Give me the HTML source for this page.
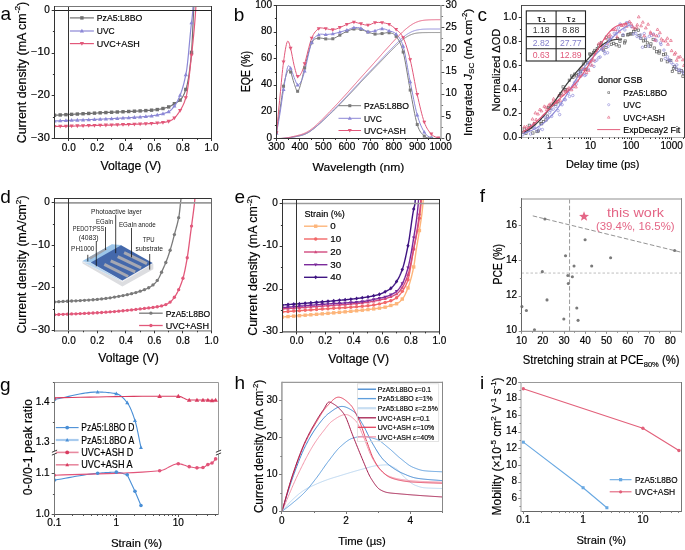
<!DOCTYPE html>
<html><head><meta charset="utf-8"><style>
html,body{margin:0;padding:0;background:#fff;}
svg{display:block;will-change:transform;}
text{font-family:"Liberation Sans", sans-serif;white-space:pre;stroke:#000;stroke-width:0.18;paint-order:stroke;}
</style></head><body>
<svg width="685" height="550" viewBox="0 0 685 550" font-family="Liberation Sans, sans-serif">
<defs><clipPath id="c1"><rect x="54.5" y="6.5" width="157" height="132"/></clipPath><clipPath id="c2"><rect x="276.5" y="5.5" width="164.5" height="133"/></clipPath><clipPath id="c3"><rect x="521.5" y="5.5" width="163" height="132"/></clipPath><clipPath id="c4"><rect x="54.5" y="198.5" width="157" height="132.3"/></clipPath><clipPath id="c5"><rect x="282.5" y="199.5" width="157" height="132.4"/></clipPath><clipPath id="c6"><rect x="54.5" y="382.5" width="164" height="132"/></clipPath><clipPath id="c7"><rect x="281.9" y="382.4" width="160.6" height="129.1"/></clipPath></defs>
<rect x="0" y="0" width="685" height="550" fill="#fff"/>
<g clip-path="url(#c1)">
<path d="M54.5,115.25 L54.79,115.23 L55.07,115.22 L55.36,115.2 L55.64,115.19 L55.93,115.17 L56.21,115.16 L56.5,115.14 L56.78,115.13 L57.07,115.11 L57.35,115.1 L57.64,115.08 L57.93,115.07 L58.21,115.05 L58.5,115.04 L58.78,115.02 L59.07,115.01 L59.35,114.99 L59.64,114.98 L59.92,114.96 L60.21,114.95 L60.49,114.93 L60.78,114.92 L61.07,114.9 L61.35,114.89 L61.64,114.87 L61.92,114.86 L62.21,114.84 L62.49,114.83 L62.78,114.81 L63.06,114.8 L63.35,114.78 L63.63,114.77 L63.92,114.75 L64.21,114.74 L64.49,114.72 L64.78,114.71 L65.06,114.69 L65.35,114.68 L65.63,114.66 L65.92,114.65 L66.2,114.63 L66.49,114.62 L66.77,114.6 L67.06,114.59 L67.35,114.57 L67.63,114.56 L67.92,114.54 L68.2,114.53 L68.49,114.51 L68.77,114.5 L69.06,114.49 L69.34,114.47 L69.63,114.46 L69.91,114.44 L70.2,114.43 L70.49,114.41 L70.77,114.4 L71.06,114.38 L71.34,114.37 L71.63,114.35 L71.91,114.34 L72.2,114.32 L72.48,114.31 L72.77,114.29 L73.05,114.28 L73.34,114.26 L73.63,114.25 L73.91,114.23 L74.2,114.22 L74.48,114.2 L74.77,114.19 L75.05,114.17 L75.34,114.16 L75.62,114.14 L75.91,114.13 L76.19,114.11 L76.48,114.1 L76.77,114.08 L77.05,114.07 L77.34,114.05 L77.62,114.04 L77.91,114.02 L78.19,114.01 L78.48,113.99 L78.76,113.98 L79.05,113.96 L79.33,113.95 L79.62,113.93 L79.91,113.92 L80.19,113.9 L80.48,113.89 L80.76,113.87 L81.05,113.86 L81.33,113.84 L81.62,113.83 L81.9,113.81 L82.19,113.8 L82.47,113.78 L82.76,113.77 L83.05,113.75 L83.33,113.74 L83.62,113.72 L83.9,113.71 L84.19,113.69 L84.47,113.68 L84.76,113.66 L85.04,113.65 L85.33,113.63 L85.61,113.62 L85.9,113.6 L86.19,113.59 L86.47,113.57 L86.76,113.56 L87.04,113.54 L87.33,113.53 L87.61,113.51 L87.9,113.5 L88.18,113.48 L88.47,113.47 L88.75,113.45 L89.04,113.44 L89.33,113.42 L89.61,113.41 L89.9,113.39 L90.18,113.38 L90.47,113.36 L90.75,113.34 L91.04,113.33 L91.32,113.31 L91.61,113.3 L91.89,113.28 L92.18,113.27 L92.47,113.25 L92.75,113.24 L93.04,113.22 L93.32,113.21 L93.61,113.19 L93.89,113.18 L94.18,113.16 L94.46,113.15 L94.75,113.13 L95.03,113.12 L95.32,113.1 L95.61,113.09 L95.89,113.07 L96.18,113.05 L96.46,113.04 L96.75,113.02 L97.03,113.01 L97.32,112.99 L97.6,112.98 L97.89,112.96 L98.17,112.95 L98.46,112.93 L98.75,112.92 L99.03,112.9 L99.32,112.89 L99.6,112.87 L99.89,112.86 L100.17,112.84 L100.46,112.83 L100.74,112.81 L101.03,112.8 L101.31,112.78 L101.6,112.77 L101.89,112.75 L102.17,112.74 L102.46,112.72 L102.74,112.71 L103.03,112.69 L103.31,112.68 L103.6,112.66 L103.88,112.65 L104.17,112.63 L104.45,112.62 L104.74,112.6 L105.03,112.59 L105.31,112.57 L105.6,112.56 L105.88,112.55 L106.17,112.53 L106.45,112.52 L106.74,112.5 L107.02,112.49 L107.31,112.47 L107.59,112.46 L107.88,112.44 L108.17,112.43 L108.45,112.42 L108.74,112.4 L109.02,112.39 L109.31,112.37 L109.59,112.36 L109.88,112.34 L110.16,112.33 L110.45,112.32 L110.73,112.3 L111.02,112.29 L111.31,112.27 L111.59,112.26 L111.88,112.25 L112.16,112.23 L112.45,112.22 L112.73,112.21 L113.02,112.19 L113.3,112.18 L113.59,112.16 L113.87,112.15 L114.16,112.14 L114.45,112.13 L114.73,112.11 L115.02,112.1 L115.3,112.09 L115.59,112.07 L115.87,112.06 L116.16,112.05 L116.44,112.04 L116.73,112.02 L117.01,112.01 L117.3,112 L117.59,111.99 L117.87,111.97 L118.16,111.96 L118.44,111.95 L118.73,111.94 L119.01,111.92 L119.3,111.91 L119.58,111.9 L119.87,111.89 L120.15,111.87 L120.44,111.86 L120.73,111.85 L121.01,111.84 L121.3,111.82 L121.58,111.81 L121.87,111.8 L122.15,111.79 L122.44,111.77 L122.72,111.76 L123.01,111.75 L123.29,111.73 L123.58,111.72 L123.87,111.71 L124.15,111.7 L124.44,111.68 L124.72,111.67 L125.01,111.66 L125.29,111.64 L125.58,111.63 L125.86,111.62 L126.15,111.6 L126.43,111.59 L126.72,111.58 L127.01,111.56 L127.29,111.55 L127.58,111.54 L127.86,111.52 L128.15,111.51 L128.43,111.49 L128.72,111.48 L129,111.47 L129.29,111.45 L129.57,111.44 L129.86,111.42 L130.15,111.41 L130.43,111.39 L130.72,111.38 L131,111.36 L131.29,111.35 L131.57,111.33 L131.86,111.32 L132.14,111.31 L132.43,111.29 L132.71,111.28 L133,111.26 L133.29,111.25 L133.57,111.24 L133.86,111.22 L134.14,111.21 L134.43,111.19 L134.71,111.18 L135,111.17 L135.28,111.15 L135.57,111.14 L135.85,111.13 L136.14,111.11 L136.43,111.1 L136.71,111.08 L137,111.07 L137.28,111.06 L137.57,111.04 L137.85,111.03 L138.14,111.02 L138.42,111 L138.71,110.99 L138.99,110.97 L139.28,110.96 L139.57,110.95 L139.85,110.93 L140.14,110.92 L140.42,110.9 L140.71,110.89 L140.99,110.87 L141.28,110.86 L141.56,110.84 L141.85,110.83 L142.13,110.81 L142.42,110.8 L142.71,110.78 L142.99,110.76 L143.28,110.75 L143.56,110.73 L143.85,110.72 L144.13,110.7 L144.42,110.68 L144.7,110.67 L144.99,110.65 L145.27,110.63 L145.56,110.61 L145.85,110.6 L146.13,110.58 L146.42,110.56 L146.7,110.54 L146.99,110.52 L147.27,110.5 L147.56,110.48 L147.84,110.46 L148.13,110.44 L148.41,110.42 L148.7,110.4 L148.99,110.38 L149.27,110.36 L149.56,110.34 L149.84,110.32 L150.13,110.29 L150.41,110.27 L150.7,110.25 L150.98,110.22 L151.27,110.2 L151.55,110.18 L151.84,110.15 L152.13,110.13 L152.41,110.1 L152.7,110.08 L152.98,110.05 L153.27,110.02 L153.55,110 L153.84,109.97 L154.12,109.94 L154.41,109.91 L154.69,109.88 L154.98,109.85 L155.27,109.82 L155.55,109.79 L155.84,109.76 L156.12,109.72 L156.41,109.69 L156.69,109.65 L156.98,109.61 L157.26,109.57 L157.55,109.53 L157.83,109.49 L158.12,109.44 L158.41,109.4 L158.69,109.35 L158.98,109.31 L159.26,109.26 L159.55,109.21 L159.83,109.16 L160.12,109.1 L160.4,109.05 L160.69,109 L160.97,108.94 L161.26,108.88 L161.55,108.82 L161.83,108.76 L162.12,108.7 L162.4,108.64 L162.69,108.58 L162.97,108.51 L163.26,108.45 L163.54,108.38 L163.83,108.31 L164.11,108.24 L164.4,108.17 L164.69,108.09 L164.97,108.02 L165.26,107.94 L165.54,107.87 L165.83,107.79 L166.11,107.71 L166.4,107.63 L166.68,107.54 L166.97,107.46 L167.25,107.38 L167.54,107.29 L167.83,107.2 L168.11,107.11 L168.4,107.02 L168.68,106.93 L168.97,106.83 L169.25,106.72 L169.54,106.6 L169.82,106.47 L170.11,106.33 L170.39,106.18 L170.68,106.02 L170.97,105.86 L171.25,105.69 L171.54,105.52 L171.82,105.34 L172.11,105.16 L172.39,104.98 L172.68,104.79 L172.96,104.61 L173.25,104.42 L173.53,104.24 L173.82,104.05 L174.11,103.87 L174.39,103.69 L174.68,103.51 L174.96,103.34 L175.25,103.18 L175.53,103.02 L175.82,102.86 L176.1,102.7 L176.39,102.55 L176.67,102.39 L176.96,102.24 L177.25,102.08 L177.53,101.91 L177.82,101.75 L178.1,101.57 L178.39,101.39 L178.67,101.2 L178.96,101 L179.24,100.79 L179.53,100.57 L179.81,100.33 L180.1,100.08 L180.39,99.81 L180.67,99.53 L180.96,99.22 L181.24,98.88 L181.53,98.51 L181.81,98.12 L182.1,97.7 L182.38,97.25 L182.67,96.77 L182.95,96.26 L183.24,95.72 L183.53,95.15 L183.81,94.55 L184.1,93.91 L184.38,93.25 L184.67,92.56 L184.95,91.83 L185.24,91.07 L185.52,90.28 L185.81,89.45 L186.09,88.6 L186.38,87.69 L186.67,86.7 L186.95,85.6 L187.24,84.4 L187.52,83.09 L187.81,81.67 L188.09,80.14 L188.38,78.5 L188.66,76.75 L188.95,74.87 L189.23,72.88 L189.52,70.77 L189.81,68.54 L190.09,66.19 L190.38,63.71 L190.66,61.1 L190.95,58.37 L191.23,55.5 L191.52,52.37 L191.8,48.23 L192.09,43.2 L192.37,37.51 L192.66,31.42 L192.95,25.17 L193.23,19.02 L193.52,13.2 L193.8,7.91 L194.09,2.82" stroke="#6f6f6f" stroke-width="1.2" fill="none" stroke-linejoin="round"/>
<rect x="52.8" y="113.55" width="3.4" height="3.4" fill="#6f6f6f"/>
<rect x="58.51" y="113.25" width="3.4" height="3.4" fill="#6f6f6f"/>
<rect x="64.22" y="112.95" width="3.4" height="3.4" fill="#6f6f6f"/>
<rect x="69.93" y="112.65" width="3.4" height="3.4" fill="#6f6f6f"/>
<rect x="75.64" y="112.35" width="3.4" height="3.4" fill="#6f6f6f"/>
<rect x="81.35" y="112.05" width="3.4" height="3.4" fill="#6f6f6f"/>
<rect x="87.05" y="111.75" width="3.4" height="3.4" fill="#6f6f6f"/>
<rect x="92.76" y="111.45" width="3.4" height="3.4" fill="#6f6f6f"/>
<rect x="98.47" y="111.14" width="3.4" height="3.4" fill="#6f6f6f"/>
<rect x="104.18" y="110.85" width="3.4" height="3.4" fill="#6f6f6f"/>
<rect x="109.89" y="110.56" width="3.4" height="3.4" fill="#6f6f6f"/>
<rect x="115.6" y="110.3" width="3.4" height="3.4" fill="#6f6f6f"/>
<rect x="121.31" y="110.05" width="3.4" height="3.4" fill="#6f6f6f"/>
<rect x="127.02" y="109.78" width="3.4" height="3.4" fill="#6f6f6f"/>
<rect x="132.73" y="109.49" width="3.4" height="3.4" fill="#6f6f6f"/>
<rect x="138.44" y="109.22" width="3.4" height="3.4" fill="#6f6f6f"/>
<rect x="144.15" y="108.9" width="3.4" height="3.4" fill="#6f6f6f"/>
<rect x="149.85" y="108.48" width="3.4" height="3.4" fill="#6f6f6f"/>
<rect x="155.56" y="107.87" width="3.4" height="3.4" fill="#6f6f6f"/>
<rect x="161.27" y="106.81" width="3.4" height="3.4" fill="#6f6f6f"/>
<rect x="166.98" y="105.23" width="3.4" height="3.4" fill="#6f6f6f"/>
<rect x="172.69" y="101.99" width="3.4" height="3.4" fill="#6f6f6f"/>
<rect x="178.4" y="98.38" width="3.4" height="3.4" fill="#6f6f6f"/>
<rect x="184.11" y="87.75" width="3.4" height="3.4" fill="#6f6f6f"/>
<rect x="189.82" y="50.67" width="3.4" height="3.4" fill="#6f6f6f"/>
<path d="M54.5,121.01 L54.79,120.99 L55.07,120.98 L55.36,120.97 L55.64,120.96 L55.93,120.94 L56.21,120.93 L56.5,120.92 L56.78,120.9 L57.07,120.89 L57.35,120.88 L57.64,120.87 L57.93,120.85 L58.21,120.84 L58.5,120.83 L58.78,120.82 L59.07,120.81 L59.35,120.79 L59.64,120.78 L59.92,120.77 L60.21,120.76 L60.49,120.74 L60.78,120.73 L61.07,120.72 L61.35,120.71 L61.64,120.7 L61.92,120.68 L62.21,120.67 L62.49,120.66 L62.78,120.65 L63.06,120.64 L63.35,120.62 L63.63,120.61 L63.92,120.6 L64.21,120.59 L64.49,120.58 L64.78,120.56 L65.06,120.55 L65.35,120.54 L65.63,120.53 L65.92,120.52 L66.2,120.51 L66.49,120.49 L66.77,120.48 L67.06,120.47 L67.35,120.46 L67.63,120.45 L67.92,120.44 L68.2,120.42 L68.49,120.41 L68.77,120.4 L69.06,120.39 L69.34,120.38 L69.63,120.37 L69.91,120.36 L70.2,120.34 L70.49,120.33 L70.77,120.32 L71.06,120.31 L71.34,120.3 L71.63,120.29 L71.91,120.28 L72.2,120.27 L72.48,120.25 L72.77,120.24 L73.05,120.23 L73.34,120.22 L73.63,120.21 L73.91,120.2 L74.2,120.19 L74.48,120.17 L74.77,120.16 L75.05,120.15 L75.34,120.14 L75.62,120.13 L75.91,120.12 L76.19,120.11 L76.48,120.1 L76.77,120.09 L77.05,120.07 L77.34,120.06 L77.62,120.05 L77.91,120.04 L78.19,120.03 L78.48,120.02 L78.76,120.01 L79.05,120 L79.33,119.98 L79.62,119.97 L79.91,119.96 L80.19,119.95 L80.48,119.94 L80.76,119.93 L81.05,119.92 L81.33,119.91 L81.62,119.9 L81.9,119.88 L82.19,119.87 L82.47,119.86 L82.76,119.85 L83.05,119.84 L83.33,119.83 L83.62,119.82 L83.9,119.81 L84.19,119.79 L84.47,119.78 L84.76,119.77 L85.04,119.76 L85.33,119.75 L85.61,119.74 L85.9,119.73 L86.19,119.72 L86.47,119.7 L86.76,119.69 L87.04,119.68 L87.33,119.67 L87.61,119.66 L87.9,119.65 L88.18,119.64 L88.47,119.63 L88.75,119.61 L89.04,119.6 L89.33,119.59 L89.61,119.58 L89.9,119.57 L90.18,119.56 L90.47,119.55 L90.75,119.53 L91.04,119.52 L91.32,119.51 L91.61,119.5 L91.89,119.49 L92.18,119.48 L92.47,119.46 L92.75,119.45 L93.04,119.44 L93.32,119.43 L93.61,119.42 L93.89,119.41 L94.18,119.39 L94.46,119.38 L94.75,119.37 L95.03,119.36 L95.32,119.35 L95.61,119.34 L95.89,119.32 L96.18,119.31 L96.46,119.3 L96.75,119.29 L97.03,119.28 L97.32,119.26 L97.6,119.25 L97.89,119.24 L98.17,119.23 L98.46,119.22 L98.75,119.2 L99.03,119.19 L99.32,119.18 L99.6,119.17 L99.89,119.15 L100.17,119.14 L100.46,119.13 L100.74,119.12 L101.03,119.11 L101.31,119.09 L101.6,119.08 L101.89,119.07 L102.17,119.06 L102.46,119.04 L102.74,119.03 L103.03,119.02 L103.31,119.01 L103.6,118.99 L103.88,118.98 L104.17,118.97 L104.45,118.95 L104.74,118.94 L105.03,118.93 L105.31,118.92 L105.6,118.9 L105.88,118.89 L106.17,118.88 L106.45,118.86 L106.74,118.85 L107.02,118.84 L107.31,118.82 L107.59,118.81 L107.88,118.8 L108.17,118.78 L108.45,118.77 L108.74,118.76 L109.02,118.74 L109.31,118.73 L109.59,118.72 L109.88,118.7 L110.16,118.69 L110.45,118.68 L110.73,118.66 L111.02,118.65 L111.31,118.63 L111.59,118.62 L111.88,118.61 L112.16,118.59 L112.45,118.58 L112.73,118.56 L113.02,118.55 L113.3,118.54 L113.59,118.52 L113.87,118.51 L114.16,118.49 L114.45,118.48 L114.73,118.46 L115.02,118.45 L115.3,118.44 L115.59,118.42 L115.87,118.41 L116.16,118.39 L116.44,118.38 L116.73,118.36 L117.01,118.35 L117.3,118.33 L117.59,118.32 L117.87,118.3 L118.16,118.29 L118.44,118.27 L118.73,118.26 L119.01,118.24 L119.3,118.23 L119.58,118.21 L119.87,118.2 L120.15,118.18 L120.44,118.16 L120.73,118.15 L121.01,118.13 L121.3,118.12 L121.58,118.1 L121.87,118.09 L122.15,118.07 L122.44,118.05 L122.72,118.04 L123.01,118.02 L123.29,118 L123.58,117.99 L123.87,117.97 L124.15,117.96 L124.44,117.94 L124.72,117.92 L125.01,117.91 L125.29,117.89 L125.58,117.87 L125.86,117.86 L126.15,117.84 L126.43,117.82 L126.72,117.8 L127.01,117.79 L127.29,117.77 L127.58,117.75 L127.86,117.74 L128.15,117.72 L128.43,117.7 L128.72,117.68 L129,117.66 L129.29,117.65 L129.57,117.63 L129.86,117.61 L130.15,117.59 L130.43,117.58 L130.72,117.56 L131,117.54 L131.29,117.52 L131.57,117.5 L131.86,117.49 L132.14,117.47 L132.43,117.45 L132.71,117.43 L133,117.41 L133.29,117.39 L133.57,117.38 L133.86,117.36 L134.14,117.34 L134.43,117.32 L134.71,117.3 L135,117.28 L135.28,117.26 L135.57,117.25 L135.85,117.23 L136.14,117.21 L136.43,117.19 L136.71,117.17 L137,117.15 L137.28,117.13 L137.57,117.11 L137.85,117.09 L138.14,117.07 L138.42,117.05 L138.71,117.03 L138.99,117.01 L139.28,116.99 L139.57,116.97 L139.85,116.94 L140.14,116.92 L140.42,116.9 L140.71,116.88 L140.99,116.86 L141.28,116.84 L141.56,116.81 L141.85,116.79 L142.13,116.77 L142.42,116.74 L142.71,116.72 L142.99,116.7 L143.28,116.67 L143.56,116.65 L143.85,116.62 L144.13,116.6 L144.42,116.57 L144.7,116.55 L144.99,116.52 L145.27,116.5 L145.56,116.47 L145.85,116.44 L146.13,116.42 L146.42,116.39 L146.7,116.36 L146.99,116.33 L147.27,116.3 L147.56,116.28 L147.84,116.25 L148.13,116.22 L148.41,116.19 L148.7,116.16 L148.99,116.13 L149.27,116.09 L149.56,116.06 L149.84,116.03 L150.13,116 L150.41,115.97 L150.7,115.93 L150.98,115.9 L151.27,115.87 L151.55,115.83 L151.84,115.8 L152.13,115.76 L152.41,115.72 L152.7,115.69 L152.98,115.65 L153.27,115.61 L153.55,115.58 L153.84,115.54 L154.12,115.5 L154.41,115.46 L154.69,115.42 L154.98,115.38 L155.27,115.34 L155.55,115.29 L155.84,115.25 L156.12,115.21 L156.41,115.16 L156.69,115.11 L156.98,115.07 L157.26,115.02 L157.55,114.97 L157.83,114.92 L158.12,114.86 L158.41,114.81 L158.69,114.75 L158.98,114.7 L159.26,114.64 L159.55,114.58 L159.83,114.52 L160.12,114.45 L160.4,114.39 L160.69,114.32 L160.97,114.25 L161.26,114.18 L161.55,114.11 L161.83,114.04 L162.12,113.96 L162.4,113.89 L162.69,113.81 L162.97,113.73 L163.26,113.64 L163.54,113.56 L163.83,113.47 L164.11,113.38 L164.4,113.29 L164.69,113.2 L164.97,113.1 L165.26,113 L165.54,112.9 L165.83,112.8 L166.11,112.69 L166.4,112.58 L166.68,112.47 L166.97,112.36 L167.25,112.24 L167.54,112.12 L167.83,112 L168.11,111.88 L168.4,111.75 L168.68,111.62 L168.97,111.48 L169.25,111.32 L169.54,111.14 L169.82,110.94 L170.11,110.72 L170.39,110.49 L170.68,110.25 L170.97,109.99 L171.25,109.71 L171.54,109.42 L171.82,109.12 L172.11,108.81 L172.39,108.49 L172.68,108.16 L172.96,107.82 L173.25,107.47 L173.53,107.12 L173.82,106.76 L174.11,106.39 L174.39,106.02 L174.68,105.65 L174.96,105.26 L175.25,104.86 L175.53,104.44 L175.82,104 L176.1,103.54 L176.39,103.06 L176.67,102.57 L176.96,102.06 L177.25,101.52 L177.53,100.97 L177.82,100.4 L178.1,99.82 L178.39,99.21 L178.67,98.59 L178.96,97.95 L179.24,97.29 L179.53,96.61 L179.81,95.91 L180.1,95.19 L180.39,94.46 L180.67,93.71 L180.96,92.93 L181.24,92.13 L181.53,91.31 L181.81,90.45 L182.1,89.57 L182.38,88.65 L182.67,87.71 L182.95,86.73 L183.24,85.71 L183.53,84.65 L183.81,83.55 L184.1,82.42 L184.38,81.23 L184.67,80.01 L184.95,78.73 L185.24,77.41 L185.52,76.03 L185.81,74.61 L186.09,73.13 L186.38,71.56 L186.67,69.76 L186.95,67.71 L187.24,65.44 L187.52,62.99 L187.81,60.36 L188.09,57.59 L188.38,54.7 L188.66,51.72 L188.95,48.68 L189.23,45.59 L189.52,42.49 L189.81,39.4 L190.09,36.34 L190.38,33.35 L190.66,30.44 L190.95,27.64 L191.23,25 L191.52,22.62 L191.8,20.34 L192.09,17.98 L192.37,15.35 L192.66,12.27 L192.95,8.25 L193.23,2.82" stroke="#8c88d6" stroke-width="1.2" fill="none" stroke-linejoin="round"/>
<polygon points="54.5,118.8 56.6,122.58 52.4,122.58" fill="#8c88d6"/>
<polygon points="60.21,118.55 62.31,122.33 58.11,122.33" fill="#8c88d6"/>
<polygon points="65.92,118.31 68.02,122.09 63.82,122.09" fill="#8c88d6"/>
<polygon points="71.63,118.08 73.73,121.86 69.53,121.86" fill="#8c88d6"/>
<polygon points="77.34,117.86 79.44,121.64 75.24,121.64" fill="#8c88d6"/>
<polygon points="83.05,117.63 85.15,121.41 80.95,121.41" fill="#8c88d6"/>
<polygon points="88.75,117.41 90.85,121.19 86.65,121.19" fill="#8c88d6"/>
<polygon points="94.46,117.18 96.56,120.96 92.36,120.96" fill="#8c88d6"/>
<polygon points="100.17,116.94 102.27,120.72 98.07,120.72" fill="#8c88d6"/>
<polygon points="105.88,116.68 107.98,120.46 103.78,120.46" fill="#8c88d6"/>
<polygon points="111.59,116.42 113.69,120.2 109.49,120.2" fill="#8c88d6"/>
<polygon points="117.3,116.13 119.4,119.91 115.2,119.91" fill="#8c88d6"/>
<polygon points="123.01,115.82 125.11,119.6 120.91,119.6" fill="#8c88d6"/>
<polygon points="128.72,115.48 130.82,119.26 126.62,119.26" fill="#8c88d6"/>
<polygon points="134.43,115.12 136.53,118.9 132.33,118.9" fill="#8c88d6"/>
<polygon points="140.14,114.72 142.24,118.5 138.04,118.5" fill="#8c88d6"/>
<polygon points="145.85,114.24 147.95,118.02 143.75,118.02" fill="#8c88d6"/>
<polygon points="151.55,113.63 153.65,117.41 149.45,117.41" fill="#8c88d6"/>
<polygon points="157.26,112.81 159.36,116.59 155.16,116.59" fill="#8c88d6"/>
<polygon points="162.97,111.52 165.07,115.3 160.87,115.3" fill="#8c88d6"/>
<polygon points="168.68,109.41 170.78,113.19 166.58,113.19" fill="#8c88d6"/>
<polygon points="174.39,103.82 176.49,107.6 172.29,107.6" fill="#8c88d6"/>
<polygon points="180.1,92.99 182.2,96.77 178,96.77" fill="#8c88d6"/>
<polygon points="185.81,72.4 187.91,76.18 183.71,76.18" fill="#8c88d6"/>
<polygon points="191.52,20.41 193.62,24.19 189.42,24.19" fill="#8c88d6"/>
<path d="M54.5,126.55 L54.79,126.55 L55.07,126.54 L55.36,126.53 L55.64,126.52 L55.93,126.51 L56.21,126.51 L56.5,126.5 L56.78,126.49 L57.07,126.48 L57.35,126.47 L57.64,126.47 L57.93,126.46 L58.21,126.45 L58.5,126.44 L58.78,126.43 L59.07,126.43 L59.35,126.42 L59.64,126.41 L59.92,126.4 L60.21,126.4 L60.49,126.39 L60.78,126.38 L61.07,126.37 L61.35,126.36 L61.64,126.36 L61.92,126.35 L62.21,126.34 L62.49,126.33 L62.78,126.33 L63.06,126.32 L63.35,126.31 L63.63,126.3 L63.92,126.3 L64.21,126.29 L64.49,126.28 L64.78,126.27 L65.06,126.26 L65.35,126.26 L65.63,126.25 L65.92,126.24 L66.2,126.23 L66.49,126.23 L66.77,126.22 L67.06,126.21 L67.35,126.2 L67.63,126.2 L67.92,126.19 L68.2,126.18 L68.49,126.17 L68.77,126.17 L69.06,126.16 L69.34,126.15 L69.63,126.14 L69.91,126.14 L70.2,126.13 L70.49,126.12 L70.77,126.12 L71.06,126.11 L71.34,126.1 L71.63,126.09 L71.91,126.09 L72.2,126.08 L72.48,126.07 L72.77,126.06 L73.05,126.06 L73.34,126.05 L73.63,126.04 L73.91,126.03 L74.2,126.03 L74.48,126.02 L74.77,126.01 L75.05,126 L75.34,126 L75.62,125.99 L75.91,125.98 L76.19,125.97 L76.48,125.97 L76.77,125.96 L77.05,125.95 L77.34,125.95 L77.62,125.94 L77.91,125.93 L78.19,125.92 L78.48,125.92 L78.76,125.91 L79.05,125.9 L79.33,125.89 L79.62,125.89 L79.91,125.88 L80.19,125.87 L80.48,125.86 L80.76,125.86 L81.05,125.85 L81.33,125.84 L81.62,125.84 L81.9,125.83 L82.19,125.82 L82.47,125.81 L82.76,125.81 L83.05,125.8 L83.33,125.79 L83.62,125.78 L83.9,125.78 L84.19,125.77 L84.47,125.76 L84.76,125.75 L85.04,125.75 L85.33,125.74 L85.61,125.73 L85.9,125.72 L86.19,125.72 L86.47,125.71 L86.76,125.7 L87.04,125.7 L87.33,125.69 L87.61,125.68 L87.9,125.67 L88.18,125.67 L88.47,125.66 L88.75,125.65 L89.04,125.64 L89.33,125.64 L89.61,125.63 L89.9,125.62 L90.18,125.61 L90.47,125.61 L90.75,125.6 L91.04,125.59 L91.32,125.58 L91.61,125.58 L91.89,125.57 L92.18,125.56 L92.47,125.55 L92.75,125.55 L93.04,125.54 L93.32,125.53 L93.61,125.52 L93.89,125.52 L94.18,125.51 L94.46,125.5 L94.75,125.49 L95.03,125.49 L95.32,125.48 L95.61,125.47 L95.89,125.46 L96.18,125.46 L96.46,125.45 L96.75,125.44 L97.03,125.43 L97.32,125.42 L97.6,125.42 L97.89,125.41 L98.17,125.4 L98.46,125.39 L98.75,125.39 L99.03,125.38 L99.32,125.37 L99.6,125.36 L99.89,125.35 L100.17,125.35 L100.46,125.34 L100.74,125.33 L101.03,125.32 L101.31,125.32 L101.6,125.31 L101.89,125.3 L102.17,125.29 L102.46,125.28 L102.74,125.28 L103.03,125.27 L103.31,125.26 L103.6,125.25 L103.88,125.24 L104.17,125.24 L104.45,125.23 L104.74,125.22 L105.03,125.21 L105.31,125.2 L105.6,125.2 L105.88,125.19 L106.17,125.18 L106.45,125.17 L106.74,125.16 L107.02,125.16 L107.31,125.15 L107.59,125.14 L107.88,125.13 L108.17,125.12 L108.45,125.11 L108.74,125.11 L109.02,125.1 L109.31,125.09 L109.59,125.08 L109.88,125.07 L110.16,125.06 L110.45,125.06 L110.73,125.05 L111.02,125.04 L111.31,125.03 L111.59,125.02 L111.88,125.01 L112.16,125.01 L112.45,125 L112.73,124.99 L113.02,124.98 L113.3,124.97 L113.59,124.96 L113.87,124.95 L114.16,124.95 L114.45,124.94 L114.73,124.93 L115.02,124.92 L115.3,124.91 L115.59,124.9 L115.87,124.89 L116.16,124.88 L116.44,124.88 L116.73,124.87 L117.01,124.86 L117.3,124.85 L117.59,124.84 L117.87,124.83 L118.16,124.82 L118.44,124.81 L118.73,124.8 L119.01,124.79 L119.3,124.79 L119.58,124.78 L119.87,124.77 L120.15,124.76 L120.44,124.75 L120.73,124.74 L121.01,124.73 L121.3,124.72 L121.58,124.71 L121.87,124.7 L122.15,124.69 L122.44,124.68 L122.72,124.67 L123.01,124.67 L123.29,124.66 L123.58,124.65 L123.87,124.64 L124.15,124.63 L124.44,124.62 L124.72,124.61 L125.01,124.6 L125.29,124.59 L125.58,124.58 L125.86,124.57 L126.15,124.56 L126.43,124.55 L126.72,124.54 L127.01,124.53 L127.29,124.52 L127.58,124.51 L127.86,124.5 L128.15,124.49 L128.43,124.48 L128.72,124.47 L129,124.46 L129.29,124.45 L129.57,124.44 L129.86,124.43 L130.15,124.42 L130.43,124.41 L130.72,124.4 L131,124.39 L131.29,124.38 L131.57,124.37 L131.86,124.36 L132.14,124.35 L132.43,124.34 L132.71,124.33 L133,124.32 L133.29,124.31 L133.57,124.3 L133.86,124.29 L134.14,124.28 L134.43,124.27 L134.71,124.26 L135,124.25 L135.28,124.24 L135.57,124.23 L135.85,124.22 L136.14,124.21 L136.43,124.2 L136.71,124.19 L137,124.18 L137.28,124.17 L137.57,124.16 L137.85,124.15 L138.14,124.14 L138.42,124.13 L138.71,124.12 L138.99,124.11 L139.28,124.1 L139.57,124.09 L139.85,124.08 L140.14,124.07 L140.42,124.06 L140.71,124.05 L140.99,124.04 L141.28,124.03 L141.56,124.02 L141.85,124.01 L142.13,123.99 L142.42,123.98 L142.71,123.97 L142.99,123.96 L143.28,123.95 L143.56,123.94 L143.85,123.92 L144.13,123.91 L144.42,123.9 L144.7,123.89 L144.99,123.88 L145.27,123.86 L145.56,123.85 L145.85,123.84 L146.13,123.82 L146.42,123.81 L146.7,123.8 L146.99,123.78 L147.27,123.77 L147.56,123.76 L147.84,123.74 L148.13,123.73 L148.41,123.71 L148.7,123.7 L148.99,123.68 L149.27,123.67 L149.56,123.65 L149.84,123.64 L150.13,123.62 L150.41,123.6 L150.7,123.59 L150.98,123.57 L151.27,123.55 L151.55,123.54 L151.84,123.52 L152.13,123.5 L152.41,123.49 L152.7,123.47 L152.98,123.45 L153.27,123.43 L153.55,123.41 L153.84,123.39 L154.12,123.37 L154.41,123.35 L154.69,123.33 L154.98,123.31 L155.27,123.29 L155.55,123.27 L155.84,123.25 L156.12,123.23 L156.41,123.21 L156.69,123.18 L156.98,123.16 L157.26,123.14 L157.55,123.11 L157.83,123.09 L158.12,123.06 L158.41,123.04 L158.69,123.01 L158.98,122.98 L159.26,122.96 L159.55,122.93 L159.83,122.9 L160.12,122.87 L160.4,122.84 L160.69,122.8 L160.97,122.77 L161.26,122.74 L161.55,122.7 L161.83,122.67 L162.12,122.63 L162.4,122.59 L162.69,122.55 L162.97,122.51 L163.26,122.47 L163.54,122.43 L163.83,122.38 L164.11,122.34 L164.4,122.29 L164.69,122.25 L164.97,122.2 L165.26,122.15 L165.54,122.1 L165.83,122.04 L166.11,121.99 L166.4,121.93 L166.68,121.88 L166.97,121.82 L167.25,121.76 L167.54,121.7 L167.83,121.63 L168.11,121.57 L168.4,121.5 L168.68,121.43 L168.97,121.36 L169.25,121.27 L169.54,121.16 L169.82,121.04 L170.11,120.91 L170.39,120.77 L170.68,120.62 L170.97,120.46 L171.25,120.29 L171.54,120.11 L171.82,119.92 L172.11,119.73 L172.39,119.53 L172.68,119.32 L172.96,119.11 L173.25,118.89 L173.53,118.67 L173.82,118.45 L174.11,118.21 L174.39,117.97 L174.68,117.71 L174.96,117.43 L175.25,117.14 L175.53,116.84 L175.82,116.52 L176.1,116.2 L176.39,115.85 L176.67,115.5 L176.96,115.14 L177.25,114.76 L177.53,114.38 L177.82,113.98 L178.1,113.58 L178.39,113.16 L178.67,112.74 L178.96,112.31 L179.24,111.87 L179.53,111.42 L179.81,110.97 L180.1,110.51 L180.39,110.05 L180.67,109.58 L180.96,109.1 L181.24,108.61 L181.53,108.12 L181.81,107.6 L182.1,107.07 L182.38,106.52 L182.67,105.95 L182.95,105.36 L183.24,104.75 L183.53,104.1 L183.81,103.43 L184.1,102.73 L184.38,101.99 L184.67,101.22 L184.95,100.41 L185.24,99.56 L185.52,98.68 L185.81,97.74 L186.09,96.77 L186.38,95.72 L186.67,94.49 L186.95,93.06 L187.24,91.45 L187.52,89.68 L187.81,87.75 L188.09,85.69 L188.38,83.5 L188.66,81.2 L188.95,78.81 L189.23,76.34 L189.52,73.79 L189.81,71.2 L190.09,68.56 L190.38,65.9 L190.66,63.23 L190.95,60.57 L191.23,57.92 L191.52,55.3 L191.8,52.7 L192.09,50.1 L192.37,47.47 L192.66,44.81 L192.95,42.08 L193.23,39.29 L193.52,36.41 L193.8,33.43 L194.09,30.34 L194.37,27.11 L194.66,23.73 L194.94,20.18 L195.23,16.46 L195.51,12.54 L195.8,8.16 L196.09,2.82" stroke="#e2587a" stroke-width="1.2" fill="none" stroke-linejoin="round"/>
<polygon points="54.5,128.76 56.6,124.98 52.4,124.98" fill="#e2587a"/>
<polygon points="60.21,128.6 62.31,124.82 58.11,124.82" fill="#e2587a"/>
<polygon points="65.92,128.45 68.02,124.67 63.82,124.67" fill="#e2587a"/>
<polygon points="71.63,128.3 73.73,124.52 69.53,124.52" fill="#e2587a"/>
<polygon points="77.34,128.15 79.44,124.37 75.24,124.37" fill="#e2587a"/>
<polygon points="83.05,128 85.15,124.22 80.95,124.22" fill="#e2587a"/>
<polygon points="88.75,127.86 90.85,124.08 86.65,124.08" fill="#e2587a"/>
<polygon points="94.46,127.71 96.56,123.93 92.36,123.93" fill="#e2587a"/>
<polygon points="100.17,127.55 102.27,123.77 98.07,123.77" fill="#e2587a"/>
<polygon points="105.88,127.39 107.98,123.61 103.78,123.61" fill="#e2587a"/>
<polygon points="111.59,127.23 113.69,123.45 109.49,123.45" fill="#e2587a"/>
<polygon points="117.3,127.05 119.4,123.27 115.2,123.27" fill="#e2587a"/>
<polygon points="123.01,126.87 125.11,123.09 120.91,123.09" fill="#e2587a"/>
<polygon points="128.72,126.68 130.82,122.9 126.62,122.9" fill="#e2587a"/>
<polygon points="134.43,126.48 136.53,122.7 132.33,122.7" fill="#e2587a"/>
<polygon points="140.14,126.28 142.24,122.5 138.04,122.5" fill="#e2587a"/>
<polygon points="145.85,126.04 147.95,122.26 143.75,122.26" fill="#e2587a"/>
<polygon points="151.55,125.74 153.65,121.96 149.45,121.96" fill="#e2587a"/>
<polygon points="157.26,125.34 159.36,121.56 155.16,121.56" fill="#e2587a"/>
<polygon points="162.97,124.72 165.07,120.94 160.87,120.94" fill="#e2587a"/>
<polygon points="168.68,123.64 170.78,119.86 166.58,119.86" fill="#e2587a"/>
<polygon points="174.39,120.17 176.49,116.39 172.29,116.39" fill="#e2587a"/>
<polygon points="180.1,112.71 182.2,108.93 178,108.93" fill="#e2587a"/>
<polygon points="185.81,99.95 187.91,96.17 183.71,96.17" fill="#e2587a"/>
<polygon points="191.52,57.5 193.62,53.72 189.42,53.72" fill="#e2587a"/>
</g>
<line x1="54.5" y1="10.5" x2="211.5" y2="10.5" stroke="#222" stroke-width="1"/>
<line x1="68.5" y1="6.5" x2="68.5" y2="138.5" stroke="#333" stroke-width="1"/>
<line x1="54.5" y1="6.5" x2="211.5" y2="6.5" stroke="#777" stroke-width="1"/>
<line x1="54.5" y1="138.5" x2="211.5" y2="138.5" stroke="#333" stroke-width="1"/>
<line x1="54.5" y1="6" x2="54.5" y2="139" stroke="#333" stroke-width="1"/>
<line x1="211.5" y1="6" x2="211.5" y2="139" stroke="#333" stroke-width="1"/>
<line x1="68.5" y1="138.5" x2="68.5" y2="141" stroke="#333" stroke-width="1"/>
<line x1="97.5" y1="138.5" x2="97.5" y2="141" stroke="#333" stroke-width="1"/>
<line x1="125.5" y1="138.5" x2="125.5" y2="141" stroke="#333" stroke-width="1"/>
<line x1="154.5" y1="138.5" x2="154.5" y2="141" stroke="#333" stroke-width="1"/>
<line x1="182.5" y1="138.5" x2="182.5" y2="141" stroke="#333" stroke-width="1"/>
<line x1="211.5" y1="138.5" x2="211.5" y2="141" stroke="#333" stroke-width="1"/>
<line x1="83.5" y1="138.5" x2="83.5" y2="140" stroke="#333" stroke-width="1"/>
<line x1="111.5" y1="138.5" x2="111.5" y2="140" stroke="#333" stroke-width="1"/>
<line x1="140.5" y1="138.5" x2="140.5" y2="140" stroke="#333" stroke-width="1"/>
<line x1="168.5" y1="138.5" x2="168.5" y2="140" stroke="#333" stroke-width="1"/>
<line x1="197.5" y1="138.5" x2="197.5" y2="140" stroke="#333" stroke-width="1"/>
<line x1="54.5" y1="10.5" x2="51.7" y2="10.5" stroke="#333" stroke-width="1"/>
<line x1="54.5" y1="53.5" x2="51.7" y2="53.5" stroke="#333" stroke-width="1"/>
<line x1="54.5" y1="95.5" x2="51.7" y2="95.5" stroke="#333" stroke-width="1"/>
<line x1="54.5" y1="138.5" x2="51.7" y2="138.5" stroke="#333" stroke-width="1"/>
<line x1="54.5" y1="31.5" x2="52.9" y2="31.5" stroke="#333" stroke-width="1"/>
<line x1="54.5" y1="74.5" x2="52.9" y2="74.5" stroke="#333" stroke-width="1"/>
<line x1="54.5" y1="117.5" x2="52.9" y2="117.5" stroke="#333" stroke-width="1"/>
<text x="68.77" y="150.78" font-size="10" text-anchor="middle">0.0</text>
<text x="97.32" y="150.78" font-size="10" text-anchor="middle">0.2</text>
<text x="125.86" y="150.78" font-size="10" text-anchor="middle">0.4</text>
<text x="154.41" y="150.78" font-size="10" text-anchor="middle">0.6</text>
<text x="182.95" y="150.78" font-size="10" text-anchor="middle">0.8</text>
<text x="211.5" y="150.78" font-size="10" text-anchor="middle">1.0</text>
<text x="49.9" y="12.68" font-size="10" text-anchor="end">0</text>
<text x="49.9" y="55.35" font-size="10" text-anchor="end" textLength="18.8" lengthAdjust="spacingAndGlyphs">−10</text>
<text x="49.9" y="98.01" font-size="10" text-anchor="end" textLength="18.8" lengthAdjust="spacingAndGlyphs">−20</text>
<text x="49.9" y="140.68" font-size="10" text-anchor="end" textLength="18.8" lengthAdjust="spacingAndGlyphs">−30</text>
<line x1="69.9" y1="17.9" x2="93.9" y2="17.9" stroke="#6f6f6f" stroke-width="1.2"/>
<rect x="80.2" y="16.2" width="3.4" height="3.4" fill="#6f6f6f"/>
<text x="96.8" y="21.34" font-size="9.6" textLength="45.5" lengthAdjust="spacingAndGlyphs">PzA5:L8BO</text>
<line x1="69.9" y1="31" x2="93.9" y2="31" stroke="#8c88d6" stroke-width="1.2"/>
<polygon points="81.9,28.8 84,32.58 79.8,32.58" fill="#8c88d6"/>
<text x="96.8" y="34.44" font-size="9.6" textLength="17.9" lengthAdjust="spacingAndGlyphs">UVC</text>
<line x1="69.9" y1="43.6" x2="93.9" y2="43.6" stroke="#e2587a" stroke-width="1.2"/>
<polygon points="81.9,45.8 84,42.02 79.8,42.02" fill="#e2587a"/>
<text x="96.8" y="47.04" font-size="9.6" textLength="42.9" lengthAdjust="spacingAndGlyphs">UVC+ASH</text>
<text x="100.4" y="170" font-size="12" textLength="60.8" lengthAdjust="spacingAndGlyphs">Voltage (V)</text>
<g transform="translate(25.5,143.3) rotate(-90)">
<text x="0" y="0" font-size="12" textLength="129.98" lengthAdjust="spacingAndGlyphs">Current density (mA cm</text>
<text x="129.98" y="-5.3" font-size="8" textLength="7.38" lengthAdjust="spacingAndGlyphs">-2</text>
<text x="137.36" y="0" font-size="12" textLength="4.14" lengthAdjust="spacingAndGlyphs">)</text>
</g>
<text x="0.5" y="20.3" font-size="19" fill="#050505" style="stroke:none">a</text>
<g clip-path="url(#c2)">
<path d="M276.5,132.51 C277.09,128.64 278.85,116.95 280.02,109.24 C281.19,101.53 282.29,92.55 283.54,86.23 C284.79,79.91 286.35,73.71 287.52,71.33 C288.7,68.96 289.48,70 290.57,72 C291.67,74 292.92,80.09 294.09,83.31 C295.27,86.52 296.44,91.4 297.61,91.28 C298.78,91.17 299.96,86.54 301.13,82.64 C302.3,78.74 302.89,74.53 304.65,67.88 C306.41,61.23 309.34,47.68 311.69,42.74 C314.03,37.8 316.38,38.86 318.72,38.22 C321.07,37.58 323.41,38.79 325.76,38.88 C328.11,38.97 330.45,39.37 332.8,38.75 C335.14,38.13 337.49,36.4 339.83,35.16 C342.18,33.92 344.53,32.32 346.87,31.3 C349.22,30.28 351.56,29.35 353.91,29.04 C356.25,28.73 358.6,28.93 360.95,29.44 C363.29,29.95 365.64,31.32 367.98,32.1 C370.33,32.88 372.67,33.85 375.02,34.09 C377.37,34.34 379.71,33.78 382.06,33.56 C384.4,33.34 386.75,32.3 389.09,32.77 C391.44,33.23 393.79,33.14 396.13,36.36 C398.48,39.57 400.82,43.09 403.17,52.05 C405.51,61.01 407.86,78.01 410.21,90.09 C412.55,102.17 414.9,116.87 417.24,124.53 C419.59,132.2 421.93,133.84 424.28,136.11 C426.63,138.37 428.97,137.7 431.32,138.1 C433.66,138.5 436.79,138.43 438.35,138.5 C439.92,138.57 440.31,138.5 440.7,138.5" stroke="#7a7a7a" stroke-width="1.0" fill="none" stroke-linejoin="round"/>
<path d="M276.5,138.5 L276.73,138.5 L276.97,138.5 L277.2,138.5 L277.44,138.5 L277.67,138.5 L277.91,138.5 L278.14,138.5 L278.38,138.5 L278.61,138.49 L278.85,138.49 L279.08,138.49 L279.31,138.49 L279.55,138.48 L279.78,138.48 L280.02,138.48 L280.25,138.47 L280.49,138.47 L280.72,138.46 L280.96,138.45 L281.19,138.45 L281.43,138.44 L281.66,138.43 L281.9,138.42 L282.13,138.41 L282.36,138.4 L282.6,138.39 L282.83,138.38 L283.07,138.37 L283.3,138.35 L283.54,138.34 L283.77,138.32 L284.01,138.31 L284.24,138.29 L284.48,138.27 L284.71,138.26 L284.94,138.24 L285.18,138.22 L285.41,138.2 L285.65,138.18 L285.88,138.15 L286.12,138.13 L286.35,138.1 L286.59,138.08 L286.82,138.05 L287.06,138.03 L287.29,138 L287.52,137.97 L287.76,137.94 L287.99,137.91 L288.23,137.88 L288.46,137.85 L288.7,137.81 L288.93,137.78 L289.17,137.75 L289.4,137.71 L289.64,137.68 L289.87,137.64 L290.11,137.61 L290.34,137.57 L290.57,137.53 L290.81,137.49 L291.04,137.45 L291.28,137.41 L291.51,137.37 L291.75,137.33 L291.98,137.29 L292.22,137.25 L292.45,137.21 L292.69,137.17 L292.92,137.13 L293.15,137.09 L293.39,137.05 L293.62,137.01 L293.86,136.97 L294.09,136.93 L294.33,136.89 L294.56,136.84 L294.8,136.8 L295.03,136.76 L295.27,136.72 L295.5,136.67 L295.73,136.63 L295.97,136.59 L296.2,136.55 L296.44,136.5 L296.67,136.46 L296.91,136.42 L297.14,136.37 L297.38,136.33 L297.61,136.29 L297.85,136.24 L298.08,136.2 L298.32,136.15 L298.55,136.1 L298.78,136.05 L299.02,136 L299.25,135.95 L299.49,135.9 L299.72,135.85 L299.96,135.79 L300.19,135.73 L300.43,135.68 L300.66,135.62 L300.9,135.56 L301.13,135.49 L301.36,135.43 L301.6,135.36 L301.83,135.29 L302.07,135.22 L302.3,135.15 L302.54,135.08 L302.77,135 L303.01,134.92 L303.24,134.84 L303.48,134.75 L303.71,134.67 L303.94,134.58 L304.18,134.49 L304.41,134.4 L304.65,134.3 L304.88,134.2 L305.12,134.1 L305.35,134 L305.59,133.89 L305.82,133.78 L306.06,133.67 L306.29,133.56 L306.53,133.45 L306.76,133.33 L306.99,133.21 L307.23,133.09 L307.46,132.96 L307.7,132.83 L307.93,132.7 L308.17,132.57 L308.4,132.44 L308.64,132.3 L308.87,132.16 L309.11,132.01 L309.34,131.86 L309.57,131.72 L309.81,131.56 L310.04,131.41 L310.28,131.25 L310.51,131.09 L310.75,130.92 L310.98,130.76 L311.22,130.59 L311.45,130.41 L311.69,130.24 L311.92,130.06 L312.15,129.88 L312.39,129.7 L312.62,129.52 L312.86,129.34 L313.09,129.16 L313.33,128.98 L313.56,128.79 L313.8,128.61 L314.03,128.42 L314.27,128.24 L314.5,128.05 L314.74,127.86 L314.97,127.67 L315.2,127.48 L315.44,127.29 L315.67,127.09 L315.91,126.9 L316.14,126.71 L316.38,126.51 L316.61,126.31 L316.85,126.12 L317.08,125.92 L317.32,125.72 L317.55,125.52 L317.78,125.32 L318.02,125.12 L318.25,124.91 L318.49,124.71 L318.72,124.5 L318.96,124.3 L319.19,124.09 L319.43,123.88 L319.66,123.67 L319.9,123.47 L320.13,123.26 L320.36,123.05 L320.6,122.84 L320.83,122.62 L321.07,122.41 L321.3,122.2 L321.54,121.99 L321.77,121.77 L322.01,121.56 L322.24,121.34 L322.48,121.13 L322.71,120.91 L322.95,120.7 L323.18,120.48 L323.41,120.26 L323.65,120.04 L323.88,119.82 L324.12,119.6 L324.35,119.38 L324.59,119.17 L324.82,118.95 L325.06,118.73 L325.29,118.51 L325.53,118.29 L325.76,118.07 L325.99,117.85 L326.23,117.63 L326.46,117.41 L326.7,117.18 L326.93,116.96 L327.17,116.74 L327.4,116.52 L327.64,116.3 L327.87,116.08 L328.11,115.85 L328.34,115.63 L328.57,115.41 L328.81,115.18 L329.04,114.96 L329.28,114.74 L329.51,114.51 L329.75,114.29 L329.98,114.06 L330.22,113.84 L330.45,113.62 L330.69,113.39 L330.92,113.16 L331.16,112.94 L331.39,112.71 L331.62,112.49 L331.86,112.26 L332.09,112.03 L332.33,111.81 L332.56,111.58 L332.8,111.35 L333.03,111.13 L333.27,110.9 L333.5,110.67 L333.74,110.44 L333.97,110.21 L334.2,109.98 L334.44,109.75 L334.67,109.52 L334.91,109.29 L335.14,109.05 L335.38,108.82 L335.61,108.59 L335.85,108.35 L336.08,108.12 L336.32,107.89 L336.55,107.65 L336.78,107.42 L337.02,107.19 L337.25,106.95 L337.49,106.72 L337.72,106.48 L337.96,106.24 L338.19,106.01 L338.43,105.77 L338.66,105.54 L338.9,105.3 L339.13,105.06 L339.37,104.83 L339.6,104.59 L339.83,104.35 L340.07,104.11 L340.3,103.87 L340.54,103.63 L340.77,103.4 L341.01,103.16 L341.24,102.92 L341.48,102.68 L341.71,102.44 L341.95,102.2 L342.18,101.96 L342.41,101.71 L342.65,101.47 L342.88,101.23 L343.12,100.99 L343.35,100.75 L343.59,100.5 L343.82,100.26 L344.06,100.02 L344.29,99.78 L344.53,99.53 L344.76,99.29 L344.99,99.04 L345.23,98.8 L345.46,98.55 L345.7,98.31 L345.93,98.06 L346.17,97.82 L346.4,97.57 L346.64,97.32 L346.87,97.08 L347.11,96.83 L347.34,96.58 L347.58,96.34 L347.81,96.09 L348.04,95.84 L348.28,95.59 L348.51,95.35 L348.75,95.1 L348.98,94.85 L349.22,94.6 L349.45,94.35 L349.69,94.1 L349.92,93.86 L350.16,93.61 L350.39,93.36 L350.62,93.11 L350.86,92.86 L351.09,92.61 L351.33,92.36 L351.56,92.11 L351.8,91.86 L352.03,91.61 L352.27,91.36 L352.5,91.11 L352.74,90.85 L352.97,90.6 L353.2,90.35 L353.44,90.1 L353.67,89.85 L353.91,89.6 L354.14,89.35 L354.38,89.09 L354.61,88.84 L354.85,88.59 L355.08,88.34 L355.32,88.09 L355.55,87.83 L355.79,87.58 L356.02,87.33 L356.25,87.08 L356.49,86.83 L356.72,86.58 L356.96,86.33 L357.19,86.07 L357.43,85.82 L357.66,85.57 L357.9,85.32 L358.13,85.07 L358.37,84.82 L358.6,84.57 L358.83,84.31 L359.07,84.06 L359.3,83.81 L359.54,83.56 L359.77,83.31 L360.01,83.06 L360.24,82.81 L360.48,82.56 L360.71,82.31 L360.95,82.05 L361.18,81.8 L361.41,81.55 L361.65,81.3 L361.88,81.05 L362.12,80.8 L362.35,80.55 L362.59,80.3 L362.82,80.05 L363.06,79.81 L363.29,79.56 L363.53,79.31 L363.76,79.06 L364,78.81 L364.23,78.56 L364.46,78.32 L364.7,78.07 L364.93,77.82 L365.17,77.57 L365.4,77.33 L365.64,77.08 L365.87,76.83 L366.11,76.59 L366.34,76.34 L366.58,76.09 L366.81,75.85 L367.04,75.6 L367.28,75.36 L367.51,75.11 L367.75,74.87 L367.98,74.62 L368.22,74.38 L368.45,74.13 L368.69,73.89 L368.92,73.64 L369.16,73.4 L369.39,73.16 L369.62,72.91 L369.86,72.67 L370.09,72.42 L370.33,72.18 L370.56,71.94 L370.8,71.69 L371.03,71.45 L371.27,71.21 L371.5,70.97 L371.74,70.72 L371.97,70.48 L372.21,70.24 L372.44,70 L372.67,69.76 L372.91,69.51 L373.14,69.27 L373.38,69.03 L373.61,68.79 L373.85,68.55 L374.08,68.31 L374.32,68.07 L374.55,67.83 L374.79,67.59 L375.02,67.35 L375.25,67.11 L375.49,66.87 L375.72,66.63 L375.96,66.39 L376.19,66.15 L376.43,65.9 L376.66,65.66 L376.9,65.42 L377.13,65.18 L377.37,64.94 L377.6,64.7 L377.83,64.46 L378.07,64.22 L378.3,63.98 L378.54,63.74 L378.77,63.5 L379.01,63.26 L379.24,63.02 L379.48,62.77 L379.71,62.53 L379.95,62.29 L380.18,62.05 L380.42,61.81 L380.65,61.57 L380.88,61.33 L381.12,61.09 L381.35,60.84 L381.59,60.6 L381.82,60.36 L382.06,60.12 L382.29,59.88 L382.53,59.64 L382.76,59.4 L383,59.15 L383.23,58.91 L383.46,58.67 L383.7,58.43 L383.93,58.19 L384.17,57.94 L384.4,57.7 L384.64,57.46 L384.87,57.22 L385.11,56.98 L385.34,56.73 L385.58,56.49 L385.81,56.25 L386.04,56.01 L386.28,55.76 L386.51,55.52 L386.75,55.28 L386.98,55.04 L387.22,54.79 L387.45,54.55 L387.69,54.31 L387.92,54.06 L388.16,53.82 L388.39,53.58 L388.63,53.33 L388.86,53.09 L389.09,52.85 L389.33,52.6 L389.56,52.36 L389.8,52.12 L390.03,51.88 L390.27,51.64 L390.5,51.39 L390.74,51.15 L390.97,50.91 L391.21,50.67 L391.44,50.43 L391.67,50.19 L391.91,49.95 L392.14,49.71 L392.38,49.47 L392.61,49.23 L392.85,48.99 L393.08,48.75 L393.32,48.52 L393.55,48.28 L393.79,48.04 L394.02,47.8 L394.25,47.57 L394.49,47.33 L394.72,47.09 L394.96,46.86 L395.19,46.62 L395.43,46.39 L395.66,46.16 L395.9,45.92 L396.13,45.69 L396.37,45.46 L396.6,45.23 L396.84,45 L397.07,44.77 L397.3,44.55 L397.54,44.32 L397.77,44.1 L398.01,43.88 L398.24,43.66 L398.48,43.44 L398.71,43.22 L398.95,43.01 L399.18,42.79 L399.42,42.58 L399.65,42.37 L399.88,42.16 L400.12,41.95 L400.35,41.74 L400.59,41.54 L400.82,41.33 L401.06,41.13 L401.29,40.93 L401.53,40.73 L401.76,40.53 L402,40.33 L402.23,40.13 L402.46,39.94 L402.7,39.74 L402.93,39.55 L403.17,39.36 L403.4,39.17 L403.64,38.99 L403.87,38.81 L404.11,38.63 L404.34,38.45 L404.58,38.28 L404.81,38.11 L405.05,37.94 L405.28,37.78 L405.51,37.61 L405.75,37.46 L405.98,37.3 L406.22,37.15 L406.45,37 L406.69,36.85 L406.92,36.71 L407.16,36.57 L407.39,36.43 L407.63,36.29 L407.86,36.16 L408.09,36.03 L408.33,35.91 L408.56,35.78 L408.8,35.66 L409.03,35.55 L409.27,35.43 L409.5,35.32 L409.74,35.21 L409.97,35.1 L410.21,35 L410.44,34.9 L410.67,34.8 L410.91,34.7 L411.14,34.61 L411.38,34.52 L411.61,34.43 L411.85,34.35 L412.08,34.26 L412.32,34.18 L412.55,34.1 L412.79,34.03 L413.02,33.95 L413.26,33.88 L413.49,33.82 L413.72,33.75 L413.96,33.69 L414.19,33.63 L414.43,33.57 L414.66,33.51 L414.9,33.46 L415.13,33.41 L415.37,33.36 L415.6,33.31 L415.84,33.27 L416.07,33.23 L416.3,33.19 L416.54,33.15 L416.77,33.12 L417.01,33.09 L417.24,33.06 L417.48,33.03 L417.71,33.01 L417.95,32.98 L418.18,32.95 L418.42,32.93 L418.65,32.91 L418.88,32.89 L419.12,32.86 L419.35,32.84 L419.59,32.82 L419.82,32.81 L420.06,32.79 L420.29,32.77 L420.53,32.76 L420.76,32.74 L421,32.73 L421.23,32.71 L421.47,32.7 L421.7,32.69 L421.93,32.68 L422.17,32.67 L422.4,32.66 L422.64,32.65 L422.87,32.64 L423.11,32.64 L423.34,32.63 L423.58,32.62 L423.81,32.62 L424.05,32.61 L424.28,32.61 L424.51,32.61 L424.75,32.6 L424.98,32.6 L425.22,32.6 L425.45,32.59 L425.69,32.59 L425.92,32.59 L426.16,32.58 L426.39,32.58 L426.63,32.58 L426.86,32.58 L427.09,32.57 L427.33,32.57 L427.56,32.57 L427.8,32.57 L428.03,32.57 L428.27,32.57 L428.5,32.56 L428.74,32.56 L428.97,32.56 L429.21,32.56 L429.44,32.56 L429.68,32.56 L429.91,32.56 L430.14,32.56 L430.38,32.55 L430.61,32.55 L430.85,32.55 L431.08,32.55 L431.32,32.55 L431.55,32.55 L431.79,32.55 L432.02,32.55 L432.26,32.55 L432.49,32.55 L432.72,32.55 L432.96,32.55 L433.19,32.55 L433.43,32.55 L433.66,32.55 L433.9,32.55 L434.13,32.55 L434.37,32.55 L434.6,32.55 L434.84,32.55 L435.07,32.55 L435.3,32.54 L435.54,32.54 L435.77,32.54 L436.01,32.54 L436.24,32.54 L436.48,32.54 L436.71,32.54 L436.95,32.54 L437.18,32.54 L437.42,32.54 L437.65,32.54 L437.89,32.54 L438.12,32.54 L438.35,32.54 L438.59,32.54 L438.82,32.54 L439.06,32.54 L439.29,32.54 L439.53,32.54 L439.76,32.54 L440,32.54 L440.23,32.54 L440.47,32.54 L440.7,32.54" stroke="#7a7a7a" stroke-width="1.0" fill="none" stroke-linejoin="round"/>
<path d="M276.5,133.18 C277.09,129.86 278.85,120.52 280.02,113.23 C281.19,105.94 282.29,97.05 283.54,89.42 C284.79,81.8 286.35,71.02 287.52,67.48 C288.7,63.93 289.48,66.5 290.57,68.14 C291.67,69.78 292.92,74.53 294.09,77.32 C295.27,80.11 296.44,84.24 297.61,84.9 C298.78,85.57 299.96,83.62 301.13,81.31 C302.3,79 302.89,77.52 304.65,71.07 C306.41,64.62 309.34,48.66 311.69,42.61 C314.03,36.56 316.38,36.11 318.72,34.76 C321.07,33.41 323.41,34.65 325.76,34.49 C328.11,34.34 330.45,34.23 332.8,33.83 C335.14,33.43 337.49,32.72 339.83,32.1 C342.18,31.48 344.53,30.86 346.87,30.11 C349.22,29.35 351.56,27.89 353.91,27.58 C356.25,27.27 358.6,27.56 360.95,28.24 C363.29,28.93 365.64,31.28 367.98,31.7 C370.33,32.12 372.67,31.28 375.02,30.77 C377.37,30.26 379.71,28.64 382.06,28.64 C384.4,28.64 386.75,29.86 389.09,30.77 C391.44,31.68 393.79,31.5 396.13,34.09 C398.48,36.69 400.82,38.37 403.17,46.33 C405.51,54.29 407.86,70.4 410.21,81.84 C412.55,93.28 414.9,106.58 417.24,114.96 C419.59,123.34 421.93,128.28 424.28,132.12 C426.63,135.95 428.97,136.9 431.32,137.97 C433.66,139.03 436.79,138.41 438.35,138.5 C439.92,138.59 440.31,138.5 440.7,138.5" stroke="#8c88d6" stroke-width="1.0" fill="none" stroke-linejoin="round"/>
<path d="M276.5,138.5 L276.73,138.5 L276.97,138.5 L277.2,138.5 L277.44,138.5 L277.67,138.5 L277.91,138.5 L278.14,138.5 L278.38,138.5 L278.61,138.49 L278.85,138.49 L279.08,138.49 L279.31,138.49 L279.55,138.49 L279.78,138.48 L280.02,138.48 L280.25,138.48 L280.49,138.47 L280.72,138.47 L280.96,138.46 L281.19,138.45 L281.43,138.45 L281.66,138.44 L281.9,138.43 L282.13,138.42 L282.36,138.41 L282.6,138.4 L282.83,138.39 L283.07,138.38 L283.3,138.37 L283.54,138.35 L283.77,138.34 L284.01,138.33 L284.24,138.31 L284.48,138.29 L284.71,138.27 L284.94,138.26 L285.18,138.24 L285.41,138.22 L285.65,138.19 L285.88,138.17 L286.12,138.15 L286.35,138.12 L286.59,138.1 L286.82,138.07 L287.06,138.04 L287.29,138.01 L287.52,137.98 L287.76,137.95 L287.99,137.92 L288.23,137.89 L288.46,137.85 L288.7,137.82 L288.93,137.78 L289.17,137.75 L289.4,137.71 L289.64,137.67 L289.87,137.64 L290.11,137.6 L290.34,137.56 L290.57,137.52 L290.81,137.48 L291.04,137.44 L291.28,137.39 L291.51,137.35 L291.75,137.31 L291.98,137.27 L292.22,137.22 L292.45,137.18 L292.69,137.14 L292.92,137.09 L293.15,137.05 L293.39,137 L293.62,136.96 L293.86,136.91 L294.09,136.87 L294.33,136.82 L294.56,136.77 L294.8,136.73 L295.03,136.68 L295.27,136.63 L295.5,136.59 L295.73,136.54 L295.97,136.49 L296.2,136.44 L296.44,136.4 L296.67,136.35 L296.91,136.3 L297.14,136.25 L297.38,136.2 L297.61,136.15 L297.85,136.1 L298.08,136.05 L298.32,136 L298.55,135.95 L298.78,135.89 L299.02,135.84 L299.25,135.78 L299.49,135.73 L299.72,135.67 L299.96,135.61 L300.19,135.55 L300.43,135.49 L300.66,135.43 L300.9,135.37 L301.13,135.31 L301.36,135.24 L301.6,135.18 L301.83,135.11 L302.07,135.04 L302.3,134.96 L302.54,134.89 L302.77,134.81 L303.01,134.74 L303.24,134.66 L303.48,134.58 L303.71,134.49 L303.94,134.41 L304.18,134.32 L304.41,134.23 L304.65,134.14 L304.88,134.05 L305.12,133.95 L305.35,133.85 L305.59,133.75 L305.82,133.65 L306.06,133.54 L306.29,133.43 L306.53,133.32 L306.76,133.21 L306.99,133.09 L307.23,132.97 L307.46,132.85 L307.7,132.73 L307.93,132.6 L308.17,132.47 L308.4,132.34 L308.64,132.2 L308.87,132.06 L309.11,131.92 L309.34,131.78 L309.57,131.63 L309.81,131.48 L310.04,131.32 L310.28,131.17 L310.51,131.01 L310.75,130.84 L310.98,130.68 L311.22,130.51 L311.45,130.34 L311.69,130.16 L311.92,129.98 L312.15,129.81 L312.39,129.63 L312.62,129.45 L312.86,129.26 L313.09,129.08 L313.33,128.9 L313.56,128.71 L313.8,128.53 L314.03,128.34 L314.27,128.15 L314.5,127.96 L314.74,127.77 L314.97,127.58 L315.2,127.38 L315.44,127.19 L315.67,126.99 L315.91,126.8 L316.14,126.6 L316.38,126.4 L316.61,126.2 L316.85,126 L317.08,125.8 L317.32,125.59 L317.55,125.39 L317.78,125.18 L318.02,124.97 L318.25,124.76 L318.49,124.55 L318.72,124.34 L318.96,124.13 L319.19,123.91 L319.43,123.7 L319.66,123.49 L319.9,123.27 L320.13,123.06 L320.36,122.84 L320.6,122.62 L320.83,122.4 L321.07,122.18 L321.3,121.96 L321.54,121.74 L321.77,121.52 L322.01,121.3 L322.24,121.08 L322.48,120.86 L322.71,120.63 L322.95,120.41 L323.18,120.18 L323.41,119.95 L323.65,119.73 L323.88,119.5 L324.12,119.27 L324.35,119.05 L324.59,118.82 L324.82,118.59 L325.06,118.36 L325.29,118.14 L325.53,117.91 L325.76,117.68 L325.99,117.45 L326.23,117.22 L326.46,116.99 L326.7,116.76 L326.93,116.53 L327.17,116.3 L327.4,116.07 L327.64,115.84 L327.87,115.61 L328.11,115.37 L328.34,115.14 L328.57,114.91 L328.81,114.68 L329.04,114.44 L329.28,114.21 L329.51,113.98 L329.75,113.74 L329.98,113.51 L330.22,113.28 L330.45,113.04 L330.69,112.81 L330.92,112.57 L331.16,112.34 L331.39,112.1 L331.62,111.86 L331.86,111.63 L332.09,111.39 L332.33,111.15 L332.56,110.92 L332.8,110.68 L333.03,110.44 L333.27,110.2 L333.5,109.96 L333.74,109.73 L333.97,109.49 L334.2,109.25 L334.44,109.01 L334.67,108.77 L334.91,108.53 L335.14,108.28 L335.38,108.04 L335.61,107.8 L335.85,107.56 L336.08,107.32 L336.32,107.08 L336.55,106.83 L336.78,106.59 L337.02,106.35 L337.25,106.11 L337.49,105.87 L337.72,105.62 L337.96,105.38 L338.19,105.14 L338.43,104.89 L338.66,104.65 L338.9,104.41 L339.13,104.16 L339.37,103.92 L339.6,103.68 L339.83,103.43 L340.07,103.19 L340.3,102.94 L340.54,102.7 L340.77,102.46 L341.01,102.21 L341.24,101.97 L341.48,101.72 L341.71,101.48 L341.95,101.23 L342.18,100.99 L342.41,100.74 L342.65,100.49 L342.88,100.25 L343.12,100 L343.35,99.76 L343.59,99.51 L343.82,99.26 L344.06,99.02 L344.29,98.77 L344.53,98.52 L344.76,98.28 L344.99,98.03 L345.23,97.78 L345.46,97.53 L345.7,97.29 L345.93,97.04 L346.17,96.79 L346.4,96.54 L346.64,96.3 L346.87,96.05 L347.11,95.8 L347.34,95.55 L347.58,95.3 L347.81,95.05 L348.04,94.8 L348.28,94.55 L348.51,94.3 L348.75,94.05 L348.98,93.8 L349.22,93.55 L349.45,93.3 L349.69,93.05 L349.92,92.8 L350.16,92.55 L350.39,92.3 L350.62,92.05 L350.86,91.79 L351.09,91.54 L351.33,91.29 L351.56,91.04 L351.8,90.79 L352.03,90.53 L352.27,90.28 L352.5,90.03 L352.74,89.77 L352.97,89.52 L353.2,89.27 L353.44,89.01 L353.67,88.76 L353.91,88.5 L354.14,88.25 L354.38,88 L354.61,87.74 L354.85,87.49 L355.08,87.23 L355.32,86.98 L355.55,86.73 L355.79,86.47 L356.02,86.22 L356.25,85.97 L356.49,85.71 L356.72,85.46 L356.96,85.2 L357.19,84.95 L357.43,84.7 L357.66,84.44 L357.9,84.19 L358.13,83.94 L358.37,83.68 L358.6,83.43 L358.83,83.18 L359.07,82.93 L359.3,82.67 L359.54,82.42 L359.77,82.17 L360.01,81.91 L360.24,81.66 L360.48,81.41 L360.71,81.16 L360.95,80.9 L361.18,80.65 L361.41,80.4 L361.65,80.15 L361.88,79.89 L362.12,79.64 L362.35,79.39 L362.59,79.14 L362.82,78.89 L363.06,78.64 L363.29,78.39 L363.53,78.14 L363.76,77.89 L364,77.64 L364.23,77.39 L364.46,77.14 L364.7,76.9 L364.93,76.65 L365.17,76.4 L365.4,76.15 L365.64,75.9 L365.87,75.66 L366.11,75.41 L366.34,75.16 L366.58,74.92 L366.81,74.67 L367.04,74.43 L367.28,74.18 L367.51,73.93 L367.75,73.69 L367.98,73.45 L368.22,73.2 L368.45,72.96 L368.69,72.71 L368.92,72.47 L369.16,72.22 L369.39,71.98 L369.62,71.73 L369.86,71.48 L370.09,71.24 L370.33,70.99 L370.56,70.75 L370.8,70.5 L371.03,70.26 L371.27,70.01 L371.5,69.77 L371.74,69.52 L371.97,69.27 L372.21,69.03 L372.44,68.78 L372.67,68.54 L372.91,68.29 L373.14,68.04 L373.38,67.8 L373.61,67.55 L373.85,67.3 L374.08,67.06 L374.32,66.81 L374.55,66.56 L374.79,66.32 L375.02,66.07 L375.25,65.82 L375.49,65.58 L375.72,65.33 L375.96,65.08 L376.19,64.83 L376.43,64.58 L376.66,64.34 L376.9,64.09 L377.13,63.84 L377.37,63.59 L377.6,63.34 L377.83,63.09 L378.07,62.85 L378.3,62.6 L378.54,62.35 L378.77,62.1 L379.01,61.85 L379.24,61.6 L379.48,61.35 L379.71,61.1 L379.95,60.85 L380.18,60.6 L380.42,60.35 L380.65,60.1 L380.88,59.84 L381.12,59.59 L381.35,59.34 L381.59,59.09 L381.82,58.84 L382.06,58.59 L382.29,58.34 L382.53,58.08 L382.76,57.83 L383,57.58 L383.23,57.33 L383.46,57.08 L383.7,56.83 L383.93,56.58 L384.17,56.33 L384.4,56.08 L384.64,55.83 L384.87,55.58 L385.11,55.33 L385.34,55.08 L385.58,54.83 L385.81,54.58 L386.04,54.33 L386.28,54.08 L386.51,53.84 L386.75,53.59 L386.98,53.34 L387.22,53.09 L387.45,52.84 L387.69,52.59 L387.92,52.35 L388.16,52.1 L388.39,51.85 L388.63,51.6 L388.86,51.36 L389.09,51.11 L389.33,50.86 L389.56,50.62 L389.8,50.37 L390.03,50.13 L390.27,49.88 L390.5,49.63 L390.74,49.39 L390.97,49.14 L391.21,48.9 L391.44,48.66 L391.67,48.41 L391.91,48.17 L392.14,47.92 L392.38,47.68 L392.61,47.44 L392.85,47.19 L393.08,46.95 L393.32,46.71 L393.55,46.47 L393.79,46.23 L394.02,45.98 L394.25,45.74 L394.49,45.5 L394.72,45.26 L394.96,45.02 L395.19,44.79 L395.43,44.55 L395.66,44.31 L395.9,44.07 L396.13,43.84 L396.37,43.6 L396.6,43.36 L396.84,43.13 L397.07,42.9 L397.3,42.67 L397.54,42.44 L397.77,42.21 L398.01,41.98 L398.24,41.76 L398.48,41.53 L398.71,41.31 L398.95,41.08 L399.18,40.86 L399.42,40.64 L399.65,40.42 L399.88,40.2 L400.12,39.98 L400.35,39.77 L400.59,39.55 L400.82,39.34 L401.06,39.13 L401.29,38.92 L401.53,38.7 L401.76,38.5 L402,38.29 L402.23,38.08 L402.46,37.87 L402.7,37.67 L402.93,37.46 L403.17,37.26 L403.4,37.06 L403.64,36.86 L403.87,36.67 L404.11,36.48 L404.34,36.29 L404.58,36.1 L404.81,35.92 L405.05,35.74 L405.28,35.56 L405.51,35.39 L405.75,35.22 L405.98,35.05 L406.22,34.88 L406.45,34.72 L406.69,34.55 L406.92,34.4 L407.16,34.24 L407.39,34.09 L407.63,33.94 L407.86,33.79 L408.09,33.64 L408.33,33.5 L408.56,33.36 L408.8,33.23 L409.03,33.09 L409.27,32.96 L409.5,32.83 L409.74,32.71 L409.97,32.58 L410.21,32.46 L410.44,32.34 L410.67,32.23 L410.91,32.11 L411.14,32 L411.38,31.9 L411.61,31.79 L411.85,31.69 L412.08,31.58 L412.32,31.49 L412.55,31.39 L412.79,31.3 L413.02,31.21 L413.26,31.12 L413.49,31.03 L413.72,30.95 L413.96,30.86 L414.19,30.78 L414.43,30.71 L414.66,30.63 L414.9,30.56 L415.13,30.49 L415.37,30.42 L415.6,30.36 L415.84,30.3 L416.07,30.24 L416.3,30.18 L416.54,30.12 L416.77,30.07 L417.01,30.02 L417.24,29.97 L417.48,29.92 L417.71,29.88 L417.95,29.83 L418.18,29.79 L418.42,29.75 L418.65,29.71 L418.88,29.67 L419.12,29.64 L419.35,29.6 L419.59,29.57 L419.82,29.53 L420.06,29.5 L420.29,29.47 L420.53,29.44 L420.76,29.42 L421,29.39 L421.23,29.37 L421.47,29.34 L421.7,29.32 L421.93,29.3 L422.17,29.28 L422.4,29.26 L422.64,29.24 L422.87,29.23 L423.11,29.21 L423.34,29.2 L423.58,29.18 L423.81,29.17 L424.05,29.16 L424.28,29.15 L424.51,29.14 L424.75,29.13 L424.98,29.12 L425.22,29.11 L425.45,29.11 L425.69,29.1 L425.92,29.09 L426.16,29.08 L426.39,29.08 L426.63,29.07 L426.86,29.07 L427.09,29.06 L427.33,29.05 L427.56,29.05 L427.8,29.04 L428.03,29.04 L428.27,29.04 L428.5,29.03 L428.74,29.03 L428.97,29.03 L429.21,29.02 L429.44,29.02 L429.68,29.02 L429.91,29.02 L430.14,29.01 L430.38,29.01 L430.61,29.01 L430.85,29.01 L431.08,29.01 L431.32,29.01 L431.55,29.01 L431.79,29.01 L432.02,29.01 L432.26,29.01 L432.49,29 L432.72,29 L432.96,29 L433.19,29 L433.43,29 L433.66,29 L433.9,29 L434.13,29 L434.37,29 L434.6,29 L434.84,29 L435.07,29 L435.3,29 L435.54,29 L435.77,29 L436.01,29 L436.24,29 L436.48,29 L436.71,29 L436.95,29 L437.18,29 L437.42,29 L437.65,29 L437.89,29 L438.12,29 L438.35,29 L438.59,29 L438.82,29 L439.06,29 L439.29,29 L439.53,29 L439.76,29 L440,29 L440.23,29 L440.47,29 L440.7,29" stroke="#8c88d6" stroke-width="1.0" fill="none" stroke-linejoin="round"/>
<path d="M276.5,132.91 C277.09,126.75 278.85,107.78 280.02,95.94 C281.19,84.1 282.33,70.94 283.54,61.89 C284.75,52.85 286.12,43.94 287.29,41.68 C288.46,39.42 289.44,44.38 290.57,48.33 C291.71,52.27 292.92,60.67 294.09,65.35 C295.27,70.03 296.44,75.06 297.61,76.39 C298.78,77.72 299.96,75.44 301.13,73.33 C302.3,71.22 302.89,69.61 304.65,63.75 C306.41,57.9 309.34,44.07 311.69,38.22 C314.03,32.37 316.38,30.24 318.72,28.64 C321.07,27.05 323.41,28.44 325.76,28.64 C328.11,28.84 330.45,30.02 332.8,29.84 C335.14,29.66 337.49,28.49 339.83,27.58 C342.18,26.67 344.53,25.27 346.87,24.39 C349.22,23.5 351.56,22.35 353.91,22.26 C356.25,22.17 358.6,23.37 360.95,23.85 C363.29,24.34 365.64,25.38 367.98,25.18 C370.33,24.98 372.67,23.08 375.02,22.66 C377.37,22.24 379.71,22.37 382.06,22.66 C384.4,22.95 386.75,23.26 389.09,24.39 C391.44,25.52 393.79,27.22 396.13,29.44 C398.48,31.66 400.82,32.63 403.17,37.69 C405.51,42.74 407.86,50.28 410.21,59.76 C412.55,69.25 414.9,84.21 417.24,94.61 C419.59,105.01 421.93,115.56 424.28,122.14 C426.63,128.72 428.97,131.45 431.32,134.11 C433.66,136.77 436.79,137.37 438.35,138.1 C439.92,138.83 440.31,138.43 440.7,138.5" stroke="#e2587a" stroke-width="1.0" fill="none" stroke-linejoin="round"/>
<path d="M276.5,138.5 L276.73,138.5 L276.97,138.5 L277.2,138.5 L277.44,138.5 L277.67,138.5 L277.91,138.5 L278.14,138.5 L278.38,138.49 L278.61,138.49 L278.85,138.49 L279.08,138.49 L279.31,138.48 L279.55,138.48 L279.78,138.47 L280.02,138.47 L280.25,138.46 L280.49,138.45 L280.72,138.44 L280.96,138.44 L281.19,138.43 L281.43,138.41 L281.66,138.4 L281.9,138.39 L282.13,138.38 L282.36,138.36 L282.6,138.35 L282.83,138.33 L283.07,138.31 L283.3,138.29 L283.54,138.27 L283.77,138.25 L284.01,138.22 L284.24,138.2 L284.48,138.17 L284.71,138.15 L284.94,138.12 L285.18,138.09 L285.41,138.06 L285.65,138.03 L285.88,138 L286.12,137.96 L286.35,137.93 L286.59,137.89 L286.82,137.85 L287.06,137.81 L287.29,137.77 L287.52,137.73 L287.76,137.69 L287.99,137.65 L288.23,137.6 L288.46,137.56 L288.7,137.51 L288.93,137.47 L289.17,137.42 L289.4,137.37 L289.64,137.33 L289.87,137.28 L290.11,137.23 L290.34,137.18 L290.57,137.13 L290.81,137.07 L291.04,137.02 L291.28,136.97 L291.51,136.92 L291.75,136.86 L291.98,136.81 L292.22,136.76 L292.45,136.7 L292.69,136.65 L292.92,136.59 L293.15,136.54 L293.39,136.49 L293.62,136.43 L293.86,136.38 L294.09,136.32 L294.33,136.27 L294.56,136.21 L294.8,136.16 L295.03,136.1 L295.27,136.05 L295.5,135.99 L295.73,135.94 L295.97,135.88 L296.2,135.82 L296.44,135.77 L296.67,135.71 L296.91,135.66 L297.14,135.6 L297.38,135.54 L297.61,135.49 L297.85,135.43 L298.08,135.37 L298.32,135.31 L298.55,135.25 L298.78,135.19 L299.02,135.13 L299.25,135.06 L299.49,135 L299.72,134.93 L299.96,134.87 L300.19,134.8 L300.43,134.73 L300.66,134.66 L300.9,134.59 L301.13,134.52 L301.36,134.45 L301.6,134.37 L301.83,134.29 L302.07,134.21 L302.3,134.13 L302.54,134.05 L302.77,133.96 L303.01,133.88 L303.24,133.79 L303.48,133.7 L303.71,133.61 L303.94,133.51 L304.18,133.41 L304.41,133.32 L304.65,133.21 L304.88,133.11 L305.12,133.01 L305.35,132.9 L305.59,132.79 L305.82,132.68 L306.06,132.56 L306.29,132.44 L306.53,132.32 L306.76,132.2 L306.99,132.07 L307.23,131.95 L307.46,131.82 L307.7,131.68 L307.93,131.55 L308.17,131.41 L308.4,131.27 L308.64,131.12 L308.87,130.97 L309.11,130.82 L309.34,130.67 L309.57,130.51 L309.81,130.36 L310.04,130.19 L310.28,130.03 L310.51,129.86 L310.75,129.69 L310.98,129.52 L311.22,129.34 L311.45,129.16 L311.69,128.98 L311.92,128.79 L312.15,128.61 L312.39,128.42 L312.62,128.23 L312.86,128.04 L313.09,127.85 L313.33,127.66 L313.56,127.47 L313.8,127.27 L314.03,127.07 L314.27,126.88 L314.5,126.68 L314.74,126.48 L314.97,126.28 L315.2,126.07 L315.44,125.87 L315.67,125.67 L315.91,125.46 L316.14,125.25 L316.38,125.04 L316.61,124.83 L316.85,124.62 L317.08,124.4 L317.32,124.19 L317.55,123.97 L317.78,123.76 L318.02,123.54 L318.25,123.32 L318.49,123.09 L318.72,122.87 L318.96,122.65 L319.19,122.42 L319.43,122.2 L319.66,121.97 L319.9,121.74 L320.13,121.52 L320.36,121.29 L320.6,121.06 L320.83,120.83 L321.07,120.6 L321.3,120.37 L321.54,120.13 L321.77,119.9 L322.01,119.67 L322.24,119.43 L322.48,119.2 L322.71,118.96 L322.95,118.72 L323.18,118.49 L323.41,118.25 L323.65,118.01 L323.88,117.77 L324.12,117.53 L324.35,117.29 L324.59,117.05 L324.82,116.81 L325.06,116.57 L325.29,116.33 L325.53,116.09 L325.76,115.85 L325.99,115.61 L326.23,115.37 L326.46,115.13 L326.7,114.89 L326.93,114.65 L327.17,114.4 L327.4,114.16 L327.64,113.92 L327.87,113.68 L328.11,113.44 L328.34,113.19 L328.57,112.95 L328.81,112.71 L329.04,112.46 L329.28,112.22 L329.51,111.98 L329.75,111.73 L329.98,111.49 L330.22,111.25 L330.45,111 L330.69,110.76 L330.92,110.51 L331.16,110.27 L331.39,110.03 L331.62,109.78 L331.86,109.54 L332.09,109.29 L332.33,109.05 L332.56,108.8 L332.8,108.55 L333.03,108.31 L333.27,108.06 L333.5,107.82 L333.74,107.57 L333.97,107.32 L334.2,107.07 L334.44,106.82 L334.67,106.57 L334.91,106.33 L335.14,106.08 L335.38,105.83 L335.61,105.58 L335.85,105.32 L336.08,105.07 L336.32,104.82 L336.55,104.57 L336.78,104.32 L337.02,104.07 L337.25,103.82 L337.49,103.57 L337.72,103.32 L337.96,103.06 L338.19,102.81 L338.43,102.56 L338.66,102.31 L338.9,102.06 L339.13,101.8 L339.37,101.55 L339.6,101.3 L339.83,101.04 L340.07,100.79 L340.3,100.54 L340.54,100.28 L340.77,100.03 L341.01,99.77 L341.24,99.52 L341.48,99.26 L341.71,99.01 L341.95,98.75 L342.18,98.5 L342.41,98.24 L342.65,97.99 L342.88,97.73 L343.12,97.47 L343.35,97.22 L343.59,96.96 L343.82,96.7 L344.06,96.44 L344.29,96.19 L344.53,95.93 L344.76,95.67 L344.99,95.41 L345.23,95.15 L345.46,94.89 L345.7,94.63 L345.93,94.37 L346.17,94.11 L346.4,93.85 L346.64,93.59 L346.87,93.33 L347.11,93.07 L347.34,92.81 L347.58,92.55 L347.81,92.29 L348.04,92.03 L348.28,91.77 L348.51,91.51 L348.75,91.24 L348.98,90.98 L349.22,90.72 L349.45,90.46 L349.69,90.19 L349.92,89.93 L350.16,89.67 L350.39,89.41 L350.62,89.14 L350.86,88.88 L351.09,88.62 L351.33,88.35 L351.56,88.09 L351.8,87.83 L352.03,87.56 L352.27,87.3 L352.5,87.03 L352.74,86.77 L352.97,86.5 L353.2,86.24 L353.44,85.97 L353.67,85.71 L353.91,85.44 L354.14,85.18 L354.38,84.91 L354.61,84.65 L354.85,84.38 L355.08,84.12 L355.32,83.85 L355.55,83.59 L355.79,83.32 L356.02,83.06 L356.25,82.8 L356.49,82.53 L356.72,82.27 L356.96,82 L357.19,81.74 L357.43,81.48 L357.66,81.21 L357.9,80.95 L358.13,80.69 L358.37,80.42 L358.6,80.16 L358.83,79.9 L359.07,79.63 L359.3,79.37 L359.54,79.11 L359.77,78.85 L360.01,78.59 L360.24,78.32 L360.48,78.06 L360.71,77.8 L360.95,77.54 L361.18,77.28 L361.41,77.01 L361.65,76.75 L361.88,76.49 L362.12,76.23 L362.35,75.97 L362.59,75.71 L362.82,75.45 L363.06,75.19 L363.29,74.93 L363.53,74.67 L363.76,74.4 L364,74.14 L364.23,73.88 L364.46,73.62 L364.7,73.36 L364.93,73.1 L365.17,72.84 L365.4,72.58 L365.64,72.32 L365.87,72.06 L366.11,71.81 L366.34,71.55 L366.58,71.29 L366.81,71.03 L367.04,70.77 L367.28,70.51 L367.51,70.25 L367.75,69.99 L367.98,69.73 L368.22,69.47 L368.45,69.21 L368.69,68.96 L368.92,68.7 L369.16,68.44 L369.39,68.18 L369.62,67.92 L369.86,67.66 L370.09,67.4 L370.33,67.14 L370.56,66.87 L370.8,66.61 L371.03,66.35 L371.27,66.09 L371.5,65.83 L371.74,65.57 L371.97,65.31 L372.21,65.04 L372.44,64.78 L372.67,64.52 L372.91,64.26 L373.14,63.99 L373.38,63.73 L373.61,63.47 L373.85,63.2 L374.08,62.94 L374.32,62.68 L374.55,62.41 L374.79,62.15 L375.02,61.88 L375.25,61.62 L375.49,61.35 L375.72,61.09 L375.96,60.82 L376.19,60.56 L376.43,60.3 L376.66,60.03 L376.9,59.77 L377.13,59.5 L377.37,59.24 L377.6,58.97 L377.83,58.71 L378.07,58.44 L378.3,58.18 L378.54,57.92 L378.77,57.65 L379.01,57.39 L379.24,57.12 L379.48,56.86 L379.71,56.59 L379.95,56.33 L380.18,56.06 L380.42,55.8 L380.65,55.54 L380.88,55.27 L381.12,55.01 L381.35,54.74 L381.59,54.48 L381.82,54.21 L382.06,53.95 L382.29,53.68 L382.53,53.42 L382.76,53.16 L383,52.89 L383.23,52.63 L383.46,52.36 L383.7,52.1 L383.93,51.84 L384.17,51.57 L384.4,51.31 L384.64,51.05 L384.87,50.78 L385.11,50.52 L385.34,50.26 L385.58,50 L385.81,49.73 L386.04,49.47 L386.28,49.21 L386.51,48.95 L386.75,48.69 L386.98,48.42 L387.22,48.16 L387.45,47.9 L387.69,47.64 L387.92,47.38 L388.16,47.12 L388.39,46.86 L388.63,46.6 L388.86,46.34 L389.09,46.08 L389.33,45.82 L389.56,45.56 L389.8,45.3 L390.03,45.04 L390.27,44.78 L390.5,44.52 L390.74,44.26 L390.97,44.01 L391.21,43.75 L391.44,43.49 L391.67,43.24 L391.91,42.98 L392.14,42.72 L392.38,42.47 L392.61,42.21 L392.85,41.96 L393.08,41.71 L393.32,41.45 L393.55,41.2 L393.79,40.95 L394.02,40.69 L394.25,40.44 L394.49,40.19 L394.72,39.94 L394.96,39.69 L395.19,39.44 L395.43,39.19 L395.66,38.95 L395.9,38.7 L396.13,38.45 L396.37,38.21 L396.6,37.96 L396.84,37.72 L397.07,37.48 L397.3,37.23 L397.54,36.99 L397.77,36.75 L398.01,36.51 L398.24,36.27 L398.48,36.04 L398.71,35.8 L398.95,35.56 L399.18,35.33 L399.42,35.09 L399.65,34.86 L399.88,34.63 L400.12,34.39 L400.35,34.16 L400.59,33.93 L400.82,33.7 L401.06,33.48 L401.29,33.25 L401.53,33.02 L401.76,32.79 L402,32.57 L402.23,32.35 L402.46,32.12 L402.7,31.9 L402.93,31.68 L403.17,31.46 L403.4,31.24 L403.64,31.02 L403.87,30.8 L404.11,30.59 L404.34,30.38 L404.58,30.17 L404.81,29.96 L405.05,29.75 L405.28,29.55 L405.51,29.35 L405.75,29.15 L405.98,28.95 L406.22,28.75 L406.45,28.55 L406.69,28.36 L406.92,28.17 L407.16,27.98 L407.39,27.79 L407.63,27.6 L407.86,27.42 L408.09,27.24 L408.33,27.06 L408.56,26.88 L408.8,26.7 L409.03,26.52 L409.27,26.35 L409.5,26.18 L409.74,26.01 L409.97,25.84 L410.21,25.67 L410.44,25.5 L410.67,25.34 L410.91,25.18 L411.14,25.03 L411.38,24.87 L411.61,24.72 L411.85,24.57 L412.08,24.43 L412.32,24.28 L412.55,24.14 L412.79,24 L413.02,23.87 L413.26,23.73 L413.49,23.6 L413.72,23.48 L413.96,23.35 L414.19,23.23 L414.43,23.11 L414.66,22.99 L414.9,22.87 L415.13,22.76 L415.37,22.65 L415.6,22.54 L415.84,22.44 L416.07,22.34 L416.3,22.23 L416.54,22.14 L416.77,22.04 L417.01,21.95 L417.24,21.86 L417.48,21.77 L417.71,21.69 L417.95,21.6 L418.18,21.52 L418.42,21.45 L418.65,21.37 L418.88,21.3 L419.12,21.23 L419.35,21.16 L419.59,21.09 L419.82,21.03 L420.06,20.97 L420.29,20.91 L420.53,20.85 L420.76,20.8 L421,20.75 L421.23,20.7 L421.47,20.65 L421.7,20.6 L421.93,20.56 L422.17,20.51 L422.4,20.47 L422.64,20.44 L422.87,20.4 L423.11,20.36 L423.34,20.33 L423.58,20.3 L423.81,20.27 L424.05,20.24 L424.28,20.22 L424.51,20.19 L424.75,20.17 L424.98,20.15 L425.22,20.12 L425.45,20.1 L425.69,20.08 L425.92,20.06 L426.16,20.04 L426.39,20.02 L426.63,20.01 L426.86,19.99 L427.09,19.97 L427.33,19.96 L427.56,19.94 L427.8,19.93 L428.03,19.92 L428.27,19.9 L428.5,19.89 L428.74,19.88 L428.97,19.87 L429.21,19.86 L429.44,19.85 L429.68,19.84 L429.91,19.83 L430.14,19.83 L430.38,19.82 L430.61,19.81 L430.85,19.8 L431.08,19.8 L431.32,19.79 L431.55,19.79 L431.79,19.78 L432.02,19.77 L432.26,19.77 L432.49,19.76 L432.72,19.76 L432.96,19.75 L433.19,19.75 L433.43,19.74 L433.66,19.74 L433.9,19.74 L434.13,19.73 L434.37,19.73 L434.6,19.72 L434.84,19.72 L435.07,19.72 L435.3,19.71 L435.54,19.71 L435.77,19.71 L436.01,19.71 L436.24,19.7 L436.48,19.7 L436.71,19.7 L436.95,19.7 L437.18,19.69 L437.42,19.69 L437.65,19.69 L437.89,19.69 L438.12,19.69 L438.35,19.69 L438.59,19.69 L438.82,19.69 L439.06,19.69 L439.29,19.69 L439.53,19.69 L439.76,19.69 L440,19.69 L440.23,19.69 L440.47,19.69 L440.7,19.69" stroke="#e2587a" stroke-width="1.0" fill="none" stroke-linejoin="round"/>
<rect x="275" y="131.01" width="3" height="3" fill="#7a7a7a"/>
<rect x="282.04" y="84.73" width="3" height="3" fill="#7a7a7a"/>
<rect x="289.07" y="70.5" width="3" height="3" fill="#7a7a7a"/>
<rect x="296.11" y="89.78" width="3" height="3" fill="#7a7a7a"/>
<rect x="303.15" y="66.38" width="3" height="3" fill="#7a7a7a"/>
<rect x="310.19" y="41.24" width="3" height="3" fill="#7a7a7a"/>
<rect x="317.22" y="36.72" width="3" height="3" fill="#7a7a7a"/>
<rect x="324.26" y="37.38" width="3" height="3" fill="#7a7a7a"/>
<rect x="331.3" y="37.25" width="3" height="3" fill="#7a7a7a"/>
<rect x="338.33" y="33.66" width="3" height="3" fill="#7a7a7a"/>
<rect x="345.37" y="29.8" width="3" height="3" fill="#7a7a7a"/>
<rect x="352.41" y="27.54" width="3" height="3" fill="#7a7a7a"/>
<rect x="359.45" y="27.94" width="3" height="3" fill="#7a7a7a"/>
<rect x="366.48" y="30.6" width="3" height="3" fill="#7a7a7a"/>
<rect x="373.52" y="32.59" width="3" height="3" fill="#7a7a7a"/>
<rect x="380.56" y="32.06" width="3" height="3" fill="#7a7a7a"/>
<rect x="387.59" y="31.27" width="3" height="3" fill="#7a7a7a"/>
<rect x="394.63" y="34.86" width="3" height="3" fill="#7a7a7a"/>
<rect x="401.67" y="50.55" width="3" height="3" fill="#7a7a7a"/>
<rect x="408.71" y="88.59" width="3" height="3" fill="#7a7a7a"/>
<rect x="415.74" y="123.03" width="3" height="3" fill="#7a7a7a"/>
<rect x="422.78" y="134.61" width="3" height="3" fill="#7a7a7a"/>
<rect x="429.82" y="136.6" width="3" height="3" fill="#7a7a7a"/>
<rect x="436.85" y="137" width="3" height="3" fill="#7a7a7a"/>
<polygon points="276.5,131.08 278.5,134.68 274.5,134.68" fill="#8c88d6"/>
<polygon points="283.54,87.32 285.54,90.92 281.54,90.92" fill="#8c88d6"/>
<polygon points="290.57,66.04 292.57,69.64 288.57,69.64" fill="#8c88d6"/>
<polygon points="297.61,82.8 299.61,86.4 295.61,86.4" fill="#8c88d6"/>
<polygon points="304.65,68.97 306.65,72.57 302.65,72.57" fill="#8c88d6"/>
<polygon points="311.69,40.51 313.69,44.11 309.69,44.11" fill="#8c88d6"/>
<polygon points="318.72,32.66 320.72,36.26 316.72,36.26" fill="#8c88d6"/>
<polygon points="325.76,32.39 327.76,35.99 323.76,35.99" fill="#8c88d6"/>
<polygon points="332.8,31.73 334.8,35.33 330.8,35.33" fill="#8c88d6"/>
<polygon points="339.83,30 341.83,33.6 337.83,33.6" fill="#8c88d6"/>
<polygon points="346.87,28.01 348.87,31.61 344.87,31.61" fill="#8c88d6"/>
<polygon points="353.91,25.48 355.91,29.08 351.91,29.08" fill="#8c88d6"/>
<polygon points="360.95,26.14 362.95,29.74 358.95,29.74" fill="#8c88d6"/>
<polygon points="367.98,29.6 369.98,33.2 365.98,33.2" fill="#8c88d6"/>
<polygon points="375.02,28.67 377.02,32.27 373.02,32.27" fill="#8c88d6"/>
<polygon points="382.06,26.54 384.06,30.14 380.06,30.14" fill="#8c88d6"/>
<polygon points="389.09,28.67 391.09,32.27 387.09,32.27" fill="#8c88d6"/>
<polygon points="396.13,31.99 398.13,35.59 394.13,35.59" fill="#8c88d6"/>
<polygon points="403.17,44.23 405.17,47.83 401.17,47.83" fill="#8c88d6"/>
<polygon points="410.21,79.74 412.21,83.34 408.21,83.34" fill="#8c88d6"/>
<polygon points="417.24,112.86 419.24,116.46 415.24,116.46" fill="#8c88d6"/>
<polygon points="424.28,130.02 426.28,133.62 422.28,133.62" fill="#8c88d6"/>
<polygon points="431.32,135.87 433.32,139.47 429.32,139.47" fill="#8c88d6"/>
<polygon points="438.35,136.4 440.35,140 436.35,140" fill="#8c88d6"/>
<polygon points="276.5,135.01 278.5,131.41 274.5,131.41" fill="#e2587a"/>
<polygon points="283.54,63.99 285.54,60.39 281.54,60.39" fill="#e2587a"/>
<polygon points="290.57,50.43 292.57,46.83 288.57,46.83" fill="#e2587a"/>
<polygon points="297.61,78.49 299.61,74.89 295.61,74.89" fill="#e2587a"/>
<polygon points="304.65,65.85 306.65,62.25 302.65,62.25" fill="#e2587a"/>
<polygon points="311.69,40.32 313.69,36.72 309.69,36.72" fill="#e2587a"/>
<polygon points="318.72,30.74 320.72,27.14 316.72,27.14" fill="#e2587a"/>
<polygon points="325.76,30.74 327.76,27.14 323.76,27.14" fill="#e2587a"/>
<polygon points="332.8,31.94 334.8,28.34 330.8,28.34" fill="#e2587a"/>
<polygon points="339.83,29.68 341.83,26.08 337.83,26.08" fill="#e2587a"/>
<polygon points="346.87,26.49 348.87,22.89 344.87,22.89" fill="#e2587a"/>
<polygon points="353.91,24.36 355.91,20.76 351.91,20.76" fill="#e2587a"/>
<polygon points="360.95,25.95 362.95,22.35 358.95,22.35" fill="#e2587a"/>
<polygon points="367.98,27.28 369.98,23.68 365.98,23.68" fill="#e2587a"/>
<polygon points="375.02,24.76 377.02,21.16 373.02,21.16" fill="#e2587a"/>
<polygon points="382.06,24.76 384.06,21.16 380.06,21.16" fill="#e2587a"/>
<polygon points="389.09,26.49 391.09,22.89 387.09,22.89" fill="#e2587a"/>
<polygon points="396.13,31.54 398.13,27.94 394.13,27.94" fill="#e2587a"/>
<polygon points="403.17,39.79 405.17,36.19 401.17,36.19" fill="#e2587a"/>
<polygon points="410.21,61.86 412.21,58.26 408.21,58.26" fill="#e2587a"/>
<polygon points="417.24,96.71 419.24,93.11 415.24,93.11" fill="#e2587a"/>
<polygon points="424.28,124.24 426.28,120.64 422.28,120.64" fill="#e2587a"/>
<polygon points="431.32,136.21 433.32,132.61 429.32,132.61" fill="#e2587a"/>
<polygon points="438.35,140.2 440.35,136.6 436.35,136.6" fill="#e2587a"/>
</g>
<line x1="276.5" y1="5.5" x2="441" y2="5.5" stroke="#555" stroke-width="1"/>
<line x1="276.5" y1="138.5" x2="441" y2="138.5" stroke="#333" stroke-width="1"/>
<line x1="276.5" y1="5" x2="276.5" y2="139" stroke="#333" stroke-width="1"/>
<line x1="441" y1="5" x2="441" y2="139" stroke="#a8a8a8" stroke-width="1.5"/>
<line x1="276.5" y1="138.5" x2="276.5" y2="141" stroke="#333" stroke-width="1"/>
<line x1="299.5" y1="138.5" x2="299.5" y2="141" stroke="#333" stroke-width="1"/>
<line x1="323.5" y1="138.5" x2="323.5" y2="141" stroke="#333" stroke-width="1"/>
<line x1="346.5" y1="138.5" x2="346.5" y2="141" stroke="#333" stroke-width="1"/>
<line x1="370.5" y1="138.5" x2="370.5" y2="141" stroke="#333" stroke-width="1"/>
<line x1="393.5" y1="138.5" x2="393.5" y2="141" stroke="#333" stroke-width="1"/>
<line x1="417.5" y1="138.5" x2="417.5" y2="141" stroke="#333" stroke-width="1"/>
<line x1="440.5" y1="138.5" x2="440.5" y2="141" stroke="#333" stroke-width="1"/>
<line x1="288.5" y1="138.5" x2="288.5" y2="140" stroke="#333" stroke-width="1"/>
<line x1="311.5" y1="138.5" x2="311.5" y2="140" stroke="#333" stroke-width="1"/>
<line x1="335.5" y1="138.5" x2="335.5" y2="140" stroke="#333" stroke-width="1"/>
<line x1="358.5" y1="138.5" x2="358.5" y2="140" stroke="#333" stroke-width="1"/>
<line x1="382.5" y1="138.5" x2="382.5" y2="140" stroke="#333" stroke-width="1"/>
<line x1="405.5" y1="138.5" x2="405.5" y2="140" stroke="#333" stroke-width="1"/>
<line x1="428.5" y1="138.5" x2="428.5" y2="140" stroke="#333" stroke-width="1"/>
<line x1="276.5" y1="138.5" x2="273.7" y2="138.5" stroke="#333" stroke-width="1"/>
<line x1="276.5" y1="111.5" x2="273.7" y2="111.5" stroke="#333" stroke-width="1"/>
<line x1="276.5" y1="85.5" x2="273.7" y2="85.5" stroke="#333" stroke-width="1"/>
<line x1="276.5" y1="58.5" x2="273.7" y2="58.5" stroke="#333" stroke-width="1"/>
<line x1="276.5" y1="32.5" x2="273.7" y2="32.5" stroke="#333" stroke-width="1"/>
<line x1="276.5" y1="5.5" x2="273.7" y2="5.5" stroke="#333" stroke-width="1"/>
<line x1="276.5" y1="125.5" x2="274.9" y2="125.5" stroke="#333" stroke-width="1"/>
<line x1="276.5" y1="98.5" x2="274.9" y2="98.5" stroke="#333" stroke-width="1"/>
<line x1="276.5" y1="72.5" x2="274.9" y2="72.5" stroke="#333" stroke-width="1"/>
<line x1="276.5" y1="45.5" x2="274.9" y2="45.5" stroke="#333" stroke-width="1"/>
<line x1="276.5" y1="18.5" x2="274.9" y2="18.5" stroke="#333" stroke-width="1"/>
<line x1="441.5" y1="138.5" x2="444.3" y2="138.5" stroke="#555" stroke-width="1"/>
<line x1="441.5" y1="116.5" x2="444.3" y2="116.5" stroke="#555" stroke-width="1"/>
<line x1="441.5" y1="94.5" x2="444.3" y2="94.5" stroke="#555" stroke-width="1"/>
<line x1="441.5" y1="72.5" x2="444.3" y2="72.5" stroke="#555" stroke-width="1"/>
<line x1="441.5" y1="49.5" x2="444.3" y2="49.5" stroke="#555" stroke-width="1"/>
<line x1="441.5" y1="27.5" x2="444.3" y2="27.5" stroke="#555" stroke-width="1"/>
<line x1="441.5" y1="5.5" x2="444.3" y2="5.5" stroke="#555" stroke-width="1"/>
<line x1="441.5" y1="127.5" x2="443.1" y2="127.5" stroke="#777" stroke-width="1"/>
<line x1="441.5" y1="105.5" x2="443.1" y2="105.5" stroke="#777" stroke-width="1"/>
<line x1="441.5" y1="83.5" x2="443.1" y2="83.5" stroke="#777" stroke-width="1"/>
<line x1="441.5" y1="60.5" x2="443.1" y2="60.5" stroke="#777" stroke-width="1"/>
<line x1="441.5" y1="38.5" x2="443.1" y2="38.5" stroke="#777" stroke-width="1"/>
<line x1="441.5" y1="16.5" x2="443.1" y2="16.5" stroke="#777" stroke-width="1"/>
<text x="276.5" y="150.18" font-size="10" text-anchor="middle">300</text>
<text x="299.96" y="150.18" font-size="10" text-anchor="middle">400</text>
<text x="323.41" y="150.18" font-size="10" text-anchor="middle">500</text>
<text x="346.87" y="150.18" font-size="10" text-anchor="middle">600</text>
<text x="370.33" y="150.18" font-size="10" text-anchor="middle">700</text>
<text x="393.79" y="150.18" font-size="10" text-anchor="middle">800</text>
<text x="417.24" y="150.18" font-size="10" text-anchor="middle">900</text>
<text x="440.7" y="150.18" font-size="10" text-anchor="middle">1000</text>
<text x="272" y="140.68" font-size="10" text-anchor="end">0</text>
<text x="272" y="114.08" font-size="10" text-anchor="end">20</text>
<text x="272" y="87.48" font-size="10" text-anchor="end">40</text>
<text x="272" y="60.88" font-size="10" text-anchor="end">60</text>
<text x="272" y="34.28" font-size="10" text-anchor="end">80</text>
<text x="272" y="7.68" font-size="10" text-anchor="end">100</text>
<text x="445.6" y="140.78" font-size="10">0</text>
<text x="445.6" y="118.61" font-size="10">5</text>
<text x="445.6" y="96.45" font-size="10">10</text>
<text x="445.6" y="74.28" font-size="10">15</text>
<text x="445.6" y="52.11" font-size="10">20</text>
<text x="445.6" y="29.95" font-size="10">25</text>
<text x="445.6" y="7.78" font-size="10">30</text>
<line x1="338.5" y1="105.7" x2="361" y2="105.7" stroke="#7a7a7a" stroke-width="1.0"/>
<rect x="348.3" y="104.2" width="3" height="3" fill="#7a7a7a"/>
<text x="363.9" y="109.14" font-size="9.6" textLength="45" lengthAdjust="spacingAndGlyphs">PzA5:L8BO</text>
<line x1="338.5" y1="118.3" x2="361" y2="118.3" stroke="#8c88d6" stroke-width="1.0"/>
<polygon points="349.8,116.2 351.8,119.8 347.8,119.8" fill="#8c88d6"/>
<text x="363.9" y="121.74" font-size="9.6" textLength="18" lengthAdjust="spacingAndGlyphs">UVC</text>
<line x1="338.5" y1="130.5" x2="361" y2="130.5" stroke="#e2587a" stroke-width="1.0"/>
<polygon points="349.8,132.6 351.8,129 347.8,129" fill="#e2587a"/>
<text x="363.9" y="133.94" font-size="9.6" textLength="42" lengthAdjust="spacingAndGlyphs">UVC+ASH</text>
<text x="312.4" y="171.3" font-size="11.6" textLength="92" lengthAdjust="spacingAndGlyphs">Wavelength (nm)</text>
<g transform="translate(250.4,92.1) rotate(-90)">
<text x="0" y="0" font-size="12" textLength="41.2" lengthAdjust="spacingAndGlyphs">EQE (%)</text>
</g>
<g transform="translate(471.8,136.1) rotate(-90)">
<text x="0" y="0" font-size="11.5" textLength="56.17" lengthAdjust="spacingAndGlyphs">Integrated </text>
<text x="56.17" y="0" font-size="11.5" textLength="5.87" lengthAdjust="spacingAndGlyphs" font-style="italic">J</text>
<text x="62.05" y="2.5" font-size="8" textLength="11.35" lengthAdjust="spacingAndGlyphs">SC</text>
<text x="73.4" y="0" font-size="11.5" textLength="43.08" lengthAdjust="spacingAndGlyphs"> (mA cm</text>
<text x="116.47" y="-5" font-size="7.5" textLength="6.81" lengthAdjust="spacingAndGlyphs">-2</text>
<text x="123.29" y="0" font-size="11.5" textLength="3.91" lengthAdjust="spacingAndGlyphs">)</text>
</g>
<text x="233.8" y="20.5" font-size="19" fill="#050505" style="stroke:none">b</text>
<g clip-path="url(#c3)">
<rect x="522.29" y="131.21" width="2.3" height="2.3" fill="none" stroke="#606060" stroke-width="0.7"/>
<rect x="523.08" y="127.93" width="2.3" height="2.3" fill="none" stroke="#606060" stroke-width="0.7"/>
<rect x="524.76" y="132.1" width="2.3" height="2.3" fill="none" stroke="#606060" stroke-width="0.7"/>
<rect x="527.19" y="129.02" width="2.3" height="2.3" fill="none" stroke="#606060" stroke-width="0.7"/>
<rect x="528.2" y="124.15" width="2.3" height="2.3" fill="none" stroke="#606060" stroke-width="0.7"/>
<rect x="529.95" y="126.12" width="2.3" height="2.3" fill="none" stroke="#606060" stroke-width="0.7"/>
<rect x="531.71" y="131.85" width="2.3" height="2.3" fill="none" stroke="#606060" stroke-width="0.7"/>
<rect x="533.58" y="122.63" width="2.3" height="2.3" fill="none" stroke="#606060" stroke-width="0.7"/>
<rect x="535.85" y="130.41" width="2.3" height="2.3" fill="none" stroke="#606060" stroke-width="0.7"/>
<rect x="537.28" y="129.78" width="2.3" height="2.3" fill="none" stroke="#606060" stroke-width="0.7"/>
<rect x="539.72" y="122.17" width="2.3" height="2.3" fill="none" stroke="#606060" stroke-width="0.7"/>
<rect x="540.52" y="122.59" width="2.3" height="2.3" fill="none" stroke="#606060" stroke-width="0.7"/>
<rect x="542.26" y="120.41" width="2.3" height="2.3" fill="none" stroke="#606060" stroke-width="0.7"/>
<rect x="544.79" y="118.75" width="2.3" height="2.3" fill="none" stroke="#606060" stroke-width="0.7"/>
<rect x="546.21" y="114.95" width="2.3" height="2.3" fill="none" stroke="#606060" stroke-width="0.7"/>
<rect x="547.49" y="106.48" width="2.3" height="2.3" fill="none" stroke="#606060" stroke-width="0.7"/>
<rect x="548.7" y="107.49" width="2.3" height="2.3" fill="none" stroke="#606060" stroke-width="0.7"/>
<rect x="550.65" y="104.11" width="2.3" height="2.3" fill="none" stroke="#606060" stroke-width="0.7"/>
<rect x="552.53" y="103.18" width="2.3" height="2.3" fill="none" stroke="#606060" stroke-width="0.7"/>
<rect x="554.68" y="103.01" width="2.3" height="2.3" fill="none" stroke="#606060" stroke-width="0.7"/>
<rect x="556.72" y="100.5" width="2.3" height="2.3" fill="none" stroke="#606060" stroke-width="0.7"/>
<rect x="558.28" y="94.52" width="2.3" height="2.3" fill="none" stroke="#606060" stroke-width="0.7"/>
<rect x="559.71" y="92.48" width="2.3" height="2.3" fill="none" stroke="#606060" stroke-width="0.7"/>
<rect x="561.98" y="85.77" width="2.3" height="2.3" fill="none" stroke="#606060" stroke-width="0.7"/>
<rect x="563.86" y="88.32" width="2.3" height="2.3" fill="none" stroke="#606060" stroke-width="0.7"/>
<rect x="564.19" y="88.65" width="2.3" height="2.3" fill="none" stroke="#606060" stroke-width="0.7"/>
<rect x="565.95" y="88.83" width="2.3" height="2.3" fill="none" stroke="#606060" stroke-width="0.7"/>
<rect x="568.2" y="79.09" width="2.3" height="2.3" fill="none" stroke="#606060" stroke-width="0.7"/>
<rect x="570.35" y="74.9" width="2.3" height="2.3" fill="none" stroke="#606060" stroke-width="0.7"/>
<rect x="571.75" y="76.23" width="2.3" height="2.3" fill="none" stroke="#606060" stroke-width="0.7"/>
<rect x="573.66" y="72.99" width="2.3" height="2.3" fill="none" stroke="#606060" stroke-width="0.7"/>
<rect x="575.21" y="74.67" width="2.3" height="2.3" fill="none" stroke="#606060" stroke-width="0.7"/>
<rect x="577.31" y="73.45" width="2.3" height="2.3" fill="none" stroke="#606060" stroke-width="0.7"/>
<rect x="579.19" y="69.65" width="2.3" height="2.3" fill="none" stroke="#606060" stroke-width="0.7"/>
<rect x="579.48" y="70.59" width="2.3" height="2.3" fill="none" stroke="#606060" stroke-width="0.7"/>
<rect x="582.22" y="62.83" width="2.3" height="2.3" fill="none" stroke="#606060" stroke-width="0.7"/>
<rect x="584.12" y="68.04" width="2.3" height="2.3" fill="none" stroke="#606060" stroke-width="0.7"/>
<rect x="584.97" y="68.19" width="2.3" height="2.3" fill="none" stroke="#606060" stroke-width="0.7"/>
<rect x="586.26" y="61.63" width="2.3" height="2.3" fill="none" stroke="#606060" stroke-width="0.7"/>
<rect x="588.67" y="52.78" width="2.3" height="2.3" fill="none" stroke="#606060" stroke-width="0.7"/>
<rect x="589.74" y="53.51" width="2.3" height="2.3" fill="none" stroke="#606060" stroke-width="0.7"/>
<rect x="592.58" y="51.21" width="2.3" height="2.3" fill="none" stroke="#606060" stroke-width="0.7"/>
<rect x="593.69" y="49.26" width="2.3" height="2.3" fill="none" stroke="#606060" stroke-width="0.7"/>
<rect x="596.17" y="47.38" width="2.3" height="2.3" fill="none" stroke="#606060" stroke-width="0.7"/>
<rect x="597.36" y="44.2" width="2.3" height="2.3" fill="none" stroke="#606060" stroke-width="0.7"/>
<rect x="599.61" y="43.89" width="2.3" height="2.3" fill="none" stroke="#606060" stroke-width="0.7"/>
<rect x="600.35" y="41.27" width="2.3" height="2.3" fill="none" stroke="#606060" stroke-width="0.7"/>
<rect x="602.28" y="48.9" width="2.3" height="2.3" fill="none" stroke="#606060" stroke-width="0.7"/>
<rect x="604.85" y="46.29" width="2.3" height="2.3" fill="none" stroke="#606060" stroke-width="0.7"/>
<rect x="605.27" y="36" width="2.3" height="2.3" fill="none" stroke="#606060" stroke-width="0.7"/>
<rect x="607.11" y="40.09" width="2.3" height="2.3" fill="none" stroke="#606060" stroke-width="0.7"/>
<rect x="609.23" y="38.84" width="2.3" height="2.3" fill="none" stroke="#606060" stroke-width="0.7"/>
<rect x="610.17" y="43.13" width="2.3" height="2.3" fill="none" stroke="#606060" stroke-width="0.7"/>
<rect x="612.54" y="42.19" width="2.3" height="2.3" fill="none" stroke="#606060" stroke-width="0.7"/>
<rect x="615.11" y="43.64" width="2.3" height="2.3" fill="none" stroke="#606060" stroke-width="0.7"/>
<rect x="616.4" y="37.32" width="2.3" height="2.3" fill="none" stroke="#606060" stroke-width="0.7"/>
<rect x="618.08" y="44.9" width="2.3" height="2.3" fill="none" stroke="#606060" stroke-width="0.7"/>
<rect x="618.8" y="40.25" width="2.3" height="2.3" fill="none" stroke="#606060" stroke-width="0.7"/>
<rect x="621.82" y="34.38" width="2.3" height="2.3" fill="none" stroke="#606060" stroke-width="0.7"/>
<rect x="623.41" y="41.71" width="2.3" height="2.3" fill="none" stroke="#606060" stroke-width="0.7"/>
<rect x="624" y="39.9" width="2.3" height="2.3" fill="none" stroke="#606060" stroke-width="0.7"/>
<rect x="626.56" y="33.74" width="2.3" height="2.3" fill="none" stroke="#606060" stroke-width="0.7"/>
<rect x="627.59" y="33.22" width="2.3" height="2.3" fill="none" stroke="#606060" stroke-width="0.7"/>
<rect x="629.23" y="32.68" width="2.3" height="2.3" fill="none" stroke="#606060" stroke-width="0.7"/>
<rect x="630.68" y="32.82" width="2.3" height="2.3" fill="none" stroke="#606060" stroke-width="0.7"/>
<rect x="632.63" y="30.41" width="2.3" height="2.3" fill="none" stroke="#606060" stroke-width="0.7"/>
<rect x="634.14" y="28.2" width="2.3" height="2.3" fill="none" stroke="#606060" stroke-width="0.7"/>
<rect x="637.21" y="29" width="2.3" height="2.3" fill="none" stroke="#606060" stroke-width="0.7"/>
<rect x="637.92" y="34.35" width="2.3" height="2.3" fill="none" stroke="#606060" stroke-width="0.7"/>
<rect x="639.78" y="37.17" width="2.3" height="2.3" fill="none" stroke="#606060" stroke-width="0.7"/>
<rect x="642.3" y="39.73" width="2.3" height="2.3" fill="none" stroke="#606060" stroke-width="0.7"/>
<rect x="644.24" y="38.89" width="2.3" height="2.3" fill="none" stroke="#606060" stroke-width="0.7"/>
<rect x="644.49" y="45.22" width="2.3" height="2.3" fill="none" stroke="#606060" stroke-width="0.7"/>
<rect x="646.23" y="41.73" width="2.3" height="2.3" fill="none" stroke="#606060" stroke-width="0.7"/>
<rect x="649.1" y="45.11" width="2.3" height="2.3" fill="none" stroke="#606060" stroke-width="0.7"/>
<rect x="649.74" y="42.73" width="2.3" height="2.3" fill="none" stroke="#606060" stroke-width="0.7"/>
<rect x="652.04" y="38.26" width="2.3" height="2.3" fill="none" stroke="#606060" stroke-width="0.7"/>
<rect x="653.14" y="46.9" width="2.3" height="2.3" fill="none" stroke="#606060" stroke-width="0.7"/>
<rect x="655.46" y="50.6" width="2.3" height="2.3" fill="none" stroke="#606060" stroke-width="0.7"/>
<rect x="657.89" y="51.82" width="2.3" height="2.3" fill="none" stroke="#606060" stroke-width="0.7"/>
<rect x="658.45" y="49.91" width="2.3" height="2.3" fill="none" stroke="#606060" stroke-width="0.7"/>
<rect x="660.33" y="58.82" width="2.3" height="2.3" fill="none" stroke="#606060" stroke-width="0.7"/>
<rect x="662.31" y="53.52" width="2.3" height="2.3" fill="none" stroke="#606060" stroke-width="0.7"/>
<rect x="664.41" y="52.88" width="2.3" height="2.3" fill="none" stroke="#606060" stroke-width="0.7"/>
<rect x="666.17" y="60.6" width="2.3" height="2.3" fill="none" stroke="#606060" stroke-width="0.7"/>
<rect x="668.16" y="59.04" width="2.3" height="2.3" fill="none" stroke="#606060" stroke-width="0.7"/>
<rect x="669.6" y="59.42" width="2.3" height="2.3" fill="none" stroke="#606060" stroke-width="0.7"/>
<rect x="671.19" y="70.31" width="2.3" height="2.3" fill="none" stroke="#606060" stroke-width="0.7"/>
<rect x="672.28" y="67.15" width="2.3" height="2.3" fill="none" stroke="#606060" stroke-width="0.7"/>
<rect x="673.47" y="65.48" width="2.3" height="2.3" fill="none" stroke="#606060" stroke-width="0.7"/>
<rect x="675.55" y="68.12" width="2.3" height="2.3" fill="none" stroke="#606060" stroke-width="0.7"/>
<rect x="677.95" y="71.45" width="2.3" height="2.3" fill="none" stroke="#606060" stroke-width="0.7"/>
<rect x="680.05" y="69.5" width="2.3" height="2.3" fill="none" stroke="#606060" stroke-width="0.7"/>
<rect x="681.84" y="75.06" width="2.3" height="2.3" fill="none" stroke="#606060" stroke-width="0.7"/>
<rect x="682.32" y="72.02" width="2.3" height="2.3" fill="none" stroke="#606060" stroke-width="0.7"/>
<circle cx="522.77" cy="134.79" r="1.25" fill="none" stroke="#8e8ad8" stroke-width="0.7"/>
<circle cx="525.11" cy="132.33" r="1.25" fill="none" stroke="#8e8ad8" stroke-width="0.7"/>
<circle cx="527.26" cy="130.15" r="1.25" fill="none" stroke="#8e8ad8" stroke-width="0.7"/>
<circle cx="528.58" cy="129.47" r="1.25" fill="none" stroke="#8e8ad8" stroke-width="0.7"/>
<circle cx="530.52" cy="134.02" r="1.25" fill="none" stroke="#8e8ad8" stroke-width="0.7"/>
<circle cx="532.41" cy="125.73" r="1.25" fill="none" stroke="#8e8ad8" stroke-width="0.7"/>
<circle cx="533.91" cy="126.64" r="1.25" fill="none" stroke="#8e8ad8" stroke-width="0.7"/>
<circle cx="534.66" cy="128.23" r="1.25" fill="none" stroke="#8e8ad8" stroke-width="0.7"/>
<circle cx="537.34" cy="131.04" r="1.25" fill="none" stroke="#8e8ad8" stroke-width="0.7"/>
<circle cx="539.35" cy="129.02" r="1.25" fill="none" stroke="#8e8ad8" stroke-width="0.7"/>
<circle cx="540.13" cy="119.29" r="1.25" fill="none" stroke="#8e8ad8" stroke-width="0.7"/>
<circle cx="542.37" cy="129.47" r="1.25" fill="none" stroke="#8e8ad8" stroke-width="0.7"/>
<circle cx="543.19" cy="116.34" r="1.25" fill="none" stroke="#8e8ad8" stroke-width="0.7"/>
<circle cx="546.08" cy="118.02" r="1.25" fill="none" stroke="#8e8ad8" stroke-width="0.7"/>
<circle cx="547.63" cy="116.46" r="1.25" fill="none" stroke="#8e8ad8" stroke-width="0.7"/>
<circle cx="549.62" cy="112.65" r="1.25" fill="none" stroke="#8e8ad8" stroke-width="0.7"/>
<circle cx="550.81" cy="110.16" r="1.25" fill="none" stroke="#8e8ad8" stroke-width="0.7"/>
<circle cx="551.68" cy="116.38" r="1.25" fill="none" stroke="#8e8ad8" stroke-width="0.7"/>
<circle cx="553.2" cy="109.15" r="1.25" fill="none" stroke="#8e8ad8" stroke-width="0.7"/>
<circle cx="555.73" cy="106.41" r="1.25" fill="none" stroke="#8e8ad8" stroke-width="0.7"/>
<circle cx="558.09" cy="110.68" r="1.25" fill="none" stroke="#8e8ad8" stroke-width="0.7"/>
<circle cx="559.63" cy="114.58" r="1.25" fill="none" stroke="#8e8ad8" stroke-width="0.7"/>
<circle cx="560.36" cy="103.95" r="1.25" fill="none" stroke="#8e8ad8" stroke-width="0.7"/>
<circle cx="562.11" cy="104.71" r="1.25" fill="none" stroke="#8e8ad8" stroke-width="0.7"/>
<circle cx="564.38" cy="99.44" r="1.25" fill="none" stroke="#8e8ad8" stroke-width="0.7"/>
<circle cx="565.36" cy="99.75" r="1.25" fill="none" stroke="#8e8ad8" stroke-width="0.7"/>
<circle cx="568.31" cy="93.28" r="1.25" fill="none" stroke="#8e8ad8" stroke-width="0.7"/>
<circle cx="569.5" cy="96.38" r="1.25" fill="none" stroke="#8e8ad8" stroke-width="0.7"/>
<circle cx="571.72" cy="88.57" r="1.25" fill="none" stroke="#8e8ad8" stroke-width="0.7"/>
<circle cx="572.79" cy="95.49" r="1.25" fill="none" stroke="#8e8ad8" stroke-width="0.7"/>
<circle cx="574.55" cy="82.64" r="1.25" fill="none" stroke="#8e8ad8" stroke-width="0.7"/>
<circle cx="576.11" cy="84.23" r="1.25" fill="none" stroke="#8e8ad8" stroke-width="0.7"/>
<circle cx="577.41" cy="81.05" r="1.25" fill="none" stroke="#8e8ad8" stroke-width="0.7"/>
<circle cx="579.1" cy="72.36" r="1.25" fill="none" stroke="#8e8ad8" stroke-width="0.7"/>
<circle cx="581.29" cy="75.75" r="1.25" fill="none" stroke="#8e8ad8" stroke-width="0.7"/>
<circle cx="582.77" cy="74.19" r="1.25" fill="none" stroke="#8e8ad8" stroke-width="0.7"/>
<circle cx="584.78" cy="75.51" r="1.25" fill="none" stroke="#8e8ad8" stroke-width="0.7"/>
<circle cx="585.83" cy="74.68" r="1.25" fill="none" stroke="#8e8ad8" stroke-width="0.7"/>
<circle cx="588.27" cy="69.1" r="1.25" fill="none" stroke="#8e8ad8" stroke-width="0.7"/>
<circle cx="590.32" cy="65.07" r="1.25" fill="none" stroke="#8e8ad8" stroke-width="0.7"/>
<circle cx="591.61" cy="60.41" r="1.25" fill="none" stroke="#8e8ad8" stroke-width="0.7"/>
<circle cx="593.96" cy="66.38" r="1.25" fill="none" stroke="#8e8ad8" stroke-width="0.7"/>
<circle cx="594.92" cy="61.25" r="1.25" fill="none" stroke="#8e8ad8" stroke-width="0.7"/>
<circle cx="596.74" cy="60.11" r="1.25" fill="none" stroke="#8e8ad8" stroke-width="0.7"/>
<circle cx="598.74" cy="57.65" r="1.25" fill="none" stroke="#8e8ad8" stroke-width="0.7"/>
<circle cx="600.11" cy="57.03" r="1.25" fill="none" stroke="#8e8ad8" stroke-width="0.7"/>
<circle cx="602.56" cy="49.85" r="1.25" fill="none" stroke="#8e8ad8" stroke-width="0.7"/>
<circle cx="604.27" cy="51.28" r="1.25" fill="none" stroke="#8e8ad8" stroke-width="0.7"/>
<circle cx="604.89" cy="53.72" r="1.25" fill="none" stroke="#8e8ad8" stroke-width="0.7"/>
<circle cx="607.53" cy="52.78" r="1.25" fill="none" stroke="#8e8ad8" stroke-width="0.7"/>
<circle cx="608.11" cy="46.34" r="1.25" fill="none" stroke="#8e8ad8" stroke-width="0.7"/>
<circle cx="609.72" cy="38.9" r="1.25" fill="none" stroke="#8e8ad8" stroke-width="0.7"/>
<circle cx="611.7" cy="37.15" r="1.25" fill="none" stroke="#8e8ad8" stroke-width="0.7"/>
<circle cx="614.28" cy="33.34" r="1.25" fill="none" stroke="#8e8ad8" stroke-width="0.7"/>
<circle cx="616.17" cy="33.77" r="1.25" fill="none" stroke="#8e8ad8" stroke-width="0.7"/>
<circle cx="617.5" cy="31.12" r="1.25" fill="none" stroke="#8e8ad8" stroke-width="0.7"/>
<circle cx="618.38" cy="27.9" r="1.25" fill="none" stroke="#8e8ad8" stroke-width="0.7"/>
<circle cx="620.21" cy="24.01" r="1.25" fill="none" stroke="#8e8ad8" stroke-width="0.7"/>
<circle cx="623.09" cy="34.73" r="1.25" fill="none" stroke="#8e8ad8" stroke-width="0.7"/>
<circle cx="624.86" cy="29.94" r="1.25" fill="none" stroke="#8e8ad8" stroke-width="0.7"/>
<circle cx="626.32" cy="22.82" r="1.25" fill="none" stroke="#8e8ad8" stroke-width="0.7"/>
<circle cx="627.52" cy="22.77" r="1.25" fill="none" stroke="#8e8ad8" stroke-width="0.7"/>
<circle cx="628.95" cy="23" r="1.25" fill="none" stroke="#8e8ad8" stroke-width="0.7"/>
<circle cx="631.27" cy="26.63" r="1.25" fill="none" stroke="#8e8ad8" stroke-width="0.7"/>
<circle cx="631.86" cy="26.3" r="1.25" fill="none" stroke="#8e8ad8" stroke-width="0.7"/>
<circle cx="633.57" cy="34.01" r="1.25" fill="none" stroke="#8e8ad8" stroke-width="0.7"/>
<circle cx="635.78" cy="33.33" r="1.25" fill="none" stroke="#8e8ad8" stroke-width="0.7"/>
<circle cx="637.06" cy="36.53" r="1.25" fill="none" stroke="#8e8ad8" stroke-width="0.7"/>
<circle cx="640.24" cy="38.03" r="1.25" fill="none" stroke="#8e8ad8" stroke-width="0.7"/>
<circle cx="640.54" cy="34.79" r="1.25" fill="none" stroke="#8e8ad8" stroke-width="0.7"/>
<circle cx="642.51" cy="47.31" r="1.25" fill="none" stroke="#8e8ad8" stroke-width="0.7"/>
<circle cx="644.23" cy="33.54" r="1.25" fill="none" stroke="#8e8ad8" stroke-width="0.7"/>
<circle cx="645.71" cy="38.02" r="1.25" fill="none" stroke="#8e8ad8" stroke-width="0.7"/>
<circle cx="648.53" cy="46.16" r="1.25" fill="none" stroke="#8e8ad8" stroke-width="0.7"/>
<circle cx="649.34" cy="36.27" r="1.25" fill="none" stroke="#8e8ad8" stroke-width="0.7"/>
<circle cx="651.55" cy="35.44" r="1.25" fill="none" stroke="#8e8ad8" stroke-width="0.7"/>
<circle cx="653.47" cy="34.06" r="1.25" fill="none" stroke="#8e8ad8" stroke-width="0.7"/>
<circle cx="655.16" cy="39.58" r="1.25" fill="none" stroke="#8e8ad8" stroke-width="0.7"/>
<circle cx="656.45" cy="40.66" r="1.25" fill="none" stroke="#8e8ad8" stroke-width="0.7"/>
<circle cx="658.49" cy="35.93" r="1.25" fill="none" stroke="#8e8ad8" stroke-width="0.7"/>
<circle cx="660.47" cy="42.92" r="1.25" fill="none" stroke="#8e8ad8" stroke-width="0.7"/>
<circle cx="661" cy="44.51" r="1.25" fill="none" stroke="#8e8ad8" stroke-width="0.7"/>
<circle cx="663.98" cy="50.09" r="1.25" fill="none" stroke="#8e8ad8" stroke-width="0.7"/>
<circle cx="665.2" cy="58.61" r="1.25" fill="none" stroke="#8e8ad8" stroke-width="0.7"/>
<circle cx="667.51" cy="56.81" r="1.25" fill="none" stroke="#8e8ad8" stroke-width="0.7"/>
<circle cx="668.58" cy="59.91" r="1.25" fill="none" stroke="#8e8ad8" stroke-width="0.7"/>
<circle cx="669.83" cy="60.25" r="1.25" fill="none" stroke="#8e8ad8" stroke-width="0.7"/>
<circle cx="671.23" cy="62.66" r="1.25" fill="none" stroke="#8e8ad8" stroke-width="0.7"/>
<circle cx="673.19" cy="64.5" r="1.25" fill="none" stroke="#8e8ad8" stroke-width="0.7"/>
<circle cx="675.79" cy="67.83" r="1.25" fill="none" stroke="#8e8ad8" stroke-width="0.7"/>
<circle cx="676.75" cy="64.86" r="1.25" fill="none" stroke="#8e8ad8" stroke-width="0.7"/>
<circle cx="678.55" cy="70.49" r="1.25" fill="none" stroke="#8e8ad8" stroke-width="0.7"/>
<circle cx="679.73" cy="69.7" r="1.25" fill="none" stroke="#8e8ad8" stroke-width="0.7"/>
<circle cx="682.58" cy="71.71" r="1.25" fill="none" stroke="#8e8ad8" stroke-width="0.7"/>
<circle cx="684" cy="73.26" r="1.25" fill="none" stroke="#8e8ad8" stroke-width="0.7"/>
<polygon points="523.9,129.78 525.3,132.28 522.5,132.28" fill="none" stroke="#e2607e" stroke-width="0.7"/>
<polygon points="524.28,125.43 525.68,127.93 522.88,127.93" fill="none" stroke="#e2607e" stroke-width="0.7"/>
<polygon points="526.61,125.17 528.01,127.67 525.21,127.67" fill="none" stroke="#e2607e" stroke-width="0.7"/>
<polygon points="528.87,127.6 530.27,130.1 527.47,130.1" fill="none" stroke="#e2607e" stroke-width="0.7"/>
<polygon points="530.34,125.25 531.74,127.75 528.94,127.75" fill="none" stroke="#e2607e" stroke-width="0.7"/>
<polygon points="532.52,117.57 533.92,120.07 531.12,120.07" fill="none" stroke="#e2607e" stroke-width="0.7"/>
<polygon points="533.79,121.75 535.19,124.25 532.39,124.25" fill="none" stroke="#e2607e" stroke-width="0.7"/>
<polygon points="535.39,111.45 536.79,113.95 533.99,113.95" fill="none" stroke="#e2607e" stroke-width="0.7"/>
<polygon points="536.17,118.03 537.57,120.53 534.77,120.53" fill="none" stroke="#e2607e" stroke-width="0.7"/>
<polygon points="538,112.51 539.4,115.01 536.6,115.01" fill="none" stroke="#e2607e" stroke-width="0.7"/>
<polygon points="539.91,108.08 541.31,110.58 538.51,110.58" fill="none" stroke="#e2607e" stroke-width="0.7"/>
<polygon points="541.47,109.4 542.87,111.9 540.07,111.9" fill="none" stroke="#e2607e" stroke-width="0.7"/>
<polygon points="544.31,104.84 545.71,107.34 542.91,107.34" fill="none" stroke="#e2607e" stroke-width="0.7"/>
<polygon points="545.7,105.74 547.1,108.24 544.3,108.24" fill="none" stroke="#e2607e" stroke-width="0.7"/>
<polygon points="546.81,108.08 548.21,110.58 545.41,110.58" fill="none" stroke="#e2607e" stroke-width="0.7"/>
<polygon points="548.78,103.67 550.18,106.17 547.38,106.17" fill="none" stroke="#e2607e" stroke-width="0.7"/>
<polygon points="550.18,102.63 551.58,105.13 548.78,105.13" fill="none" stroke="#e2607e" stroke-width="0.7"/>
<polygon points="553.01,100.07 554.41,102.57 551.61,102.57" fill="none" stroke="#e2607e" stroke-width="0.7"/>
<polygon points="553.57,97.42 554.97,99.92 552.17,99.92" fill="none" stroke="#e2607e" stroke-width="0.7"/>
<polygon points="556.43,100.77 557.83,103.27 555.03,103.27" fill="none" stroke="#e2607e" stroke-width="0.7"/>
<polygon points="556.6,99.64 558,102.14 555.2,102.14" fill="none" stroke="#e2607e" stroke-width="0.7"/>
<polygon points="558.92,93.96 560.32,96.46 557.52,96.46" fill="none" stroke="#e2607e" stroke-width="0.7"/>
<polygon points="560.34,99.21 561.74,101.71 558.94,101.71" fill="none" stroke="#e2607e" stroke-width="0.7"/>
<polygon points="562.53,93.02 563.93,95.52 561.13,95.52" fill="none" stroke="#e2607e" stroke-width="0.7"/>
<polygon points="563.58,89.34 564.98,91.84 562.18,91.84" fill="none" stroke="#e2607e" stroke-width="0.7"/>
<polygon points="565.79,90.16 567.19,92.66 564.39,92.66" fill="none" stroke="#e2607e" stroke-width="0.7"/>
<polygon points="567.34,87.78 568.74,90.28 565.94,90.28" fill="none" stroke="#e2607e" stroke-width="0.7"/>
<polygon points="568.94,86.47 570.34,88.97 567.54,88.97" fill="none" stroke="#e2607e" stroke-width="0.7"/>
<polygon points="571.48,88.31 572.88,90.81 570.08,90.81" fill="none" stroke="#e2607e" stroke-width="0.7"/>
<polygon points="573.04,84.92 574.44,87.42 571.64,87.42" fill="none" stroke="#e2607e" stroke-width="0.7"/>
<polygon points="574.32,82.25 575.72,84.75 572.92,84.75" fill="none" stroke="#e2607e" stroke-width="0.7"/>
<polygon points="575.93,85.46 577.33,87.96 574.53,87.96" fill="none" stroke="#e2607e" stroke-width="0.7"/>
<polygon points="578.27,74.67 579.67,77.17 576.87,77.17" fill="none" stroke="#e2607e" stroke-width="0.7"/>
<polygon points="579.85,74.57 581.25,77.07 578.45,77.07" fill="none" stroke="#e2607e" stroke-width="0.7"/>
<polygon points="581.96,66.02 583.36,68.52 580.56,68.52" fill="none" stroke="#e2607e" stroke-width="0.7"/>
<polygon points="583.25,68.12 584.65,70.62 581.85,70.62" fill="none" stroke="#e2607e" stroke-width="0.7"/>
<polygon points="584.18,68.07 585.58,70.57 582.78,70.57" fill="none" stroke="#e2607e" stroke-width="0.7"/>
<polygon points="586.5,71.1 587.9,73.6 585.1,73.6" fill="none" stroke="#e2607e" stroke-width="0.7"/>
<polygon points="588.66,68.87 590.06,71.37 587.26,71.37" fill="none" stroke="#e2607e" stroke-width="0.7"/>
<polygon points="590.41,60.19 591.81,62.69 589.01,62.69" fill="none" stroke="#e2607e" stroke-width="0.7"/>
<polygon points="591.89,63.7 593.29,66.2 590.49,66.2" fill="none" stroke="#e2607e" stroke-width="0.7"/>
<polygon points="593.61,58.63 595.01,61.13 592.21,61.13" fill="none" stroke="#e2607e" stroke-width="0.7"/>
<polygon points="594.43,52.41 595.83,54.91 593.03,54.91" fill="none" stroke="#e2607e" stroke-width="0.7"/>
<polygon points="596.5,49.16 597.9,51.66 595.1,51.66" fill="none" stroke="#e2607e" stroke-width="0.7"/>
<polygon points="598.53,42.5 599.93,45 597.13,45" fill="none" stroke="#e2607e" stroke-width="0.7"/>
<polygon points="600.35,41.29 601.75,43.79 598.95,43.79" fill="none" stroke="#e2607e" stroke-width="0.7"/>
<polygon points="601.84,46.57 603.24,49.07 600.44,49.07" fill="none" stroke="#e2607e" stroke-width="0.7"/>
<polygon points="602.77,44.44 604.17,46.94 601.37,46.94" fill="none" stroke="#e2607e" stroke-width="0.7"/>
<polygon points="605.28,36.98 606.68,39.48 603.88,39.48" fill="none" stroke="#e2607e" stroke-width="0.7"/>
<polygon points="607.04,41.79 608.44,44.29 605.64,44.29" fill="none" stroke="#e2607e" stroke-width="0.7"/>
<polygon points="609.07,35.02 610.47,37.52 607.67,37.52" fill="none" stroke="#e2607e" stroke-width="0.7"/>
<polygon points="610,33.41 611.4,35.91 608.6,35.91" fill="none" stroke="#e2607e" stroke-width="0.7"/>
<polygon points="612.48,28.17 613.88,30.67 611.08,30.67" fill="none" stroke="#e2607e" stroke-width="0.7"/>
<polygon points="613.35,27.69 614.75,30.19 611.95,30.19" fill="none" stroke="#e2607e" stroke-width="0.7"/>
<polygon points="615.52,28.05 616.92,30.55 614.12,30.55" fill="none" stroke="#e2607e" stroke-width="0.7"/>
<polygon points="617.05,35.46 618.45,37.96 615.65,37.96" fill="none" stroke="#e2607e" stroke-width="0.7"/>
<polygon points="619.38,30.25 620.78,32.75 617.98,32.75" fill="none" stroke="#e2607e" stroke-width="0.7"/>
<polygon points="620.85,23.45 622.25,25.95 619.45,25.95" fill="none" stroke="#e2607e" stroke-width="0.7"/>
<polygon points="621.81,24.02 623.21,26.52 620.41,26.52" fill="none" stroke="#e2607e" stroke-width="0.7"/>
<polygon points="623.69,23.5 625.09,26 622.29,26" fill="none" stroke="#e2607e" stroke-width="0.7"/>
<polygon points="625.9,22.12 627.3,24.62 624.5,24.62" fill="none" stroke="#e2607e" stroke-width="0.7"/>
<polygon points="626.72,24.81 628.12,27.31 625.32,27.31" fill="none" stroke="#e2607e" stroke-width="0.7"/>
<polygon points="629.48,19.98 630.88,22.48 628.08,22.48" fill="none" stroke="#e2607e" stroke-width="0.7"/>
<polygon points="631.23,22.26 632.63,24.76 629.83,24.76" fill="none" stroke="#e2607e" stroke-width="0.7"/>
<polygon points="632.65,25.24 634.05,27.74 631.25,27.74" fill="none" stroke="#e2607e" stroke-width="0.7"/>
<polygon points="634.28,26.8 635.68,29.3 632.88,29.3" fill="none" stroke="#e2607e" stroke-width="0.7"/>
<polygon points="636.68,25.73 638.08,28.23 635.28,28.23" fill="none" stroke="#e2607e" stroke-width="0.7"/>
<polygon points="637.28,23.24 638.68,25.74 635.88,25.74" fill="none" stroke="#e2607e" stroke-width="0.7"/>
<polygon points="638.7,15.37 640.1,17.87 637.3,17.87" fill="none" stroke="#e2607e" stroke-width="0.7"/>
<polygon points="641.11,24.32 642.51,26.82 639.71,26.82" fill="none" stroke="#e2607e" stroke-width="0.7"/>
<polygon points="642.81,20.67 644.21,23.17 641.41,23.17" fill="none" stroke="#e2607e" stroke-width="0.7"/>
<polygon points="644.23,34.34 645.63,36.84 642.83,36.84" fill="none" stroke="#e2607e" stroke-width="0.7"/>
<polygon points="645.84,26.42 647.24,28.92 644.44,28.92" fill="none" stroke="#e2607e" stroke-width="0.7"/>
<polygon points="648.15,22.73 649.55,25.23 646.75,25.23" fill="none" stroke="#e2607e" stroke-width="0.7"/>
<polygon points="650.45,30.7 651.85,33.2 649.05,33.2" fill="none" stroke="#e2607e" stroke-width="0.7"/>
<polygon points="650.85,31.83 652.25,34.33 649.45,34.33" fill="none" stroke="#e2607e" stroke-width="0.7"/>
<polygon points="653.76,33.4 655.16,35.9 652.36,35.9" fill="none" stroke="#e2607e" stroke-width="0.7"/>
<polygon points="655.18,38.74 656.58,41.24 653.78,41.24" fill="none" stroke="#e2607e" stroke-width="0.7"/>
<polygon points="656.54,34.28 657.94,36.78 655.14,36.78" fill="none" stroke="#e2607e" stroke-width="0.7"/>
<polygon points="657.51,27.98 658.91,30.48 656.11,30.48" fill="none" stroke="#e2607e" stroke-width="0.7"/>
<polygon points="659.91,31.2 661.31,33.7 658.51,33.7" fill="none" stroke="#e2607e" stroke-width="0.7"/>
<polygon points="661.38,37.51 662.78,40.01 659.98,40.01" fill="none" stroke="#e2607e" stroke-width="0.7"/>
<polygon points="663.11,39.16 664.51,41.66 661.71,41.66" fill="none" stroke="#e2607e" stroke-width="0.7"/>
<polygon points="665.66,39.53 667.06,42.03 664.26,42.03" fill="none" stroke="#e2607e" stroke-width="0.7"/>
<polygon points="667.37,36.74 668.77,39.24 665.97,39.24" fill="none" stroke="#e2607e" stroke-width="0.7"/>
<polygon points="667.93,42.73 669.33,45.23 666.53,45.23" fill="none" stroke="#e2607e" stroke-width="0.7"/>
<polygon points="670.89,38.94 672.29,41.44 669.49,41.44" fill="none" stroke="#e2607e" stroke-width="0.7"/>
<polygon points="671.62,49.15 673.02,51.65 670.22,51.65" fill="none" stroke="#e2607e" stroke-width="0.7"/>
<polygon points="674.46,52.71 675.86,55.21 673.06,55.21" fill="none" stroke="#e2607e" stroke-width="0.7"/>
<polygon points="675.52,51.3 676.92,53.8 674.12,53.8" fill="none" stroke="#e2607e" stroke-width="0.7"/>
<polygon points="676.72,58.68 678.12,61.18 675.32,61.18" fill="none" stroke="#e2607e" stroke-width="0.7"/>
<polygon points="678.07,55.78 679.47,58.28 676.67,58.28" fill="none" stroke="#e2607e" stroke-width="0.7"/>
<polygon points="680.16,55.24 681.56,57.74 678.76,57.74" fill="none" stroke="#e2607e" stroke-width="0.7"/>
<polygon points="682.91,58.3 684.31,60.8 681.51,60.8" fill="none" stroke="#e2607e" stroke-width="0.7"/>
<polygon points="683.94,63.93 685.34,66.43 682.54,66.43" fill="none" stroke="#e2607e" stroke-width="0.7"/>
<path d="M523.99,132.41 L525.21,131.73 L526.44,131.01 L527.67,130.25 L528.89,129.45 L530.12,128.6 L531.34,127.71 L532.57,126.76 L533.8,125.78 L535.02,124.74 L536.25,123.65 L537.48,122.51 L538.7,121.31 L539.93,120.07 L541.15,118.77 L542.38,117.42 L543.61,116.02 L544.83,114.57 L546.06,113.07 L547.29,111.52 L548.51,109.93 L549.74,108.3 L550.97,106.64 L552.19,104.94 L553.42,103.21 L554.64,101.46 L555.87,99.69 L557.1,97.91 L558.32,96.12 L559.55,94.33 L560.78,92.55 L562,90.78 L563.23,89.03 L564.46,87.3 L565.68,85.59 L566.91,83.91 L568.13,82.27 L569.36,80.66 L570.59,79.09 L571.81,77.55 L573.04,76.04 L574.27,74.57 L575.49,73.12 L576.72,71.69 L577.94,70.28 L579.17,68.89 L580.4,67.5 L581.62,66.12 L582.85,64.75 L584.08,63.37 L585.3,62 L586.53,60.62 L587.76,59.25 L588.98,57.88 L590.21,56.52 L591.43,55.17 L592.66,53.85 L593.89,52.55 L595.11,51.28 L596.34,50.05 L597.57,48.87 L598.79,47.75 L600.02,46.69 L601.25,45.69 L602.47,44.77 L603.7,43.92 L604.92,43.14 L606.15,42.45 L607.38,41.84 L608.6,41.3 L609.83,40.84 L611.06,40.45 L612.28,40.12 L613.51,39.85 L614.73,39.64 L615.96,39.47 L617.19,39.34 L618.41,39.24 L619.64,39.17 L620.87,39.11 L622.09,39.08" stroke="#3a3a3a" stroke-width="1.2" fill="none" stroke-linejoin="round"/>
<path d="M523.99,133.19 L525.31,132.78 L526.64,132.33 L527.97,131.85 L529.3,131.34 L530.62,130.79 L531.95,130.2 L533.28,129.57 L534.61,128.9 L535.93,128.19 L537.26,127.42 L538.59,126.61 L539.92,125.75 L541.25,124.83 L542.57,123.85 L543.9,122.82 L545.23,121.72 L546.56,120.56 L547.88,119.34 L549.21,118.04 L550.54,116.68 L551.87,115.25 L553.19,113.75 L554.52,112.17 L555.85,110.53 L557.18,108.82 L558.5,107.04 L559.83,105.19 L561.16,103.28 L562.49,101.31 L563.81,99.29 L565.14,97.22 L566.47,95.11 L567.8,92.96 L569.13,90.79 L570.45,88.6 L571.78,86.41 L573.11,84.22 L574.44,82.04 L575.76,79.89 L577.09,77.77 L578.42,75.7 L579.75,73.68 L581.07,71.72 L582.4,69.83 L583.73,68.01 L585.06,66.26 L586.38,64.58 L587.71,62.98 L589.04,61.44 L590.37,59.96 L591.69,58.54 L593.02,57.16 L594.35,55.82 L595.68,54.49 L597.01,53.19 L598.33,51.89 L599.66,50.58 L600.99,49.27 L602.32,47.95 L603.64,46.61 L604.97,45.26 L606.3,43.89 L607.63,42.52 L608.95,41.15 L610.28,39.78 L611.61,38.42 L612.94,37.09 L614.26,35.78 L615.59,34.51 L616.92,33.28 L618.25,32.11 L619.57,31.01 L620.9,29.97 L622.23,29.01 L623.56,28.13 L624.89,27.34 L626.21,26.63 L627.54,26.01 L628.87,25.48 L630.2,25.02" stroke="#8e8ad8" stroke-width="1.2" fill="none" stroke-linejoin="round"/>
<path d="M523.99,131.25 L525.28,130.43 L526.57,129.58 L527.86,128.68 L529.15,127.75 L530.43,126.77 L531.72,125.75 L533.01,124.69 L534.3,123.6 L535.59,122.47 L536.88,121.3 L538.17,120.1 L539.46,118.87 L540.75,117.62 L542.04,116.34 L543.33,115.04 L544.62,113.73 L545.91,112.41 L547.2,111.09 L548.49,109.76 L549.78,108.43 L551.07,107.12 L552.36,105.81 L553.65,104.52 L554.94,103.25 L556.23,102 L557.52,100.77 L558.81,99.55 L560.1,98.35 L561.39,97.17 L562.68,96 L563.97,94.83 L565.26,93.66 L566.55,92.48 L567.84,91.29 L569.13,90.07 L570.42,88.81 L571.71,87.52 L573,86.19 L574.29,84.8 L575.58,83.35 L576.87,81.84 L578.16,80.26 L579.45,78.62 L580.73,76.91 L582.02,75.12 L583.31,73.27 L584.6,71.36 L585.89,69.38 L587.18,67.34 L588.47,65.25 L589.76,63.11 L591.05,60.93 L592.34,58.72 L593.63,56.48 L594.92,54.24 L596.21,51.99 L597.5,49.76 L598.79,47.55 L600.08,45.38 L601.37,43.26 L602.66,41.21 L603.95,39.24 L605.24,37.36 L606.53,35.59 L607.82,33.93 L609.11,32.4 L610.4,31 L611.69,29.74 L612.98,28.61 L614.27,27.62 L615.56,26.77 L616.85,26.04 L618.14,25.43 L619.43,24.93 L620.72,24.53 L622.01,24.22 L623.3,23.98 L624.59,23.8 L625.88,23.67 L627.17,23.57" stroke="#e2587a" stroke-width="1.2" fill="none" stroke-linejoin="round"/>
</g>
<line x1="521.5" y1="5.5" x2="684.5" y2="5.5" stroke="#555" stroke-width="1"/>
<line x1="521.5" y1="137.5" x2="684.5" y2="137.5" stroke="#b4b4b4" stroke-width="1"/>
<line x1="521.5" y1="5" x2="521.5" y2="138" stroke="#444" stroke-width="1"/>
<line x1="684.5" y1="5" x2="684.5" y2="138" stroke="#444" stroke-width="1"/>
<line x1="549.5" y1="137.5" x2="549.5" y2="140" stroke="#333" stroke-width="1"/>
<line x1="590.5" y1="137.5" x2="590.5" y2="140" stroke="#333" stroke-width="1"/>
<line x1="631.5" y1="137.5" x2="631.5" y2="140" stroke="#333" stroke-width="1"/>
<line x1="671.5" y1="137.5" x2="671.5" y2="140" stroke="#333" stroke-width="1"/>
<line x1="521.5" y1="137.5" x2="521.5" y2="139" stroke="#333" stroke-width="1"/>
<line x1="528.5" y1="137.5" x2="528.5" y2="139" stroke="#333" stroke-width="1"/>
<line x1="533.5" y1="137.5" x2="533.5" y2="139" stroke="#333" stroke-width="1"/>
<line x1="537.5" y1="137.5" x2="537.5" y2="139" stroke="#333" stroke-width="1"/>
<line x1="540.5" y1="137.5" x2="540.5" y2="139" stroke="#333" stroke-width="1"/>
<line x1="543.5" y1="137.5" x2="543.5" y2="139" stroke="#333" stroke-width="1"/>
<line x1="545.5" y1="137.5" x2="545.5" y2="139" stroke="#333" stroke-width="1"/>
<line x1="548.5" y1="137.5" x2="548.5" y2="139" stroke="#333" stroke-width="1"/>
<line x1="562.5" y1="137.5" x2="562.5" y2="139" stroke="#333" stroke-width="1"/>
<line x1="569.5" y1="137.5" x2="569.5" y2="139" stroke="#333" stroke-width="1"/>
<line x1="574.5" y1="137.5" x2="574.5" y2="139" stroke="#333" stroke-width="1"/>
<line x1="578.5" y1="137.5" x2="578.5" y2="139" stroke="#333" stroke-width="1"/>
<line x1="581.5" y1="137.5" x2="581.5" y2="139" stroke="#333" stroke-width="1"/>
<line x1="584.5" y1="137.5" x2="584.5" y2="139" stroke="#333" stroke-width="1"/>
<line x1="586.5" y1="137.5" x2="586.5" y2="139" stroke="#333" stroke-width="1"/>
<line x1="588.5" y1="137.5" x2="588.5" y2="139" stroke="#333" stroke-width="1"/>
<line x1="602.5" y1="137.5" x2="602.5" y2="139" stroke="#333" stroke-width="1"/>
<line x1="609.5" y1="137.5" x2="609.5" y2="139" stroke="#333" stroke-width="1"/>
<line x1="614.5" y1="137.5" x2="614.5" y2="139" stroke="#333" stroke-width="1"/>
<line x1="618.5" y1="137.5" x2="618.5" y2="139" stroke="#333" stroke-width="1"/>
<line x1="622.5" y1="137.5" x2="622.5" y2="139" stroke="#333" stroke-width="1"/>
<line x1="624.5" y1="137.5" x2="624.5" y2="139" stroke="#333" stroke-width="1"/>
<line x1="627.5" y1="137.5" x2="627.5" y2="139" stroke="#333" stroke-width="1"/>
<line x1="629.5" y1="137.5" x2="629.5" y2="139" stroke="#333" stroke-width="1"/>
<line x1="643.5" y1="137.5" x2="643.5" y2="139" stroke="#333" stroke-width="1"/>
<line x1="650.5" y1="137.5" x2="650.5" y2="139" stroke="#333" stroke-width="1"/>
<line x1="655.5" y1="137.5" x2="655.5" y2="139" stroke="#333" stroke-width="1"/>
<line x1="659.5" y1="137.5" x2="659.5" y2="139" stroke="#333" stroke-width="1"/>
<line x1="662.5" y1="137.5" x2="662.5" y2="139" stroke="#333" stroke-width="1"/>
<line x1="665.5" y1="137.5" x2="665.5" y2="139" stroke="#333" stroke-width="1"/>
<line x1="667.5" y1="137.5" x2="667.5" y2="139" stroke="#333" stroke-width="1"/>
<line x1="669.5" y1="137.5" x2="669.5" y2="139" stroke="#333" stroke-width="1"/>
<line x1="683.5" y1="137.5" x2="683.5" y2="139" stroke="#333" stroke-width="1"/>
<line x1="521.5" y1="137.5" x2="518.7" y2="137.5" stroke="#333" stroke-width="1"/>
<line x1="521.5" y1="113.5" x2="518.7" y2="113.5" stroke="#333" stroke-width="1"/>
<line x1="521.5" y1="89.5" x2="518.7" y2="89.5" stroke="#333" stroke-width="1"/>
<line x1="521.5" y1="65.5" x2="518.7" y2="65.5" stroke="#333" stroke-width="1"/>
<line x1="521.5" y1="41.5" x2="518.7" y2="41.5" stroke="#333" stroke-width="1"/>
<line x1="521.5" y1="17.5" x2="518.7" y2="17.5" stroke="#333" stroke-width="1"/>
<line x1="521.5" y1="125.5" x2="519.9" y2="125.5" stroke="#333" stroke-width="1"/>
<line x1="521.5" y1="101.5" x2="519.9" y2="101.5" stroke="#333" stroke-width="1"/>
<line x1="521.5" y1="77.5" x2="519.9" y2="77.5" stroke="#333" stroke-width="1"/>
<line x1="521.5" y1="53.5" x2="519.9" y2="53.5" stroke="#333" stroke-width="1"/>
<line x1="521.5" y1="29.5" x2="519.9" y2="29.5" stroke="#333" stroke-width="1"/>
<text x="549.9" y="149.18" font-size="10" text-anchor="middle">1</text>
<text x="590.5" y="149.18" font-size="10" text-anchor="middle">10</text>
<text x="631.1" y="149.18" font-size="10" text-anchor="middle">100</text>
<text x="671.7" y="149.18" font-size="10" text-anchor="middle">1000</text>
<text x="517.2" y="139.78" font-size="10" text-anchor="end">0.0</text>
<text x="517.2" y="115.76" font-size="10" text-anchor="end">0.2</text>
<text x="517.2" y="91.74" font-size="10" text-anchor="end">0.4</text>
<text x="517.2" y="67.72" font-size="10" text-anchor="end">0.6</text>
<text x="517.2" y="43.7" font-size="10" text-anchor="end">0.8</text>
<text x="517.2" y="19.68" font-size="10" text-anchor="end">1.0</text>
<g fill="#fff">
<rect x="526.3" y="10.9" width="59.2" height="50.1" stroke="#222" stroke-width="1.1" fill="#fff"/>
</g>
<line x1="526.3" y1="23.8" x2="585.5" y2="23.8" stroke="#222" stroke-width="1.1"/>
<line x1="526.3" y1="36.6" x2="585.5" y2="36.6" stroke="#222" stroke-width="1.1"/>
<line x1="526.3" y1="48.7" x2="585.5" y2="48.7" stroke="#222" stroke-width="1.1"/>
<line x1="556.1" y1="10.9" x2="556.1" y2="61" stroke="#222" stroke-width="1.1"/>
<text x="537.4" y="21.5" font-size="9.5">τ</text>
<text x="542.5" y="22.3" font-size="6.2">1</text>
<text x="566.8" y="21.5" font-size="9.5">τ</text>
<text x="571.9" y="22.3" font-size="6.2">2</text>
<text x="541.2" y="33.49" font-size="9.2" fill="#333" style="stroke:none" text-anchor="middle" textLength="16.9" lengthAdjust="spacingAndGlyphs">1.18</text>
<text x="570.8" y="33.49" font-size="9.2" fill="#333" style="stroke:none" text-anchor="middle" textLength="17" lengthAdjust="spacingAndGlyphs">8.88</text>
<text x="541.2" y="45.89" font-size="9.2" fill="#8580cc" style="stroke:none" text-anchor="middle" textLength="16.9" lengthAdjust="spacingAndGlyphs">2.82</text>
<text x="570.8" y="45.89" font-size="9.2" fill="#8580cc" style="stroke:none" text-anchor="middle" textLength="21.7" lengthAdjust="spacingAndGlyphs">27.77</text>
<text x="541.2" y="58.19" font-size="9.2" fill="#e0587a" style="stroke:none" text-anchor="middle" textLength="16.9" lengthAdjust="spacingAndGlyphs">0.63</text>
<text x="570.8" y="58.19" font-size="9.2" fill="#e0587a" style="stroke:none" text-anchor="middle" textLength="21.7" lengthAdjust="spacingAndGlyphs">12.89</text>
<text x="598" y="83.4" font-size="9.5" textLength="44.4" lengthAdjust="spacingAndGlyphs">donor GSB</text>
<rect x="607.8" y="91.8" width="1.9" height="1.6" fill="none" stroke="#606060" stroke-width="0.6"/>
<circle cx="608.7" cy="104.7" r="1.1" fill="none" stroke="#8e8ad8" stroke-width="0.6"/>
<polygon points="608.7,115.9 610.0,118.2 607.4,118.2" fill="none" stroke="#e2607e" stroke-width="0.6"/>
<text x="623.3" y="95.93" font-size="9.3" textLength="43.7" lengthAdjust="spacingAndGlyphs">PzA5:L8BO</text>
<text x="623.3" y="108.03" font-size="9.3" textLength="17.7" lengthAdjust="spacingAndGlyphs">UVC</text>
<text x="623.3" y="120.53" font-size="9.3" textLength="41.6" lengthAdjust="spacingAndGlyphs">UVC+ASH</text>
<line x1="597.2" y1="129.6" x2="620.2" y2="129.6" stroke="#e4607e" stroke-width="1.0"/>
<text x="623.3" y="132.93" font-size="9.3" textLength="57" lengthAdjust="spacingAndGlyphs">ExpDecay2 Fit</text>
<text x="565.9" y="168.3" font-size="11.2" textLength="73.6" lengthAdjust="spacingAndGlyphs">Delay time (ps)</text>
<g transform="translate(500.3,111.6) rotate(-90)">
<text x="0" y="0" font-size="11.5" textLength="82.9" lengthAdjust="spacingAndGlyphs">Normalized ΔOD</text>
</g>
<text x="477.6" y="20.7" font-size="19" fill="#050505" style="stroke:none">c</text>
<polygon points="82.3,262 112,244.6 153.3,264 153.3,269.2 122.4,286.6 82.6,263.6" fill="#dcdde0"/>
<polygon points="82.3,262 112,244.6 153,263.8 122.4,282" fill="#f2f2f4"/>
<polygon points="82.1,261.2 111.9,244.2 121.2,245 122,280 90.8,262.5" fill="#9cc6ea"/>
<polygon points="84,262.5 90.8,262.5 122,281 118,279.5" fill="#bcd8f0"/>
<polygon points="88.6,257.6 105.4,248 107.2,249.6 90.6,259.4" fill="#9ea4ae"/>
<polygon points="90.8,262.5 121.2,245.2 152.7,263.1 122.4,280.6" fill="#4468ab"/>
<line x1="104.3" y1="264.3" x2="128.2" y2="276.5" stroke="#a6a8b2" stroke-width="3.0"/>
<line x1="110.7" y1="260.8" x2="135.2" y2="271.9" stroke="#a6a8b2" stroke-width="3.0"/>
<line x1="117.7" y1="256.7" x2="141.1" y2="267.8" stroke="#a6a8b2" stroke-width="3.0"/>
<line x1="124.1" y1="252.6" x2="146.9" y2="263.7" stroke="#a6a8b2" stroke-width="3.0"/>
<line x1="115.7" y1="214.7" x2="115.7" y2="253.2" stroke="#111" stroke-width="0.8"/>
<line x1="105.5" y1="227" x2="105.5" y2="250" stroke="#111" stroke-width="0.8"/>
<line x1="131.5" y1="228" x2="131.5" y2="257.3" stroke="#111" stroke-width="0.8"/>
<line x1="96.3" y1="241" x2="96.3" y2="266.3" stroke="#111" stroke-width="0.8"/>
<line x1="87.8" y1="254.8" x2="87.8" y2="261.4" stroke="#111" stroke-width="0.8"/>
<line x1="149.7" y1="254" x2="149.7" y2="269.6" stroke="#111" stroke-width="0.8"/>
<text x="116.45" y="214.38" font-size="7.2" fill="#1a1a1a" style="stroke:none" text-anchor="middle" textLength="50.7" lengthAdjust="spacingAndGlyphs">Photoactive layer</text>
<text x="104.6" y="223.88" font-size="7.2" fill="#1a1a1a" style="stroke:none" text-anchor="middle" textLength="17.2" lengthAdjust="spacingAndGlyphs">EGaIn</text>
<text x="137.35" y="227.48" font-size="7.2" fill="#1a1a1a" style="stroke:none" text-anchor="middle" textLength="36.9" lengthAdjust="spacingAndGlyphs">EGaIn anode</text>
<text x="88.5" y="230.78" font-size="7.2" fill="#1a1a1a" style="stroke:none" text-anchor="middle" textLength="31.4" lengthAdjust="spacingAndGlyphs">PEDOT:PSS</text>
<text x="88.65" y="239.88" font-size="7.2" fill="#1a1a1a" style="stroke:none" text-anchor="middle" textLength="19.7" lengthAdjust="spacingAndGlyphs">(4083)</text>
<text x="82.75" y="250.88" font-size="7.2" fill="#1a1a1a" style="stroke:none" text-anchor="middle" textLength="23.3" lengthAdjust="spacingAndGlyphs">PH1000</text>
<text x="148.65" y="241.88" font-size="7.2" fill="#1a1a1a" style="stroke:none" text-anchor="middle" textLength="11.9" lengthAdjust="spacingAndGlyphs">TPU</text>
<text x="149.35" y="251.38" font-size="7.2" fill="#1a1a1a" style="stroke:none" text-anchor="middle" textLength="27.5" lengthAdjust="spacingAndGlyphs">substrate</text>
<g clip-path="url(#c4)">
<path d="M54.5,301.93 L54.79,301.91 L55.07,301.89 L55.36,301.87 L55.64,301.86 L55.93,301.84 L56.21,301.82 L56.5,301.81 L56.78,301.79 L57.07,301.78 L57.35,301.76 L57.64,301.74 L57.93,301.73 L58.21,301.71 L58.5,301.7 L58.78,301.68 L59.07,301.67 L59.35,301.65 L59.64,301.63 L59.92,301.62 L60.21,301.6 L60.49,301.59 L60.78,301.57 L61.07,301.56 L61.35,301.54 L61.64,301.53 L61.92,301.51 L62.21,301.5 L62.49,301.48 L62.78,301.47 L63.06,301.45 L63.35,301.44 L63.63,301.42 L63.92,301.41 L64.21,301.4 L64.49,301.38 L64.78,301.37 L65.06,301.35 L65.35,301.34 L65.63,301.32 L65.92,301.31 L66.2,301.29 L66.49,301.28 L66.77,301.27 L67.06,301.25 L67.35,301.24 L67.63,301.22 L67.92,301.21 L68.2,301.19 L68.49,301.18 L68.77,301.17 L69.06,301.15 L69.34,301.14 L69.63,301.12 L69.91,301.11 L70.2,301.09 L70.49,301.08 L70.77,301.07 L71.06,301.05 L71.34,301.04 L71.63,301.02 L71.91,301.01 L72.2,300.99 L72.48,300.98 L72.77,300.97 L73.05,300.95 L73.34,300.94 L73.63,300.92 L73.91,300.91 L74.2,300.89 L74.48,300.88 L74.77,300.86 L75.05,300.85 L75.34,300.83 L75.62,300.82 L75.91,300.8 L76.19,300.79 L76.48,300.77 L76.77,300.76 L77.05,300.74 L77.34,300.73 L77.62,300.71 L77.91,300.7 L78.19,300.68 L78.48,300.67 L78.76,300.65 L79.05,300.64 L79.33,300.62 L79.62,300.6 L79.91,300.59 L80.19,300.57 L80.48,300.56 L80.76,300.54 L81.05,300.52 L81.33,300.51 L81.62,300.49 L81.9,300.47 L82.19,300.46 L82.47,300.44 L82.76,300.42 L83.05,300.41 L83.33,300.39 L83.62,300.37 L83.9,300.36 L84.19,300.34 L84.47,300.32 L84.76,300.3 L85.04,300.29 L85.33,300.27 L85.61,300.25 L85.9,300.23 L86.19,300.21 L86.47,300.19 L86.76,300.18 L87.04,300.16 L87.33,300.14 L87.61,300.12 L87.9,300.1 L88.18,300.08 L88.47,300.06 L88.75,300.04 L89.04,300.02 L89.33,300 L89.61,299.98 L89.9,299.96 L90.18,299.94 L90.47,299.92 L90.75,299.9 L91.04,299.88 L91.32,299.86 L91.61,299.84 L91.89,299.82 L92.18,299.8 L92.47,299.77 L92.75,299.75 L93.04,299.73 L93.32,299.71 L93.61,299.68 L93.89,299.66 L94.18,299.64 L94.46,299.62 L94.75,299.59 L95.03,299.57 L95.32,299.55 L95.61,299.52 L95.89,299.5 L96.18,299.47 L96.46,299.45 L96.75,299.42 L97.03,299.4 L97.32,299.38 L97.6,299.35 L97.89,299.32 L98.17,299.3 L98.46,299.27 L98.75,299.24 L99.03,299.22 L99.32,299.19 L99.6,299.16 L99.89,299.13 L100.17,299.1 L100.46,299.07 L100.74,299.04 L101.03,299.01 L101.31,298.98 L101.6,298.95 L101.89,298.91 L102.17,298.88 L102.46,298.85 L102.74,298.81 L103.03,298.78 L103.31,298.75 L103.6,298.71 L103.88,298.68 L104.17,298.64 L104.45,298.61 L104.74,298.57 L105.03,298.53 L105.31,298.5 L105.6,298.46 L105.88,298.42 L106.17,298.38 L106.45,298.34 L106.74,298.3 L107.02,298.27 L107.31,298.23 L107.59,298.19 L107.88,298.14 L108.17,298.1 L108.45,298.06 L108.74,298.02 L109.02,297.98 L109.31,297.94 L109.59,297.89 L109.88,297.85 L110.16,297.81 L110.45,297.76 L110.73,297.72 L111.02,297.68 L111.31,297.63 L111.59,297.59 L111.88,297.54 L112.16,297.5 L112.45,297.45 L112.73,297.4 L113.02,297.36 L113.3,297.31 L113.59,297.26 L113.87,297.22 L114.16,297.17 L114.45,297.12 L114.73,297.07 L115.02,297.02 L115.3,296.97 L115.59,296.92 L115.87,296.87 L116.16,296.82 L116.44,296.77 L116.73,296.72 L117.01,296.67 L117.3,296.62 L117.59,296.57 L117.87,296.52 L118.16,296.47 L118.44,296.42 L118.73,296.36 L119.01,296.31 L119.3,296.26 L119.58,296.2 L119.87,296.15 L120.15,296.1 L120.44,296.04 L120.73,295.99 L121.01,295.94 L121.3,295.88 L121.58,295.83 L121.87,295.77 L122.15,295.72 L122.44,295.66 L122.72,295.61 L123.01,295.55 L123.29,295.49 L123.58,295.44 L123.87,295.38 L124.15,295.32 L124.44,295.27 L124.72,295.21 L125.01,295.15 L125.29,295.09 L125.58,295.03 L125.86,294.97 L126.15,294.91 L126.43,294.85 L126.72,294.79 L127.01,294.73 L127.29,294.67 L127.58,294.61 L127.86,294.54 L128.15,294.48 L128.43,294.42 L128.72,294.35 L129,294.29 L129.29,294.22 L129.57,294.16 L129.86,294.09 L130.15,294.02 L130.43,293.95 L130.72,293.89 L131,293.82 L131.29,293.75 L131.57,293.68 L131.86,293.61 L132.14,293.53 L132.43,293.46 L132.71,293.39 L133,293.32 L133.29,293.24 L133.57,293.17 L133.86,293.09 L134.14,293.01 L134.43,292.94 L134.71,292.86 L135,292.78 L135.28,292.7 L135.57,292.62 L135.85,292.54 L136.14,292.46 L136.43,292.38 L136.71,292.29 L137,292.21 L137.28,292.12 L137.57,292.04 L137.85,291.95 L138.14,291.86 L138.42,291.77 L138.71,291.68 L138.99,291.59 L139.28,291.5 L139.57,291.41 L139.85,291.32 L140.14,291.22 L140.42,291.13 L140.71,291.03 L140.99,290.93 L141.28,290.83 L141.56,290.73 L141.85,290.63 L142.13,290.53 L142.42,290.43 L142.71,290.33 L142.99,290.22 L143.28,290.12 L143.56,290.01 L143.85,289.9 L144.13,289.79 L144.42,289.68 L144.7,289.57 L144.99,289.46 L145.27,289.35 L145.56,289.23 L145.85,289.12 L146.13,289 L146.42,288.87 L146.7,288.75 L146.99,288.62 L147.27,288.49 L147.56,288.35 L147.84,288.21 L148.13,288.06 L148.41,287.91 L148.7,287.76 L148.99,287.6 L149.27,287.44 L149.56,287.28 L149.84,287.11 L150.13,286.94 L150.41,286.76 L150.7,286.58 L150.98,286.39 L151.27,286.2 L151.55,286 L151.84,285.8 L152.13,285.6 L152.41,285.39 L152.7,285.17 L152.98,284.95 L153.27,284.73 L153.55,284.5 L153.84,284.26 L154.12,284.01 L154.41,283.75 L154.69,283.47 L154.98,283.18 L155.27,282.88 L155.55,282.56 L155.84,282.23 L156.12,281.89 L156.41,281.54 L156.69,281.18 L156.98,280.8 L157.26,280.42 L157.55,280.02 L157.83,279.61 L158.12,279.19 L158.41,278.75 L158.69,278.28 L158.98,277.78 L159.26,277.24 L159.55,276.67 L159.83,276.09 L160.12,275.47 L160.4,274.85 L160.69,274.2 L160.97,273.55 L161.26,272.89 L161.55,272.23 L161.83,271.57 L162.12,270.91 L162.4,270.26 L162.69,269.62 L162.97,268.99 L163.26,268.37 L163.54,267.74 L163.83,267.11 L164.11,266.47 L164.4,265.83 L164.69,265.19 L164.97,264.53 L165.26,263.87 L165.54,263.19 L165.83,262.5 L166.11,261.79 L166.4,261.07 L166.68,260.33 L166.97,259.57 L167.25,258.79 L167.54,258 L167.83,257.2 L168.11,256.38 L168.4,255.54 L168.68,254.69 L168.97,253.83 L169.25,252.95 L169.54,252.06 L169.82,251.16 L170.11,250.24 L170.39,249.31 L170.68,248.37 L170.97,247.42 L171.25,246.44 L171.54,245.43 L171.82,244.41 L172.11,243.37 L172.39,242.31 L172.68,241.24 L172.96,240.15 L173.25,239.06 L173.53,237.96 L173.82,236.85 L174.11,235.73 L174.39,234.62 L174.68,233.5 L174.96,232.41 L175.25,231.35 L175.53,230.33 L175.82,229.32 L176.1,228.31 L176.39,227.3 L176.67,226.28 L176.96,225.22 L177.25,224.12 L177.53,222.97 L177.82,221.76 L178.1,220.48 L178.39,219.11 L178.67,217.64 L178.96,216.06 L179.24,214.31 L179.53,212.11 L179.81,209.57 L180.1,206.87 L180.39,204.19 L180.67,201.64 L180.96,199.08 L181.24,196.53" stroke="#7a7a7a" stroke-width="1.3" fill="none" stroke-linejoin="round"/>
<circle cx="54.5" cy="301.93" r="1.65" fill="#7a7a7a"/>
<circle cx="58.78" cy="301.68" r="1.65" fill="#7a7a7a"/>
<circle cx="63.06" cy="301.45" r="1.65" fill="#7a7a7a"/>
<circle cx="67.35" cy="301.24" r="1.65" fill="#7a7a7a"/>
<circle cx="71.63" cy="301.02" r="1.65" fill="#7a7a7a"/>
<circle cx="75.91" cy="300.8" r="1.65" fill="#7a7a7a"/>
<circle cx="80.19" cy="300.57" r="1.65" fill="#7a7a7a"/>
<circle cx="84.47" cy="300.32" r="1.65" fill="#7a7a7a"/>
<circle cx="88.75" cy="300.04" r="1.65" fill="#7a7a7a"/>
<circle cx="93.04" cy="299.73" r="1.65" fill="#7a7a7a"/>
<circle cx="97.32" cy="299.38" r="1.65" fill="#7a7a7a"/>
<circle cx="101.6" cy="298.95" r="1.65" fill="#7a7a7a"/>
<circle cx="105.88" cy="298.42" r="1.65" fill="#7a7a7a"/>
<circle cx="110.16" cy="297.81" r="1.65" fill="#7a7a7a"/>
<circle cx="114.45" cy="297.12" r="1.65" fill="#7a7a7a"/>
<circle cx="118.73" cy="296.36" r="1.65" fill="#7a7a7a"/>
<circle cx="123.01" cy="295.55" r="1.65" fill="#7a7a7a"/>
<circle cx="127.29" cy="294.67" r="1.65" fill="#7a7a7a"/>
<circle cx="131.57" cy="293.68" r="1.65" fill="#7a7a7a"/>
<circle cx="135.85" cy="292.54" r="1.65" fill="#7a7a7a"/>
<circle cx="140.14" cy="291.22" r="1.65" fill="#7a7a7a"/>
<circle cx="144.42" cy="289.68" r="1.65" fill="#7a7a7a"/>
<circle cx="148.7" cy="287.76" r="1.65" fill="#7a7a7a"/>
<circle cx="152.98" cy="284.95" r="1.65" fill="#7a7a7a"/>
<circle cx="157.26" cy="280.42" r="1.65" fill="#7a7a7a"/>
<circle cx="161.55" cy="272.23" r="1.65" fill="#7a7a7a"/>
<circle cx="165.83" cy="262.5" r="1.65" fill="#7a7a7a"/>
<circle cx="170.11" cy="250.24" r="1.65" fill="#7a7a7a"/>
<circle cx="174.39" cy="234.62" r="1.65" fill="#7a7a7a"/>
<circle cx="178.67" cy="217.64" r="1.65" fill="#7a7a7a"/>
<path d="M54.5,314.67 L54.79,314.66 L55.07,314.65 L55.36,314.64 L55.64,314.62 L55.93,314.61 L56.21,314.6 L56.5,314.59 L56.78,314.57 L57.07,314.56 L57.35,314.55 L57.64,314.54 L57.93,314.53 L58.21,314.51 L58.5,314.5 L58.78,314.49 L59.07,314.48 L59.35,314.47 L59.64,314.45 L59.92,314.44 L60.21,314.43 L60.49,314.42 L60.78,314.41 L61.07,314.39 L61.35,314.38 L61.64,314.37 L61.92,314.36 L62.21,314.35 L62.49,314.34 L62.78,314.32 L63.06,314.31 L63.35,314.3 L63.63,314.29 L63.92,314.28 L64.21,314.27 L64.49,314.26 L64.78,314.24 L65.06,314.23 L65.35,314.22 L65.63,314.21 L65.92,314.2 L66.2,314.19 L66.49,314.18 L66.77,314.16 L67.06,314.15 L67.35,314.14 L67.63,314.13 L67.92,314.12 L68.2,314.11 L68.49,314.1 L68.77,314.09 L69.06,314.07 L69.34,314.06 L69.63,314.05 L69.91,314.04 L70.2,314.03 L70.49,314.02 L70.77,314.01 L71.06,313.99 L71.34,313.98 L71.63,313.97 L71.91,313.96 L72.2,313.95 L72.48,313.94 L72.77,313.93 L73.05,313.91 L73.34,313.9 L73.63,313.89 L73.91,313.88 L74.2,313.87 L74.48,313.86 L74.77,313.85 L75.05,313.83 L75.34,313.82 L75.62,313.81 L75.91,313.8 L76.19,313.79 L76.48,313.78 L76.77,313.76 L77.05,313.75 L77.34,313.74 L77.62,313.73 L77.91,313.72 L78.19,313.7 L78.48,313.69 L78.76,313.68 L79.05,313.67 L79.33,313.66 L79.62,313.64 L79.91,313.63 L80.19,313.62 L80.48,313.61 L80.76,313.6 L81.05,313.58 L81.33,313.57 L81.62,313.56 L81.9,313.55 L82.19,313.53 L82.47,313.52 L82.76,313.51 L83.05,313.5 L83.33,313.48 L83.62,313.47 L83.9,313.46 L84.19,313.44 L84.47,313.43 L84.76,313.42 L85.04,313.4 L85.33,313.39 L85.61,313.38 L85.9,313.36 L86.19,313.35 L86.47,313.34 L86.76,313.32 L87.04,313.31 L87.33,313.3 L87.61,313.28 L87.9,313.27 L88.18,313.26 L88.47,313.24 L88.75,313.23 L89.04,313.21 L89.33,313.2 L89.61,313.18 L89.9,313.17 L90.18,313.16 L90.47,313.14 L90.75,313.13 L91.04,313.11 L91.32,313.1 L91.61,313.08 L91.89,313.07 L92.18,313.05 L92.47,313.04 L92.75,313.02 L93.04,313.01 L93.32,312.99 L93.61,312.97 L93.89,312.96 L94.18,312.94 L94.46,312.93 L94.75,312.91 L95.03,312.9 L95.32,312.88 L95.61,312.86 L95.89,312.85 L96.18,312.83 L96.46,312.81 L96.75,312.8 L97.03,312.78 L97.32,312.76 L97.6,312.75 L97.89,312.73 L98.17,312.71 L98.46,312.69 L98.75,312.68 L99.03,312.66 L99.32,312.64 L99.6,312.62 L99.89,312.6 L100.17,312.59 L100.46,312.57 L100.74,312.55 L101.03,312.53 L101.31,312.51 L101.6,312.49 L101.89,312.47 L102.17,312.46 L102.46,312.44 L102.74,312.42 L103.03,312.4 L103.31,312.38 L103.6,312.36 L103.88,312.34 L104.17,312.32 L104.45,312.3 L104.74,312.28 L105.03,312.26 L105.31,312.24 L105.6,312.22 L105.88,312.2 L106.17,312.18 L106.45,312.16 L106.74,312.13 L107.02,312.11 L107.31,312.09 L107.59,312.07 L107.88,312.05 L108.17,312.03 L108.45,312.01 L108.74,311.98 L109.02,311.96 L109.31,311.94 L109.59,311.92 L109.88,311.9 L110.16,311.87 L110.45,311.85 L110.73,311.83 L111.02,311.81 L111.31,311.78 L111.59,311.76 L111.88,311.74 L112.16,311.71 L112.45,311.69 L112.73,311.67 L113.02,311.65 L113.3,311.62 L113.59,311.6 L113.87,311.57 L114.16,311.55 L114.45,311.53 L114.73,311.5 L115.02,311.48 L115.3,311.45 L115.59,311.43 L115.87,311.41 L116.16,311.38 L116.44,311.36 L116.73,311.33 L117.01,311.31 L117.3,311.28 L117.59,311.26 L117.87,311.23 L118.16,311.21 L118.44,311.18 L118.73,311.15 L119.01,311.13 L119.3,311.1 L119.58,311.08 L119.87,311.05 L120.15,311.03 L120.44,311 L120.73,310.97 L121.01,310.95 L121.3,310.92 L121.58,310.89 L121.87,310.87 L122.15,310.84 L122.44,310.81 L122.72,310.79 L123.01,310.76 L123.29,310.73 L123.58,310.71 L123.87,310.68 L124.15,310.65 L124.44,310.62 L124.72,310.6 L125.01,310.57 L125.29,310.54 L125.58,310.51 L125.86,310.48 L126.15,310.46 L126.43,310.43 L126.72,310.4 L127.01,310.37 L127.29,310.34 L127.58,310.31 L127.86,310.28 L128.15,310.26 L128.43,310.23 L128.72,310.2 L129,310.17 L129.29,310.14 L129.57,310.11 L129.86,310.08 L130.15,310.05 L130.43,310.02 L130.72,309.99 L131,309.96 L131.29,309.93 L131.57,309.9 L131.86,309.87 L132.14,309.84 L132.43,309.81 L132.71,309.78 L133,309.75 L133.29,309.72 L133.57,309.69 L133.86,309.66 L134.14,309.63 L134.43,309.6 L134.71,309.57 L135,309.54 L135.28,309.51 L135.57,309.48 L135.85,309.44 L136.14,309.41 L136.43,309.38 L136.71,309.35 L137,309.32 L137.28,309.29 L137.57,309.26 L137.85,309.22 L138.14,309.19 L138.42,309.16 L138.71,309.13 L138.99,309.1 L139.28,309.06 L139.57,309.03 L139.85,309 L140.14,308.97 L140.42,308.93 L140.71,308.9 L140.99,308.87 L141.28,308.84 L141.56,308.8 L141.85,308.77 L142.13,308.74 L142.42,308.7 L142.71,308.67 L142.99,308.64 L143.28,308.6 L143.56,308.57 L143.85,308.54 L144.13,308.5 L144.42,308.47 L144.7,308.44 L144.99,308.4 L145.27,308.37 L145.56,308.33 L145.85,308.3 L146.13,308.27 L146.42,308.23 L146.7,308.2 L146.99,308.16 L147.27,308.13 L147.56,308.1 L147.84,308.06 L148.13,308.03 L148.41,307.99 L148.7,307.96 L148.99,307.92 L149.27,307.89 L149.56,307.85 L149.84,307.82 L150.13,307.78 L150.41,307.75 L150.7,307.71 L150.98,307.68 L151.27,307.64 L151.55,307.6 L151.84,307.56 L152.13,307.53 L152.41,307.49 L152.7,307.45 L152.98,307.41 L153.27,307.37 L153.55,307.33 L153.84,307.29 L154.12,307.25 L154.41,307.21 L154.69,307.17 L154.98,307.12 L155.27,307.08 L155.55,307.04 L155.84,306.99 L156.12,306.95 L156.41,306.9 L156.69,306.85 L156.98,306.8 L157.26,306.76 L157.55,306.71 L157.83,306.66 L158.12,306.61 L158.41,306.55 L158.69,306.5 L158.98,306.45 L159.26,306.39 L159.55,306.34 L159.83,306.28 L160.12,306.22 L160.4,306.16 L160.69,306.11 L160.97,306.04 L161.26,305.98 L161.55,305.92 L161.83,305.85 L162.12,305.78 L162.4,305.71 L162.69,305.63 L162.97,305.55 L163.26,305.47 L163.54,305.38 L163.83,305.28 L164.11,305.19 L164.4,305.09 L164.69,304.98 L164.97,304.88 L165.26,304.77 L165.54,304.65 L165.83,304.53 L166.11,304.41 L166.4,304.29 L166.68,304.15 L166.97,304.01 L167.25,303.87 L167.54,303.72 L167.83,303.56 L168.11,303.39 L168.4,303.22 L168.68,303.04 L168.97,302.85 L169.25,302.66 L169.54,302.46 L169.82,302.25 L170.11,302.04 L170.39,301.81 L170.68,301.57 L170.97,301.31 L171.25,301.04 L171.54,300.75 L171.82,300.45 L172.11,300.14 L172.39,299.81 L172.68,299.47 L172.96,299.12 L173.25,298.76 L173.53,298.4 L173.82,298.02 L174.11,297.64 L174.39,297.25 L174.68,296.85 L174.96,296.44 L175.25,296.01 L175.53,295.56 L175.82,295.11 L176.1,294.63 L176.39,294.15 L176.67,293.64 L176.96,293.13 L177.25,292.59 L177.53,292.05 L177.82,291.49 L178.1,290.91 L178.39,290.32 L178.67,289.72 L178.96,289.1 L179.24,288.47 L179.53,287.82 L179.81,287.16 L180.1,286.47 L180.39,285.76 L180.67,285.03 L180.96,284.28 L181.24,283.51 L181.53,282.7 L181.81,281.87 L182.1,281.02 L182.38,280.13 L182.67,279.21 L182.95,278.26 L183.24,277.27 L183.53,276.24 L183.81,275.13 L184.1,273.96 L184.38,272.73 L184.67,271.44 L184.95,270.09 L185.24,268.69 L185.52,267.24 L185.81,265.75 L186.09,264.22 L186.38,262.65 L186.67,261.04 L186.95,259.4 L187.24,257.73 L187.52,255.95 L187.81,254.07 L188.09,252.11 L188.38,250.07 L188.66,247.96 L188.95,245.81 L189.23,243.61 L189.52,241.39 L189.81,239.15 L190.09,236.92 L190.38,234.69 L190.66,232.49 L190.95,230.32 L191.23,228.19 L191.52,226.08 L191.8,223.98 L192.09,221.88 L192.37,219.77 L192.66,217.64 L192.95,215.5 L193.23,213.32 L193.52,211.11 L193.8,208.85 L194.09,206.59 L194.37,204.21 L194.66,201.43 L194.94,198.16 L195.09,196.53" stroke="#e2587a" stroke-width="1.3" fill="none" stroke-linejoin="round"/>
<circle cx="54.5" cy="314.67" r="1.65" fill="#e2587a"/>
<circle cx="58.78" cy="314.49" r="1.65" fill="#e2587a"/>
<circle cx="63.06" cy="314.31" r="1.65" fill="#e2587a"/>
<circle cx="67.35" cy="314.14" r="1.65" fill="#e2587a"/>
<circle cx="71.63" cy="313.97" r="1.65" fill="#e2587a"/>
<circle cx="75.91" cy="313.8" r="1.65" fill="#e2587a"/>
<circle cx="80.19" cy="313.62" r="1.65" fill="#e2587a"/>
<circle cx="84.47" cy="313.43" r="1.65" fill="#e2587a"/>
<circle cx="88.75" cy="313.23" r="1.65" fill="#e2587a"/>
<circle cx="93.04" cy="313.01" r="1.65" fill="#e2587a"/>
<circle cx="97.32" cy="312.76" r="1.65" fill="#e2587a"/>
<circle cx="101.6" cy="312.49" r="1.65" fill="#e2587a"/>
<circle cx="105.88" cy="312.2" r="1.65" fill="#e2587a"/>
<circle cx="110.16" cy="311.87" r="1.65" fill="#e2587a"/>
<circle cx="114.45" cy="311.53" r="1.65" fill="#e2587a"/>
<circle cx="118.73" cy="311.15" r="1.65" fill="#e2587a"/>
<circle cx="123.01" cy="310.76" r="1.65" fill="#e2587a"/>
<circle cx="127.29" cy="310.34" r="1.65" fill="#e2587a"/>
<circle cx="131.57" cy="309.9" r="1.65" fill="#e2587a"/>
<circle cx="135.85" cy="309.44" r="1.65" fill="#e2587a"/>
<circle cx="140.14" cy="308.97" r="1.65" fill="#e2587a"/>
<circle cx="144.42" cy="308.47" r="1.65" fill="#e2587a"/>
<circle cx="148.7" cy="307.96" r="1.65" fill="#e2587a"/>
<circle cx="152.98" cy="307.41" r="1.65" fill="#e2587a"/>
<circle cx="157.26" cy="306.76" r="1.65" fill="#e2587a"/>
<circle cx="161.55" cy="305.92" r="1.65" fill="#e2587a"/>
<circle cx="165.83" cy="304.53" r="1.65" fill="#e2587a"/>
<circle cx="170.11" cy="302.04" r="1.65" fill="#e2587a"/>
<circle cx="174.39" cy="297.25" r="1.65" fill="#e2587a"/>
<circle cx="178.67" cy="289.72" r="1.65" fill="#e2587a"/>
<circle cx="182.95" cy="278.26" r="1.65" fill="#e2587a"/>
<circle cx="187.24" cy="257.73" r="1.65" fill="#e2587a"/>
<circle cx="191.52" cy="226.08" r="1.65" fill="#e2587a"/>
</g>
<line x1="54.5" y1="202.9" x2="211.5" y2="202.9" stroke="#9a9a9a" stroke-width="1.8"/>
<line x1="68.5" y1="198.5" x2="68.5" y2="330.8" stroke="#333" stroke-width="1"/>
<line x1="54.5" y1="198.5" x2="211.5" y2="198.5" stroke="#333" stroke-width="1"/>
<line x1="54.5" y1="330.8" x2="211.5" y2="330.8" stroke="#a8a8a8" stroke-width="1.8"/>
<line x1="54.5" y1="198" x2="54.5" y2="331.7" stroke="#333" stroke-width="1"/>
<line x1="211.5" y1="198" x2="211.5" y2="331.7" stroke="#666" stroke-width="1"/>
<line x1="68.5" y1="330.8" x2="68.5" y2="333.3" stroke="#333" stroke-width="1"/>
<line x1="97.5" y1="330.8" x2="97.5" y2="333.3" stroke="#333" stroke-width="1"/>
<line x1="125.5" y1="330.8" x2="125.5" y2="333.3" stroke="#333" stroke-width="1"/>
<line x1="154.5" y1="330.8" x2="154.5" y2="333.3" stroke="#333" stroke-width="1"/>
<line x1="182.5" y1="330.8" x2="182.5" y2="333.3" stroke="#333" stroke-width="1"/>
<line x1="211.5" y1="330.8" x2="211.5" y2="333.3" stroke="#333" stroke-width="1"/>
<line x1="83.5" y1="330.8" x2="83.5" y2="332.3" stroke="#333" stroke-width="1"/>
<line x1="111.5" y1="330.8" x2="111.5" y2="332.3" stroke="#333" stroke-width="1"/>
<line x1="140.5" y1="330.8" x2="140.5" y2="332.3" stroke="#333" stroke-width="1"/>
<line x1="168.5" y1="330.8" x2="168.5" y2="332.3" stroke="#333" stroke-width="1"/>
<line x1="197.5" y1="330.8" x2="197.5" y2="332.3" stroke="#333" stroke-width="1"/>
<line x1="54.5" y1="202.5" x2="51.7" y2="202.5" stroke="#333" stroke-width="1"/>
<line x1="54.5" y1="245.5" x2="51.7" y2="245.5" stroke="#333" stroke-width="1"/>
<line x1="54.5" y1="287.5" x2="51.7" y2="287.5" stroke="#333" stroke-width="1"/>
<line x1="54.5" y1="330.5" x2="51.7" y2="330.5" stroke="#333" stroke-width="1"/>
<line x1="54.5" y1="224.5" x2="52.9" y2="224.5" stroke="#333" stroke-width="1"/>
<line x1="54.5" y1="266.5" x2="52.9" y2="266.5" stroke="#333" stroke-width="1"/>
<line x1="54.5" y1="309.5" x2="52.9" y2="309.5" stroke="#333" stroke-width="1"/>
<text x="68.77" y="343.78" font-size="10" text-anchor="middle">0.0</text>
<text x="97.32" y="343.78" font-size="10" text-anchor="middle">0.2</text>
<text x="125.86" y="343.78" font-size="10" text-anchor="middle">0.4</text>
<text x="154.41" y="343.78" font-size="10" text-anchor="middle">0.6</text>
<text x="182.95" y="343.78" font-size="10" text-anchor="middle">0.8</text>
<text x="211.5" y="343.78" font-size="10" text-anchor="middle">1.0</text>
<text x="49.9" y="205.18" font-size="10" text-anchor="end">0</text>
<text x="49.9" y="247.68" font-size="10" text-anchor="end" textLength="18.3" lengthAdjust="spacingAndGlyphs">−10</text>
<text x="49.9" y="290.18" font-size="10" text-anchor="end" textLength="18.3" lengthAdjust="spacingAndGlyphs">−20</text>
<text x="49.9" y="332.68" font-size="10" text-anchor="end" textLength="18.3" lengthAdjust="spacingAndGlyphs">−30</text>
<line x1="139.1" y1="313.2" x2="162.7" y2="313.2" stroke="#7a7a7a" stroke-width="1.3"/>
<circle cx="150.9" cy="313.2" r="1.65" fill="#7a7a7a"/>
<text x="165.7" y="316.71" font-size="9.8" textLength="44.5" lengthAdjust="spacingAndGlyphs">PzA5:L8BO</text>
<line x1="139.1" y1="325.5" x2="162.7" y2="325.5" stroke="#e2587a" stroke-width="1.3"/>
<circle cx="150.9" cy="325.5" r="1.65" fill="#e2587a"/>
<text x="165.7" y="329.01" font-size="9.8" textLength="43.3" lengthAdjust="spacingAndGlyphs">UVC+ASH</text>
<text x="98.2" y="362" font-size="12" textLength="60.6" lengthAdjust="spacingAndGlyphs">Voltage (V)</text>
<g transform="translate(26,333.6) rotate(-90)">
<text x="0" y="0" font-size="12" textLength="129.43" lengthAdjust="spacingAndGlyphs">Current density (mA/cm</text>
<text x="129.43" y="-5.3" font-size="8" textLength="4.57" lengthAdjust="spacingAndGlyphs">2</text>
<text x="134" y="0" font-size="12" textLength="4.1" lengthAdjust="spacingAndGlyphs">)</text>
</g>
<text x="0.2" y="203" font-size="19" fill="#050505" style="stroke:none">d</text>
<g clip-path="url(#c5)">
<path d="M282.3,317.02 L282.59,317 L282.87,316.97 L283.16,316.95 L283.44,316.93 L283.73,316.91 L284.01,316.88 L284.3,316.86 L284.59,316.84 L284.87,316.82 L285.16,316.79 L285.44,316.77 L285.73,316.75 L286.01,316.72 L286.3,316.7 L286.58,316.68 L286.87,316.66 L287.16,316.63 L287.44,316.61 L287.73,316.59 L288.01,316.57 L288.3,316.54 L288.58,316.52 L288.87,316.5 L289.16,316.48 L289.44,316.46 L289.73,316.43 L290.01,316.41 L290.3,316.39 L290.58,316.37 L290.87,316.34 L291.15,316.32 L291.44,316.3 L291.73,316.28 L292.01,316.25 L292.3,316.23 L292.58,316.21 L292.87,316.19 L293.15,316.16 L293.44,316.14 L293.73,316.12 L294.01,316.1 L294.3,316.08 L294.58,316.05 L294.87,316.03 L295.15,316.01 L295.44,315.99 L295.72,315.96 L296.01,315.94 L296.3,315.92 L296.58,315.9 L296.87,315.87 L297.15,315.85 L297.44,315.83 L297.72,315.81 L298.01,315.79 L298.3,315.76 L298.58,315.74 L298.87,315.72 L299.15,315.7 L299.44,315.67 L299.72,315.65 L300.01,315.63 L300.3,315.61 L300.58,315.59 L300.87,315.56 L301.15,315.54 L301.44,315.52 L301.72,315.5 L302.01,315.47 L302.29,315.45 L302.58,315.43 L302.87,315.41 L303.15,315.38 L303.44,315.36 L303.72,315.34 L304.01,315.32 L304.29,315.29 L304.58,315.27 L304.87,315.25 L305.15,315.23 L305.44,315.2 L305.72,315.18 L306.01,315.16 L306.29,315.14 L306.58,315.11 L306.86,315.09 L307.15,315.07 L307.44,315.05 L307.72,315.02 L308.01,315 L308.29,314.98 L308.58,314.96 L308.86,314.93 L309.15,314.91 L309.44,314.89 L309.72,314.87 L310.01,314.84 L310.29,314.82 L310.58,314.8 L310.86,314.77 L311.15,314.75 L311.43,314.73 L311.72,314.71 L312.01,314.68 L312.29,314.66 L312.58,314.64 L312.86,314.61 L313.15,314.59 L313.43,314.57 L313.72,314.55 L314.01,314.52 L314.29,314.5 L314.58,314.48 L314.86,314.45 L315.15,314.43 L315.43,314.41 L315.72,314.38 L316.01,314.36 L316.29,314.34 L316.58,314.31 L316.86,314.29 L317.15,314.27 L317.43,314.24 L317.72,314.22 L318,314.2 L318.29,314.17 L318.58,314.15 L318.86,314.12 L319.15,314.1 L319.43,314.08 L319.72,314.05 L320,314.03 L320.29,314.01 L320.58,313.98 L320.86,313.96 L321.15,313.93 L321.43,313.91 L321.72,313.89 L322,313.86 L322.29,313.84 L322.57,313.81 L322.86,313.79 L323.15,313.77 L323.43,313.74 L323.72,313.72 L324,313.69 L324.29,313.67 L324.57,313.64 L324.86,313.62 L325.15,313.6 L325.43,313.57 L325.72,313.55 L326,313.52 L326.29,313.5 L326.57,313.47 L326.86,313.45 L327.14,313.42 L327.43,313.4 L327.72,313.38 L328,313.35 L328.29,313.33 L328.57,313.3 L328.86,313.28 L329.14,313.25 L329.43,313.23 L329.72,313.2 L330,313.18 L330.29,313.15 L330.57,313.13 L330.86,313.1 L331.14,313.08 L331.43,313.05 L331.72,313.03 L332,313 L332.29,312.98 L332.57,312.95 L332.86,312.93 L333.14,312.9 L333.43,312.88 L333.71,312.86 L334,312.83 L334.29,312.81 L334.57,312.78 L334.86,312.76 L335.14,312.73 L335.43,312.7 L335.71,312.68 L336,312.65 L336.29,312.63 L336.57,312.6 L336.86,312.58 L337.14,312.55 L337.43,312.53 L337.71,312.5 L338,312.48 L338.28,312.45 L338.57,312.43 L338.86,312.4 L339.14,312.38 L339.43,312.35 L339.71,312.33 L340,312.3 L340.28,312.27 L340.57,312.25 L340.86,312.22 L341.14,312.2 L341.43,312.17 L341.71,312.15 L342,312.12 L342.28,312.09 L342.57,312.07 L342.85,312.04 L343.14,312.02 L343.43,311.99 L343.71,311.96 L344,311.94 L344.28,311.91 L344.57,311.89 L344.85,311.86 L345.14,311.83 L345.43,311.81 L345.71,311.78 L346,311.75 L346.28,311.73 L346.57,311.7 L346.85,311.68 L347.14,311.65 L347.43,311.62 L347.71,311.6 L348,311.57 L348.28,311.54 L348.57,311.52 L348.85,311.49 L349.14,311.46 L349.42,311.44 L349.71,311.41 L350,311.38 L350.28,311.35 L350.57,311.33 L350.85,311.3 L351.14,311.27 L351.42,311.25 L351.71,311.22 L352,311.19 L352.28,311.16 L352.57,311.14 L352.85,311.11 L353.14,311.08 L353.42,311.05 L353.71,311.03 L353.99,311 L354.28,310.97 L354.57,310.94 L354.85,310.92 L355.14,310.89 L355.42,310.86 L355.71,310.83 L355.99,310.8 L356.28,310.78 L356.57,310.75 L356.85,310.72 L357.14,310.69 L357.42,310.66 L357.71,310.63 L357.99,310.61 L358.28,310.58 L358.56,310.55 L358.85,310.52 L359.14,310.49 L359.42,310.46 L359.71,310.43 L359.99,310.41 L360.28,310.38 L360.56,310.35 L360.85,310.32 L361.14,310.29 L361.42,310.26 L361.71,310.23 L361.99,310.2 L362.28,310.17 L362.56,310.14 L362.85,310.11 L363.14,310.08 L363.42,310.05 L363.71,310.02 L363.99,309.99 L364.28,309.96 L364.56,309.93 L364.85,309.9 L365.13,309.87 L365.42,309.84 L365.71,309.81 L365.99,309.78 L366.28,309.75 L366.56,309.72 L366.85,309.69 L367.13,309.66 L367.42,309.63 L367.71,309.6 L367.99,309.57 L368.28,309.53 L368.56,309.5 L368.85,309.47 L369.13,309.44 L369.42,309.41 L369.7,309.37 L369.99,309.34 L370.28,309.31 L370.56,309.27 L370.85,309.24 L371.13,309.21 L371.42,309.17 L371.7,309.14 L371.99,309.1 L372.28,309.07 L372.56,309.03 L372.85,309 L373.13,308.96 L373.42,308.92 L373.7,308.89 L373.99,308.85 L374.27,308.82 L374.56,308.78 L374.85,308.74 L375.13,308.71 L375.42,308.67 L375.7,308.63 L375.99,308.6 L376.27,308.56 L376.56,308.53 L376.85,308.49 L377.13,308.45 L377.42,308.41 L377.7,308.38 L377.99,308.34 L378.27,308.3 L378.56,308.26 L378.85,308.22 L379.13,308.18 L379.42,308.14 L379.7,308.1 L379.99,308.06 L380.27,308.02 L380.56,307.98 L380.84,307.94 L381.13,307.89 L381.42,307.85 L381.7,307.8 L381.99,307.76 L382.27,307.71 L382.56,307.66 L382.84,307.61 L383.13,307.56 L383.42,307.51 L383.7,307.46 L383.99,307.4 L384.27,307.35 L384.56,307.29 L384.84,307.23 L385.13,307.18 L385.41,307.11 L385.7,307.05 L385.99,306.98 L386.27,306.9 L386.56,306.82 L386.84,306.74 L387.13,306.65 L387.41,306.57 L387.7,306.48 L387.99,306.39 L388.27,306.29 L388.56,306.2 L388.84,306.11 L389.13,306.01 L389.41,305.92 L389.7,305.82 L389.98,305.73 L390.27,305.64 L390.56,305.55 L390.84,305.46 L391.13,305.38 L391.41,305.3 L391.7,305.22 L391.98,305.15 L392.27,305.07 L392.56,305 L392.84,304.93 L393.13,304.86 L393.41,304.78 L393.7,304.71 L393.98,304.63 L394.27,304.55 L394.56,304.47 L394.84,304.38 L395.13,304.29 L395.41,304.2 L395.7,304.1 L395.98,303.99 L396.27,303.87 L396.55,303.75 L396.84,303.62 L397.13,303.48 L397.41,303.32 L397.7,303.15 L397.98,302.97 L398.27,302.78 L398.55,302.58 L398.84,302.37 L399.13,302.15 L399.41,301.91 L399.7,301.67 L399.98,301.41 L400.27,301.15 L400.55,300.88 L400.84,300.59 L401.12,300.3 L401.41,300 L401.7,299.69 L401.98,299.37 L402.27,299.04 L402.55,298.7 L402.84,298.33 L403.12,297.93 L403.41,297.51 L403.7,297.06 L403.98,296.58 L404.27,296.09 L404.55,295.57 L404.84,295.03 L405.12,294.47 L405.41,293.89 L405.69,293.29 L405.98,292.67 L406.27,292.04 L406.55,291.39 L406.84,290.72 L407.12,290.04 L407.41,289.35 L407.69,288.64 L407.98,287.92 L408.27,287.17 L408.55,286.4 L408.84,285.61 L409.12,284.78 L409.41,283.92 L409.69,283.03 L409.98,282.1 L410.27,281.15 L410.55,280.16 L410.84,279.14 L411.12,278.08 L411.41,276.99 L411.69,275.87 L411.98,274.7 L412.26,273.51 L412.55,272.27 L412.84,271 L413.12,269.68 L413.41,268.33 L413.69,266.94 L413.98,265.41 L414.26,263.68 L414.55,261.78 L414.84,259.77 L415.12,257.7 L415.41,255.62 L415.69,253.58 L415.98,251.61 L416.26,249.77 L416.55,247.99 L416.83,246.26 L417.12,244.55 L417.41,242.86 L417.69,241.18 L417.98,239.5 L418.26,237.79 L418.55,236.06 L418.83,234.28 L419.12,232.46 L419.41,230.56 L419.69,228.67 L419.98,226.84 L420.26,225.03 L420.55,223.21 L420.83,221.37 L421.12,219.46 L421.4,217.47 L421.69,215.35 L421.98,213.09 L422.26,210.66 L422.55,208.01 L422.83,205.14 L423.12,201.71 L423.4,197.18" stroke="#fdb57a" stroke-width="1.4" fill="none" stroke-linejoin="round"/>
<rect x="280.6" y="315.32" width="3.4" height="3.4" fill="#fdb57a"/>
<rect x="286.31" y="314.87" width="3.4" height="3.4" fill="#fdb57a"/>
<rect x="292.03" y="314.42" width="3.4" height="3.4" fill="#fdb57a"/>
<rect x="297.74" y="313.97" width="3.4" height="3.4" fill="#fdb57a"/>
<rect x="303.45" y="313.53" width="3.4" height="3.4" fill="#fdb57a"/>
<rect x="309.16" y="313.07" width="3.4" height="3.4" fill="#fdb57a"/>
<rect x="314.88" y="312.61" width="3.4" height="3.4" fill="#fdb57a"/>
<rect x="320.59" y="312.14" width="3.4" height="3.4" fill="#fdb57a"/>
<rect x="326.3" y="311.65" width="3.4" height="3.4" fill="#fdb57a"/>
<rect x="332.01" y="311.16" width="3.4" height="3.4" fill="#fdb57a"/>
<rect x="337.73" y="310.65" width="3.4" height="3.4" fill="#fdb57a"/>
<rect x="343.44" y="310.13" width="3.4" height="3.4" fill="#fdb57a"/>
<rect x="349.15" y="309.6" width="3.4" height="3.4" fill="#fdb57a"/>
<rect x="354.87" y="309.05" width="3.4" height="3.4" fill="#fdb57a"/>
<rect x="360.58" y="308.47" width="3.4" height="3.4" fill="#fdb57a"/>
<rect x="366.29" y="307.87" width="3.4" height="3.4" fill="#fdb57a"/>
<rect x="372" y="307.19" width="3.4" height="3.4" fill="#fdb57a"/>
<rect x="377.72" y="306.44" width="3.4" height="3.4" fill="#fdb57a"/>
<rect x="383.43" y="305.48" width="3.4" height="3.4" fill="#fdb57a"/>
<rect x="389.14" y="303.76" width="3.4" height="3.4" fill="#fdb57a"/>
<rect x="394.85" y="302.05" width="3.4" height="3.4" fill="#fdb57a"/>
<rect x="400.57" y="297.34" width="3.4" height="3.4" fill="#fdb57a"/>
<rect x="406.28" y="286.22" width="3.4" height="3.4" fill="#fdb57a"/>
<rect x="411.99" y="265.24" width="3.4" height="3.4" fill="#fdb57a"/>
<rect x="417.71" y="228.86" width="3.4" height="3.4" fill="#fdb57a"/>
<path d="M282.3,311.88 L282.59,311.86 L282.87,311.84 L283.16,311.82 L283.44,311.8 L283.73,311.78 L284.01,311.76 L284.3,311.74 L284.59,311.72 L284.87,311.7 L285.16,311.68 L285.44,311.66 L285.73,311.64 L286.01,311.62 L286.3,311.6 L286.58,311.58 L286.87,311.56 L287.16,311.54 L287.44,311.52 L287.73,311.5 L288.01,311.48 L288.3,311.46 L288.58,311.44 L288.87,311.42 L289.16,311.4 L289.44,311.38 L289.73,311.36 L290.01,311.34 L290.3,311.32 L290.58,311.3 L290.87,311.28 L291.15,311.26 L291.44,311.24 L291.73,311.22 L292.01,311.2 L292.3,311.18 L292.58,311.16 L292.87,311.14 L293.15,311.12 L293.44,311.1 L293.73,311.08 L294.01,311.06 L294.3,311.04 L294.58,311.02 L294.87,311 L295.15,310.98 L295.44,310.96 L295.72,310.94 L296.01,310.92 L296.3,310.9 L296.58,310.88 L296.87,310.86 L297.15,310.84 L297.44,310.82 L297.72,310.8 L298.01,310.78 L298.3,310.76 L298.58,310.74 L298.87,310.72 L299.15,310.7 L299.44,310.68 L299.72,310.66 L300.01,310.64 L300.3,310.62 L300.58,310.6 L300.87,310.58 L301.15,310.56 L301.44,310.54 L301.72,310.52 L302.01,310.5 L302.29,310.48 L302.58,310.46 L302.87,310.44 L303.15,310.42 L303.44,310.4 L303.72,310.38 L304.01,310.36 L304.29,310.34 L304.58,310.32 L304.87,310.3 L305.15,310.28 L305.44,310.26 L305.72,310.24 L306.01,310.22 L306.29,310.2 L306.58,310.18 L306.86,310.16 L307.15,310.14 L307.44,310.12 L307.72,310.1 L308.01,310.08 L308.29,310.06 L308.58,310.04 L308.86,310.02 L309.15,310 L309.44,309.98 L309.72,309.96 L310.01,309.94 L310.29,309.92 L310.58,309.9 L310.86,309.88 L311.15,309.86 L311.43,309.84 L311.72,309.82 L312.01,309.8 L312.29,309.78 L312.58,309.76 L312.86,309.74 L313.15,309.72 L313.43,309.7 L313.72,309.68 L314.01,309.66 L314.29,309.64 L314.58,309.62 L314.86,309.6 L315.15,309.58 L315.43,309.56 L315.72,309.54 L316.01,309.52 L316.29,309.5 L316.58,309.49 L316.86,309.47 L317.15,309.45 L317.43,309.43 L317.72,309.41 L318,309.39 L318.29,309.37 L318.58,309.35 L318.86,309.33 L319.15,309.31 L319.43,309.29 L319.72,309.27 L320,309.25 L320.29,309.23 L320.58,309.21 L320.86,309.19 L321.15,309.17 L321.43,309.15 L321.72,309.13 L322,309.11 L322.29,309.09 L322.57,309.07 L322.86,309.05 L323.15,309.03 L323.43,309.01 L323.72,308.99 L324,308.97 L324.29,308.95 L324.57,308.93 L324.86,308.91 L325.15,308.89 L325.43,308.87 L325.72,308.85 L326,308.83 L326.29,308.81 L326.57,308.79 L326.86,308.77 L327.14,308.75 L327.43,308.73 L327.72,308.71 L328,308.69 L328.29,308.67 L328.57,308.66 L328.86,308.64 L329.14,308.62 L329.43,308.6 L329.72,308.58 L330,308.56 L330.29,308.54 L330.57,308.52 L330.86,308.51 L331.14,308.49 L331.43,308.47 L331.72,308.45 L332,308.43 L332.29,308.41 L332.57,308.4 L332.86,308.38 L333.14,308.36 L333.43,308.34 L333.71,308.32 L334,308.31 L334.29,308.29 L334.57,308.27 L334.86,308.25 L335.14,308.23 L335.43,308.22 L335.71,308.2 L336,308.18 L336.29,308.16 L336.57,308.15 L336.86,308.13 L337.14,308.11 L337.43,308.09 L337.71,308.07 L338,308.06 L338.28,308.04 L338.57,308.02 L338.86,308 L339.14,307.98 L339.43,307.97 L339.71,307.95 L340,307.93 L340.28,307.91 L340.57,307.9 L340.86,307.88 L341.14,307.86 L341.43,307.84 L341.71,307.82 L342,307.81 L342.28,307.79 L342.57,307.77 L342.85,307.75 L343.14,307.73 L343.43,307.71 L343.71,307.7 L344,307.68 L344.28,307.66 L344.57,307.64 L344.85,307.62 L345.14,307.6 L345.43,307.59 L345.71,307.57 L346,307.55 L346.28,307.53 L346.57,307.51 L346.85,307.49 L347.14,307.47 L347.43,307.45 L347.71,307.43 L348,307.42 L348.28,307.4 L348.57,307.38 L348.85,307.36 L349.14,307.34 L349.42,307.32 L349.71,307.3 L350,307.28 L350.28,307.26 L350.57,307.24 L350.85,307.22 L351.14,307.2 L351.42,307.18 L351.71,307.16 L352,307.14 L352.28,307.12 L352.57,307.1 L352.85,307.08 L353.14,307.06 L353.42,307.04 L353.71,307.01 L353.99,306.99 L354.28,306.97 L354.57,306.95 L354.85,306.93 L355.14,306.91 L355.42,306.89 L355.71,306.86 L355.99,306.84 L356.28,306.82 L356.57,306.8 L356.85,306.78 L357.14,306.75 L357.42,306.73 L357.71,306.71 L357.99,306.68 L358.28,306.66 L358.56,306.64 L358.85,306.61 L359.14,306.59 L359.42,306.57 L359.71,306.54 L359.99,306.52 L360.28,306.49 L360.56,306.47 L360.85,306.45 L361.14,306.42 L361.42,306.4 L361.71,306.37 L361.99,306.35 L362.28,306.32 L362.56,306.29 L362.85,306.27 L363.14,306.24 L363.42,306.22 L363.71,306.19 L363.99,306.16 L364.28,306.14 L364.56,306.11 L364.85,306.08 L365.13,306.06 L365.42,306.03 L365.71,306 L365.99,305.97 L366.28,305.94 L366.56,305.91 L366.85,305.89 L367.13,305.86 L367.42,305.83 L367.71,305.8 L367.99,305.76 L368.28,305.73 L368.56,305.7 L368.85,305.67 L369.13,305.64 L369.42,305.6 L369.7,305.57 L369.99,305.54 L370.28,305.5 L370.56,305.47 L370.85,305.43 L371.13,305.39 L371.42,305.36 L371.7,305.32 L371.99,305.28 L372.28,305.24 L372.56,305.2 L372.85,305.16 L373.13,305.12 L373.42,305.08 L373.7,305.04 L373.99,304.99 L374.27,304.95 L374.56,304.9 L374.85,304.85 L375.13,304.8 L375.42,304.75 L375.7,304.7 L375.99,304.65 L376.27,304.59 L376.56,304.53 L376.85,304.48 L377.13,304.42 L377.42,304.36 L377.7,304.3 L377.99,304.23 L378.27,304.17 L378.56,304.11 L378.85,304.04 L379.13,303.98 L379.42,303.91 L379.7,303.84 L379.99,303.78 L380.27,303.71 L380.56,303.64 L380.84,303.57 L381.13,303.5 L381.42,303.42 L381.7,303.35 L381.99,303.28 L382.27,303.21 L382.56,303.14 L382.84,303.06 L383.13,302.99 L383.42,302.91 L383.7,302.84 L383.99,302.77 L384.27,302.69 L384.56,302.62 L384.84,302.54 L385.13,302.47 L385.41,302.39 L385.7,302.32 L385.99,302.24 L386.27,302.17 L386.56,302.09 L386.84,302.02 L387.13,301.94 L387.41,301.86 L387.7,301.78 L387.99,301.7 L388.27,301.61 L388.56,301.53 L388.84,301.44 L389.13,301.35 L389.41,301.26 L389.7,301.17 L389.98,301.07 L390.27,300.97 L390.56,300.86 L390.84,300.76 L391.13,300.65 L391.41,300.53 L391.7,300.42 L391.98,300.3 L392.27,300.17 L392.56,300.05 L392.84,299.91 L393.13,299.78 L393.41,299.64 L393.7,299.5 L393.98,299.35 L394.27,299.19 L394.56,299.03 L394.84,298.87 L395.13,298.7 L395.41,298.52 L395.7,298.34 L395.98,298.16 L396.27,297.96 L396.55,297.76 L396.84,297.55 L397.13,297.32 L397.41,297.09 L397.7,296.83 L397.98,296.57 L398.27,296.29 L398.55,296 L398.84,295.7 L399.13,295.39 L399.41,295.07 L399.7,294.74 L399.98,294.4 L400.27,294.04 L400.55,293.68 L400.84,293.31 L401.12,292.93 L401.41,292.55 L401.7,292.15 L401.98,291.75 L402.27,291.34 L402.55,290.92 L402.84,290.5 L403.12,290.07 L403.41,289.62 L403.7,289.17 L403.98,288.7 L404.27,288.22 L404.55,287.71 L404.84,287.19 L405.12,286.65 L405.41,286.09 L405.69,285.5 L405.98,284.89 L406.27,284.26 L406.55,283.59 L406.84,282.9 L407.12,282.17 L407.41,281.41 L407.69,280.61 L407.98,279.78 L408.27,278.86 L408.55,277.8 L408.84,276.62 L409.12,275.32 L409.41,273.93 L409.69,272.44 L409.98,270.88 L410.27,269.25 L410.55,267.57 L410.84,265.84 L411.12,264.09 L411.41,262.32 L411.69,260.55 L411.98,258.78 L412.26,257.03 L412.55,255.31 L412.84,253.64 L413.12,252.02 L413.41,250.45 L413.69,248.94 L413.98,247.47 L414.26,246.04 L414.55,244.64 L414.84,243.26 L415.12,241.89 L415.41,240.53 L415.69,239.17 L415.98,237.8 L416.26,236.42 L416.55,235.02 L416.83,233.58 L417.12,232.11 L417.41,230.6 L417.69,229.03 L417.98,227.41 L418.26,225.72 L418.55,223.96 L418.83,222.11 L419.12,220.18 L419.41,218.16 L419.69,216.03 L419.98,213.79 L420.26,211.44 L420.55,208.96 L420.83,206.35 L421.12,203.6 L421.4,199.48 L421.55,197.18" stroke="#f26868" stroke-width="1.4" fill="none" stroke-linejoin="round"/>
<circle cx="282.3" cy="311.88" r="1.7" fill="#f26868"/>
<circle cx="288.01" cy="311.48" r="1.7" fill="#f26868"/>
<circle cx="293.73" cy="311.08" r="1.7" fill="#f26868"/>
<circle cx="299.44" cy="310.68" r="1.7" fill="#f26868"/>
<circle cx="305.15" cy="310.28" r="1.7" fill="#f26868"/>
<circle cx="310.86" cy="309.88" r="1.7" fill="#f26868"/>
<circle cx="316.58" cy="309.49" r="1.7" fill="#f26868"/>
<circle cx="322.29" cy="309.09" r="1.7" fill="#f26868"/>
<circle cx="328" cy="308.69" r="1.7" fill="#f26868"/>
<circle cx="333.71" cy="308.32" r="1.7" fill="#f26868"/>
<circle cx="339.43" cy="307.97" r="1.7" fill="#f26868"/>
<circle cx="345.14" cy="307.6" r="1.7" fill="#f26868"/>
<circle cx="350.85" cy="307.22" r="1.7" fill="#f26868"/>
<circle cx="356.57" cy="306.8" r="1.7" fill="#f26868"/>
<circle cx="362.28" cy="306.32" r="1.7" fill="#f26868"/>
<circle cx="367.99" cy="305.76" r="1.7" fill="#f26868"/>
<circle cx="373.7" cy="305.04" r="1.7" fill="#f26868"/>
<circle cx="379.42" cy="303.91" r="1.7" fill="#f26868"/>
<circle cx="385.13" cy="302.47" r="1.7" fill="#f26868"/>
<circle cx="390.84" cy="300.76" r="1.7" fill="#f26868"/>
<circle cx="396.55" cy="297.76" r="1.7" fill="#f26868"/>
<circle cx="402.27" cy="291.34" r="1.7" fill="#f26868"/>
<circle cx="407.98" cy="279.78" r="1.7" fill="#f26868"/>
<circle cx="413.69" cy="248.94" r="1.7" fill="#f26868"/>
<circle cx="419.41" cy="218.16" r="1.7" fill="#f26868"/>
<path d="M282.3,308.89 L282.59,308.87 L282.87,308.85 L283.16,308.83 L283.44,308.81 L283.73,308.79 L284.01,308.77 L284.3,308.75 L284.59,308.73 L284.87,308.71 L285.16,308.69 L285.44,308.67 L285.73,308.65 L286.01,308.63 L286.3,308.61 L286.58,308.59 L286.87,308.57 L287.16,308.55 L287.44,308.53 L287.73,308.51 L288.01,308.49 L288.3,308.47 L288.58,308.45 L288.87,308.43 L289.16,308.41 L289.44,308.39 L289.73,308.37 L290.01,308.35 L290.3,308.33 L290.58,308.32 L290.87,308.3 L291.15,308.28 L291.44,308.26 L291.73,308.24 L292.01,308.22 L292.3,308.2 L292.58,308.18 L292.87,308.16 L293.15,308.14 L293.44,308.12 L293.73,308.1 L294.01,308.08 L294.3,308.06 L294.58,308.04 L294.87,308.02 L295.15,308 L295.44,307.98 L295.72,307.96 L296.01,307.94 L296.3,307.93 L296.58,307.91 L296.87,307.89 L297.15,307.87 L297.44,307.85 L297.72,307.83 L298.01,307.81 L298.3,307.79 L298.58,307.77 L298.87,307.75 L299.15,307.73 L299.44,307.71 L299.72,307.69 L300.01,307.67 L300.3,307.65 L300.58,307.63 L300.87,307.61 L301.15,307.59 L301.44,307.57 L301.72,307.55 L302.01,307.53 L302.29,307.52 L302.58,307.5 L302.87,307.48 L303.15,307.46 L303.44,307.44 L303.72,307.42 L304.01,307.4 L304.29,307.38 L304.58,307.36 L304.87,307.34 L305.15,307.32 L305.44,307.3 L305.72,307.28 L306.01,307.26 L306.29,307.24 L306.58,307.22 L306.86,307.2 L307.15,307.18 L307.44,307.16 L307.72,307.14 L308.01,307.12 L308.29,307.1 L308.58,307.08 L308.86,307.06 L309.15,307.04 L309.44,307.02 L309.72,307 L310.01,306.98 L310.29,306.96 L310.58,306.94 L310.86,306.92 L311.15,306.9 L311.43,306.88 L311.72,306.86 L312.01,306.84 L312.29,306.82 L312.58,306.8 L312.86,306.78 L313.15,306.76 L313.43,306.74 L313.72,306.72 L314.01,306.7 L314.29,306.68 L314.58,306.66 L314.86,306.64 L315.15,306.62 L315.43,306.6 L315.72,306.58 L316.01,306.56 L316.29,306.54 L316.58,306.52 L316.86,306.5 L317.15,306.48 L317.43,306.46 L317.72,306.44 L318,306.42 L318.29,306.4 L318.58,306.38 L318.86,306.35 L319.15,306.33 L319.43,306.31 L319.72,306.29 L320,306.27 L320.29,306.25 L320.58,306.23 L320.86,306.21 L321.15,306.19 L321.43,306.17 L321.72,306.15 L322,306.13 L322.29,306.1 L322.57,306.08 L322.86,306.06 L323.15,306.04 L323.43,306.02 L323.72,306 L324,305.98 L324.29,305.96 L324.57,305.93 L324.86,305.91 L325.15,305.89 L325.43,305.87 L325.72,305.85 L326,305.83 L326.29,305.81 L326.57,305.79 L326.86,305.77 L327.14,305.74 L327.43,305.72 L327.72,305.7 L328,305.68 L328.29,305.66 L328.57,305.64 L328.86,305.62 L329.14,305.6 L329.43,305.58 L329.72,305.56 L330,305.54 L330.29,305.52 L330.57,305.5 L330.86,305.48 L331.14,305.46 L331.43,305.44 L331.72,305.42 L332,305.4 L332.29,305.38 L332.57,305.36 L332.86,305.34 L333.14,305.32 L333.43,305.3 L333.71,305.28 L334,305.26 L334.29,305.24 L334.57,305.22 L334.86,305.21 L335.14,305.19 L335.43,305.17 L335.71,305.15 L336,305.13 L336.29,305.11 L336.57,305.09 L336.86,305.07 L337.14,305.05 L337.43,305.03 L337.71,305.01 L338,304.99 L338.28,304.97 L338.57,304.95 L338.86,304.93 L339.14,304.91 L339.43,304.89 L339.71,304.87 L340,304.85 L340.28,304.83 L340.57,304.81 L340.86,304.79 L341.14,304.77 L341.43,304.75 L341.71,304.73 L342,304.71 L342.28,304.69 L342.57,304.67 L342.85,304.65 L343.14,304.63 L343.43,304.61 L343.71,304.59 L344,304.57 L344.28,304.54 L344.57,304.52 L344.85,304.5 L345.14,304.48 L345.43,304.46 L345.71,304.44 L346,304.42 L346.28,304.39 L346.57,304.37 L346.85,304.35 L347.14,304.33 L347.43,304.31 L347.71,304.28 L348,304.26 L348.28,304.24 L348.57,304.22 L348.85,304.19 L349.14,304.17 L349.42,304.15 L349.71,304.12 L350,304.1 L350.28,304.08 L350.57,304.05 L350.85,304.03 L351.14,304 L351.42,303.98 L351.71,303.95 L352,303.93 L352.28,303.9 L352.57,303.88 L352.85,303.85 L353.14,303.83 L353.42,303.8 L353.71,303.78 L353.99,303.75 L354.28,303.73 L354.57,303.7 L354.85,303.67 L355.14,303.65 L355.42,303.62 L355.71,303.59 L355.99,303.56 L356.28,303.54 L356.57,303.51 L356.85,303.48 L357.14,303.45 L357.42,303.42 L357.71,303.39 L357.99,303.36 L358.28,303.33 L358.56,303.31 L358.85,303.28 L359.14,303.25 L359.42,303.21 L359.71,303.18 L359.99,303.15 L360.28,303.12 L360.56,303.09 L360.85,303.06 L361.14,303.03 L361.42,302.99 L361.71,302.96 L361.99,302.93 L362.28,302.9 L362.56,302.86 L362.85,302.83 L363.14,302.79 L363.42,302.76 L363.71,302.72 L363.99,302.69 L364.28,302.65 L364.56,302.62 L364.85,302.58 L365.13,302.54 L365.42,302.5 L365.71,302.47 L365.99,302.43 L366.28,302.39 L366.56,302.35 L366.85,302.31 L367.13,302.27 L367.42,302.22 L367.71,302.18 L367.99,302.14 L368.28,302.1 L368.56,302.06 L368.85,302.01 L369.13,301.97 L369.42,301.92 L369.7,301.88 L369.99,301.83 L370.28,301.79 L370.56,301.74 L370.85,301.69 L371.13,301.64 L371.42,301.6 L371.7,301.55 L371.99,301.5 L372.28,301.45 L372.56,301.4 L372.85,301.35 L373.13,301.3 L373.42,301.24 L373.7,301.19 L373.99,301.14 L374.27,301.08 L374.56,301.03 L374.85,300.98 L375.13,300.92 L375.42,300.86 L375.7,300.81 L375.99,300.75 L376.27,300.69 L376.56,300.64 L376.85,300.58 L377.13,300.52 L377.42,300.46 L377.7,300.4 L377.99,300.34 L378.27,300.28 L378.56,300.21 L378.85,300.15 L379.13,300.09 L379.42,300.02 L379.7,299.96 L379.99,299.89 L380.27,299.83 L380.56,299.76 L380.84,299.7 L381.13,299.63 L381.42,299.56 L381.7,299.49 L381.99,299.42 L382.27,299.35 L382.56,299.28 L382.84,299.21 L383.13,299.14 L383.42,299.06 L383.7,298.99 L383.99,298.92 L384.27,298.84 L384.56,298.77 L384.84,298.69 L385.13,298.62 L385.41,298.54 L385.7,298.46 L385.99,298.38 L386.27,298.3 L386.56,298.22 L386.84,298.14 L387.13,298.05 L387.41,297.97 L387.7,297.88 L387.99,297.79 L388.27,297.7 L388.56,297.61 L388.84,297.51 L389.13,297.41 L389.41,297.32 L389.7,297.21 L389.98,297.11 L390.27,297 L390.56,296.9 L390.84,296.79 L391.13,296.67 L391.41,296.56 L391.7,296.44 L391.98,296.32 L392.27,296.19 L392.56,296.06 L392.84,295.93 L393.13,295.8 L393.41,295.66 L393.7,295.52 L393.98,295.38 L394.27,295.23 L394.56,295.08 L394.84,294.92 L395.13,294.76 L395.41,294.6 L395.7,294.43 L395.98,294.26 L396.27,294.09 L396.55,293.91 L396.84,293.72 L397.13,293.51 L397.41,293.29 L397.7,293.05 L397.98,292.8 L398.27,292.53 L398.55,292.24 L398.84,291.95 L399.13,291.64 L399.41,291.31 L399.7,290.98 L399.98,290.63 L400.27,290.27 L400.55,289.9 L400.84,289.52 L401.12,289.14 L401.41,288.74 L401.7,288.33 L401.98,287.91 L402.27,287.49 L402.55,287.05 L402.84,286.59 L403.12,286.11 L403.41,285.6 L403.7,285.08 L403.98,284.53 L404.27,283.97 L404.55,283.38 L404.84,282.77 L405.12,282.14 L405.41,281.49 L405.69,280.81 L405.98,280.12 L406.27,279.4 L406.55,278.66 L406.84,277.9 L407.12,277.12 L407.41,276.32 L407.69,275.49 L407.98,274.65 L408.27,273.76 L408.55,272.81 L408.84,271.8 L409.12,270.73 L409.41,269.62 L409.69,268.45 L409.98,267.24 L410.27,265.99 L410.55,264.7 L410.84,263.38 L411.12,262.02 L411.41,260.63 L411.69,259.23 L411.98,257.8 L412.26,256.35 L412.55,254.89 L412.84,253.41 L413.12,251.94 L413.41,250.45 L413.69,248.97 L413.98,247.48 L414.26,245.97 L414.55,244.45 L414.84,242.91 L415.12,241.35 L415.41,239.77 L415.69,238.16 L415.98,236.52 L416.26,234.85 L416.55,233.15 L416.83,231.42 L417.12,229.65 L417.41,227.83 L417.69,225.98 L417.98,224.09 L418.26,222.14 L418.55,220.15 L418.83,218.11 L419.12,216.02 L419.41,213.87 L419.69,211.67 L419.98,209.32 L420.26,206.67 L420.55,203.6 L420.83,199.42 L420.98,197.18" stroke="#d24a7e" stroke-width="1.4" fill="none" stroke-linejoin="round"/>
<polygon points="282.3,307.1 284,310.16 280.6,310.16" fill="#d24a7e"/>
<polygon points="288.01,306.71 289.71,309.77 286.31,309.77" fill="#d24a7e"/>
<polygon points="293.73,306.32 295.43,309.38 292.03,309.38" fill="#d24a7e"/>
<polygon points="299.44,305.93 301.14,308.99 297.74,308.99" fill="#d24a7e"/>
<polygon points="305.15,305.53 306.85,308.59 303.45,308.59" fill="#d24a7e"/>
<polygon points="310.86,305.14 312.56,308.2 309.16,308.2" fill="#d24a7e"/>
<polygon points="316.58,304.73 318.28,307.79 314.88,307.79" fill="#d24a7e"/>
<polygon points="322.29,304.32 323.99,307.38 320.59,307.38" fill="#d24a7e"/>
<polygon points="328,303.9 329.7,306.96 326.3,306.96" fill="#d24a7e"/>
<polygon points="333.71,303.5 335.41,306.56 332.01,306.56" fill="#d24a7e"/>
<polygon points="339.43,303.11 341.13,306.17 337.73,306.17" fill="#d24a7e"/>
<polygon points="345.14,302.7 346.84,305.76 343.44,305.76" fill="#d24a7e"/>
<polygon points="350.85,302.24 352.55,305.3 349.15,305.3" fill="#d24a7e"/>
<polygon points="356.57,301.72 358.27,304.78 354.87,304.78" fill="#d24a7e"/>
<polygon points="362.28,301.11 363.98,304.17 360.58,304.17" fill="#d24a7e"/>
<polygon points="367.99,300.36 369.69,303.42 366.29,303.42" fill="#d24a7e"/>
<polygon points="373.7,299.41 375.4,302.47 372,302.47" fill="#d24a7e"/>
<polygon points="379.42,298.24 381.12,301.3 377.72,301.3" fill="#d24a7e"/>
<polygon points="385.13,296.83 386.83,299.89 383.43,299.89" fill="#d24a7e"/>
<polygon points="390.84,295 392.54,298.06 389.14,298.06" fill="#d24a7e"/>
<polygon points="396.55,292.12 398.25,295.18 394.85,295.18" fill="#d24a7e"/>
<polygon points="402.27,285.7 403.97,288.76 400.57,288.76" fill="#d24a7e"/>
<polygon points="407.98,272.86 409.68,275.92 406.28,275.92" fill="#d24a7e"/>
<polygon points="413.69,247.18 415.39,250.24 411.99,250.24" fill="#d24a7e"/>
<polygon points="419.41,212.09 421.11,215.15 417.71,215.15" fill="#d24a7e"/>
<path d="M282.3,307.6 L282.59,307.58 L282.87,307.56 L283.16,307.54 L283.44,307.51 L283.73,307.49 L284.01,307.47 L284.3,307.44 L284.59,307.42 L284.87,307.4 L285.16,307.37 L285.44,307.35 L285.73,307.33 L286.01,307.31 L286.3,307.28 L286.58,307.26 L286.87,307.24 L287.16,307.21 L287.44,307.19 L287.73,307.17 L288.01,307.14 L288.3,307.12 L288.58,307.1 L288.87,307.07 L289.16,307.05 L289.44,307.03 L289.73,307 L290.01,306.98 L290.3,306.96 L290.58,306.93 L290.87,306.91 L291.15,306.89 L291.44,306.86 L291.73,306.84 L292.01,306.82 L292.3,306.79 L292.58,306.77 L292.87,306.75 L293.15,306.72 L293.44,306.7 L293.73,306.68 L294.01,306.65 L294.3,306.63 L294.58,306.61 L294.87,306.58 L295.15,306.56 L295.44,306.54 L295.72,306.51 L296.01,306.49 L296.3,306.47 L296.58,306.44 L296.87,306.42 L297.15,306.4 L297.44,306.37 L297.72,306.35 L298.01,306.33 L298.3,306.3 L298.58,306.28 L298.87,306.26 L299.15,306.23 L299.44,306.21 L299.72,306.19 L300.01,306.16 L300.3,306.14 L300.58,306.12 L300.87,306.09 L301.15,306.07 L301.44,306.05 L301.72,306.02 L302.01,306 L302.29,305.98 L302.58,305.95 L302.87,305.93 L303.15,305.91 L303.44,305.88 L303.72,305.86 L304.01,305.84 L304.29,305.81 L304.58,305.79 L304.87,305.77 L305.15,305.74 L305.44,305.72 L305.72,305.7 L306.01,305.67 L306.29,305.65 L306.58,305.63 L306.86,305.61 L307.15,305.58 L307.44,305.56 L307.72,305.54 L308.01,305.51 L308.29,305.49 L308.58,305.47 L308.86,305.44 L309.15,305.42 L309.44,305.4 L309.72,305.38 L310.01,305.35 L310.29,305.33 L310.58,305.31 L310.86,305.28 L311.15,305.26 L311.43,305.24 L311.72,305.22 L312.01,305.19 L312.29,305.17 L312.58,305.15 L312.86,305.12 L313.15,305.1 L313.43,305.08 L313.72,305.06 L314.01,305.03 L314.29,305.01 L314.58,304.99 L314.86,304.97 L315.15,304.94 L315.43,304.92 L315.72,304.9 L316.01,304.88 L316.29,304.85 L316.58,304.83 L316.86,304.81 L317.15,304.79 L317.43,304.77 L317.72,304.74 L318,304.72 L318.29,304.7 L318.58,304.68 L318.86,304.66 L319.15,304.63 L319.43,304.61 L319.72,304.59 L320,304.57 L320.29,304.55 L320.58,304.52 L320.86,304.5 L321.15,304.48 L321.43,304.46 L321.72,304.44 L322,304.42 L322.29,304.39 L322.57,304.37 L322.86,304.35 L323.15,304.33 L323.43,304.31 L323.72,304.29 L324,304.26 L324.29,304.24 L324.57,304.22 L324.86,304.2 L325.15,304.18 L325.43,304.16 L325.72,304.14 L326,304.12 L326.29,304.1 L326.57,304.08 L326.86,304.06 L327.14,304.04 L327.43,304.02 L327.72,304 L328,303.98 L328.29,303.96 L328.57,303.94 L328.86,303.92 L329.14,303.9 L329.43,303.89 L329.72,303.87 L330,303.85 L330.29,303.83 L330.57,303.81 L330.86,303.8 L331.14,303.78 L331.43,303.76 L331.72,303.74 L332,303.73 L332.29,303.71 L332.57,303.69 L332.86,303.67 L333.14,303.66 L333.43,303.64 L333.71,303.62 L334,303.61 L334.29,303.59 L334.57,303.58 L334.86,303.56 L335.14,303.54 L335.43,303.53 L335.71,303.51 L336,303.49 L336.29,303.48 L336.57,303.46 L336.86,303.45 L337.14,303.43 L337.43,303.41 L337.71,303.4 L338,303.38 L338.28,303.37 L338.57,303.35 L338.86,303.34 L339.14,303.32 L339.43,303.3 L339.71,303.29 L340,303.27 L340.28,303.26 L340.57,303.24 L340.86,303.22 L341.14,303.21 L341.43,303.19 L341.71,303.18 L342,303.16 L342.28,303.14 L342.57,303.13 L342.85,303.11 L343.14,303.1 L343.43,303.08 L343.71,303.06 L344,303.05 L344.28,303.03 L344.57,303.01 L344.85,303 L345.14,302.98 L345.43,302.96 L345.71,302.95 L346,302.93 L346.28,302.91 L346.57,302.89 L346.85,302.88 L347.14,302.86 L347.43,302.84 L347.71,302.82 L348,302.8 L348.28,302.79 L348.57,302.77 L348.85,302.75 L349.14,302.73 L349.42,302.71 L349.71,302.69 L350,302.67 L350.28,302.65 L350.57,302.63 L350.85,302.61 L351.14,302.59 L351.42,302.57 L351.71,302.55 L352,302.53 L352.28,302.51 L352.57,302.49 L352.85,302.47 L353.14,302.45 L353.42,302.43 L353.71,302.4 L353.99,302.38 L354.28,302.36 L354.57,302.34 L354.85,302.31 L355.14,302.29 L355.42,302.27 L355.71,302.24 L355.99,302.22 L356.28,302.19 L356.57,302.17 L356.85,302.15 L357.14,302.12 L357.42,302.09 L357.71,302.07 L357.99,302.04 L358.28,302.02 L358.56,301.99 L358.85,301.96 L359.14,301.94 L359.42,301.91 L359.71,301.88 L359.99,301.85 L360.28,301.82 L360.56,301.79 L360.85,301.76 L361.14,301.73 L361.42,301.7 L361.71,301.67 L361.99,301.64 L362.28,301.61 L362.56,301.58 L362.85,301.55 L363.14,301.51 L363.42,301.47 L363.71,301.43 L363.99,301.39 L364.28,301.35 L364.56,301.3 L364.85,301.26 L365.13,301.21 L365.42,301.16 L365.71,301.11 L365.99,301.06 L366.28,301.01 L366.56,300.96 L366.85,300.9 L367.13,300.85 L367.42,300.79 L367.71,300.73 L367.99,300.68 L368.28,300.62 L368.56,300.56 L368.85,300.5 L369.13,300.44 L369.42,300.38 L369.7,300.32 L369.99,300.26 L370.28,300.2 L370.56,300.14 L370.85,300.08 L371.13,300.01 L371.42,299.95 L371.7,299.89 L371.99,299.83 L372.28,299.77 L372.56,299.71 L372.85,299.65 L373.13,299.59 L373.42,299.53 L373.7,299.47 L373.99,299.41 L374.27,299.36 L374.56,299.3 L374.85,299.24 L375.13,299.18 L375.42,299.13 L375.7,299.07 L375.99,299.01 L376.27,298.95 L376.56,298.9 L376.85,298.84 L377.13,298.78 L377.42,298.72 L377.7,298.67 L377.99,298.61 L378.27,298.55 L378.56,298.49 L378.85,298.43 L379.13,298.37 L379.42,298.31 L379.7,298.25 L379.99,298.19 L380.27,298.12 L380.56,298.06 L380.84,297.99 L381.13,297.93 L381.42,297.86 L381.7,297.8 L381.99,297.73 L382.27,297.66 L382.56,297.59 L382.84,297.52 L383.13,297.45 L383.42,297.37 L383.7,297.3 L383.99,297.22 L384.27,297.14 L384.56,297.07 L384.84,296.99 L385.13,296.9 L385.41,296.82 L385.7,296.73 L385.99,296.65 L386.27,296.55 L386.56,296.46 L386.84,296.37 L387.13,296.27 L387.41,296.17 L387.7,296.06 L387.99,295.96 L388.27,295.85 L388.56,295.74 L388.84,295.62 L389.13,295.51 L389.41,295.39 L389.7,295.27 L389.98,295.15 L390.27,295.02 L390.56,294.89 L390.84,294.76 L391.13,294.63 L391.41,294.5 L391.7,294.36 L391.98,294.22 L392.27,294.08 L392.56,293.94 L392.84,293.79 L393.13,293.63 L393.41,293.48 L393.7,293.32 L393.98,293.15 L394.27,292.98 L394.56,292.8 L394.84,292.61 L395.13,292.42 L395.41,292.22 L395.7,292.01 L395.98,291.8 L396.27,291.57 L396.55,291.34 L396.84,291.09 L397.13,290.83 L397.41,290.56 L397.7,290.26 L397.98,289.96 L398.27,289.63 L398.55,289.29 L398.84,288.94 L399.13,288.57 L399.41,288.19 L399.7,287.8 L399.98,287.39 L400.27,286.96 L400.55,286.53 L400.84,286.08 L401.12,285.61 L401.41,285.14 L401.7,284.65 L401.98,284.15 L402.27,283.64 L402.55,283.1 L402.84,282.54 L403.12,281.95 L403.41,281.33 L403.7,280.68 L403.98,280 L404.27,279.29 L404.55,278.56 L404.84,277.8 L405.12,277.01 L405.41,276.2 L405.69,275.36 L405.98,274.5 L406.27,273.61 L406.55,272.7 L406.84,271.77 L407.12,270.81 L407.41,269.83 L407.69,268.83 L407.98,267.8 L408.27,266.73 L408.55,265.6 L408.84,264.41 L409.12,263.17 L409.41,261.87 L409.69,260.52 L409.98,259.12 L410.27,257.68 L410.55,256.19 L410.84,254.66 L411.12,253.1 L411.41,251.51 L411.69,249.88 L411.98,248.22 L412.26,246.54 L412.55,244.83 L412.84,243.11 L413.12,241.37 L413.41,239.61 L413.69,237.84 L413.98,236.08 L414.26,234.34 L414.55,232.6 L414.84,230.86 L415.12,229.08 L415.41,227.27 L415.69,225.4 L415.98,223.46 L416.26,221.43 L416.55,219.3 L416.83,217.06 L417.12,214.69 L417.41,212.17 L417.69,209.5 L417.98,206.64 L418.26,203.6 L418.55,199.45 L418.69,197.18" stroke="#7b2a9b" stroke-width="1.4" fill="none" stroke-linejoin="round"/>
<polygon points="282.3,309.39 284,306.33 280.6,306.33" fill="#7b2a9b"/>
<polygon points="288.01,308.93 289.71,305.87 286.31,305.87" fill="#7b2a9b"/>
<polygon points="293.73,308.46 295.43,305.4 292.03,305.4" fill="#7b2a9b"/>
<polygon points="299.44,308 301.14,304.94 297.74,304.94" fill="#7b2a9b"/>
<polygon points="305.15,307.53 306.85,304.47 303.45,304.47" fill="#7b2a9b"/>
<polygon points="310.86,307.07 312.56,304.01 309.16,304.01" fill="#7b2a9b"/>
<polygon points="316.58,306.62 318.28,303.56 314.88,303.56" fill="#7b2a9b"/>
<polygon points="322.29,306.18 323.99,303.12 320.59,303.12" fill="#7b2a9b"/>
<polygon points="328,305.76 329.7,302.7 326.3,302.7" fill="#7b2a9b"/>
<polygon points="333.71,305.41 335.41,302.35 332.01,302.35" fill="#7b2a9b"/>
<polygon points="339.43,305.09 341.13,302.03 337.73,302.03" fill="#7b2a9b"/>
<polygon points="345.14,304.76 346.84,301.7 343.44,301.7" fill="#7b2a9b"/>
<polygon points="350.85,304.4 352.55,301.34 349.15,301.34" fill="#7b2a9b"/>
<polygon points="356.57,303.96 358.27,300.9 354.87,300.9" fill="#7b2a9b"/>
<polygon points="362.28,303.4 363.98,300.34 360.58,300.34" fill="#7b2a9b"/>
<polygon points="367.99,302.46 369.69,299.4 366.29,299.4" fill="#7b2a9b"/>
<polygon points="373.7,301.26 375.4,298.2 372,298.2" fill="#7b2a9b"/>
<polygon points="379.42,300.09 381.12,297.03 377.72,297.03" fill="#7b2a9b"/>
<polygon points="385.13,298.69 386.83,295.63 383.43,295.63" fill="#7b2a9b"/>
<polygon points="390.84,296.55 392.54,293.49 389.14,293.49" fill="#7b2a9b"/>
<polygon points="396.55,293.12 398.25,290.06 394.85,290.06" fill="#7b2a9b"/>
<polygon points="402.27,285.42 403.97,282.36 400.57,282.36" fill="#7b2a9b"/>
<polygon points="407.98,269.59 409.68,266.53 406.28,266.53" fill="#7b2a9b"/>
<polygon points="413.69,239.62 415.39,236.56 411.99,236.56" fill="#7b2a9b"/>
<path d="M282.3,305.04 L282.59,305.01 L282.87,304.99 L283.16,304.97 L283.44,304.95 L283.73,304.92 L284.01,304.9 L284.3,304.88 L284.59,304.85 L284.87,304.83 L285.16,304.81 L285.44,304.79 L285.73,304.76 L286.01,304.74 L286.3,304.72 L286.58,304.7 L286.87,304.68 L287.16,304.65 L287.44,304.63 L287.73,304.61 L288.01,304.59 L288.3,304.56 L288.58,304.54 L288.87,304.52 L289.16,304.5 L289.44,304.48 L289.73,304.45 L290.01,304.43 L290.3,304.41 L290.58,304.39 L290.87,304.37 L291.15,304.34 L291.44,304.32 L291.73,304.3 L292.01,304.28 L292.3,304.26 L292.58,304.23 L292.87,304.21 L293.15,304.19 L293.44,304.17 L293.73,304.15 L294.01,304.12 L294.3,304.1 L294.58,304.08 L294.87,304.06 L295.15,304.04 L295.44,304.02 L295.72,303.99 L296.01,303.97 L296.3,303.95 L296.58,303.93 L296.87,303.91 L297.15,303.88 L297.44,303.86 L297.72,303.84 L298.01,303.82 L298.3,303.8 L298.58,303.78 L298.87,303.75 L299.15,303.73 L299.44,303.71 L299.72,303.69 L300.01,303.67 L300.3,303.64 L300.58,303.62 L300.87,303.6 L301.15,303.58 L301.44,303.56 L301.72,303.54 L302.01,303.51 L302.29,303.49 L302.58,303.47 L302.87,303.45 L303.15,303.43 L303.44,303.4 L303.72,303.38 L304.01,303.36 L304.29,303.34 L304.58,303.31 L304.87,303.29 L305.15,303.27 L305.44,303.25 L305.72,303.23 L306.01,303.2 L306.29,303.18 L306.58,303.16 L306.86,303.14 L307.15,303.11 L307.44,303.09 L307.72,303.07 L308.01,303.05 L308.29,303.02 L308.58,303 L308.86,302.98 L309.15,302.96 L309.44,302.93 L309.72,302.91 L310.01,302.89 L310.29,302.87 L310.58,302.84 L310.86,302.82 L311.15,302.8 L311.43,302.78 L311.72,302.75 L312.01,302.73 L312.29,302.71 L312.58,302.68 L312.86,302.66 L313.15,302.64 L313.43,302.61 L313.72,302.59 L314.01,302.57 L314.29,302.54 L314.58,302.52 L314.86,302.5 L315.15,302.47 L315.43,302.45 L315.72,302.43 L316.01,302.4 L316.29,302.38 L316.58,302.36 L316.86,302.33 L317.15,302.31 L317.43,302.28 L317.72,302.26 L318,302.24 L318.29,302.21 L318.58,302.19 L318.86,302.16 L319.15,302.14 L319.43,302.11 L319.72,302.09 L320,302.07 L320.29,302.04 L320.58,302.02 L320.86,301.99 L321.15,301.97 L321.43,301.94 L321.72,301.92 L322,301.89 L322.29,301.87 L322.57,301.84 L322.86,301.82 L323.15,301.79 L323.43,301.77 L323.72,301.74 L324,301.71 L324.29,301.69 L324.57,301.66 L324.86,301.64 L325.15,301.61 L325.43,301.59 L325.72,301.56 L326,301.53 L326.29,301.51 L326.57,301.48 L326.86,301.46 L327.14,301.43 L327.43,301.41 L327.72,301.38 L328,301.36 L328.29,301.33 L328.57,301.3 L328.86,301.28 L329.14,301.25 L329.43,301.23 L329.72,301.2 L330,301.18 L330.29,301.15 L330.57,301.13 L330.86,301.1 L331.14,301.08 L331.43,301.05 L331.72,301.03 L332,301 L332.29,300.98 L332.57,300.95 L332.86,300.92 L333.14,300.9 L333.43,300.87 L333.71,300.85 L334,300.82 L334.29,300.8 L334.57,300.77 L334.86,300.75 L335.14,300.72 L335.43,300.7 L335.71,300.67 L336,300.64 L336.29,300.62 L336.57,300.59 L336.86,300.57 L337.14,300.54 L337.43,300.51 L337.71,300.49 L338,300.46 L338.28,300.44 L338.57,300.41 L338.86,300.38 L339.14,300.36 L339.43,300.33 L339.71,300.3 L340,300.28 L340.28,300.25 L340.57,300.23 L340.86,300.2 L341.14,300.17 L341.43,300.14 L341.71,300.12 L342,300.09 L342.28,300.06 L342.57,300.04 L342.85,300.01 L343.14,299.98 L343.43,299.95 L343.71,299.93 L344,299.9 L344.28,299.87 L344.57,299.84 L344.85,299.81 L345.14,299.78 L345.43,299.76 L345.71,299.73 L346,299.7 L346.28,299.67 L346.57,299.64 L346.85,299.61 L347.14,299.58 L347.43,299.55 L347.71,299.52 L348,299.49 L348.28,299.46 L348.57,299.43 L348.85,299.4 L349.14,299.37 L349.42,299.34 L349.71,299.31 L350,299.28 L350.28,299.25 L350.57,299.22 L350.85,299.19 L351.14,299.16 L351.42,299.12 L351.71,299.09 L352,299.06 L352.28,299.03 L352.57,299 L352.85,298.96 L353.14,298.93 L353.42,298.9 L353.71,298.86 L353.99,298.83 L354.28,298.8 L354.57,298.76 L354.85,298.73 L355.14,298.69 L355.42,298.66 L355.71,298.62 L355.99,298.59 L356.28,298.55 L356.57,298.52 L356.85,298.48 L357.14,298.45 L357.42,298.41 L357.71,298.38 L357.99,298.34 L358.28,298.3 L358.56,298.26 L358.85,298.23 L359.14,298.19 L359.42,298.15 L359.71,298.11 L359.99,298.08 L360.28,298.04 L360.56,298 L360.85,297.96 L361.14,297.92 L361.42,297.88 L361.71,297.84 L361.99,297.8 L362.28,297.76 L362.56,297.72 L362.85,297.68 L363.14,297.64 L363.42,297.6 L363.71,297.55 L363.99,297.51 L364.28,297.47 L364.56,297.43 L364.85,297.38 L365.13,297.34 L365.42,297.3 L365.71,297.25 L365.99,297.21 L366.28,297.17 L366.56,297.12 L366.85,297.07 L367.13,297.03 L367.42,296.98 L367.71,296.93 L367.99,296.89 L368.28,296.84 L368.56,296.79 L368.85,296.74 L369.13,296.69 L369.42,296.64 L369.7,296.59 L369.99,296.54 L370.28,296.48 L370.56,296.43 L370.85,296.38 L371.13,296.32 L371.42,296.27 L371.7,296.21 L371.99,296.15 L372.28,296.1 L372.56,296.04 L372.85,295.98 L373.13,295.92 L373.42,295.86 L373.7,295.79 L373.99,295.73 L374.27,295.67 L374.56,295.6 L374.85,295.54 L375.13,295.47 L375.42,295.4 L375.7,295.33 L375.99,295.26 L376.27,295.19 L376.56,295.12 L376.85,295.05 L377.13,294.97 L377.42,294.9 L377.7,294.82 L377.99,294.74 L378.27,294.66 L378.56,294.58 L378.85,294.5 L379.13,294.42 L379.42,294.34 L379.7,294.25 L379.99,294.15 L380.27,294.05 L380.56,293.95 L380.84,293.83 L381.13,293.72 L381.42,293.6 L381.7,293.47 L381.99,293.34 L382.27,293.21 L382.56,293.07 L382.84,292.93 L383.13,292.79 L383.42,292.65 L383.7,292.5 L383.99,292.36 L384.27,292.21 L384.56,292.06 L384.84,291.92 L385.13,291.77 L385.41,291.62 L385.7,291.48 L385.99,291.33 L386.27,291.18 L386.56,291.03 L386.84,290.88 L387.13,290.73 L387.41,290.58 L387.7,290.42 L387.99,290.26 L388.27,290.09 L388.56,289.92 L388.84,289.75 L389.13,289.57 L389.41,289.38 L389.7,289.19 L389.98,288.99 L390.27,288.78 L390.56,288.57 L390.84,288.34 L391.13,288.11 L391.41,287.86 L391.7,287.6 L391.98,287.33 L392.27,287.04 L392.56,286.74 L392.84,286.43 L393.13,286.11 L393.41,285.78 L393.7,285.44 L393.98,285.09 L394.27,284.72 L394.56,284.35 L394.84,283.97 L395.13,283.58 L395.41,283.18 L395.7,282.77 L395.98,282.35 L396.27,281.93 L396.55,281.5 L396.84,281.05 L397.13,280.6 L397.41,280.13 L397.7,279.64 L397.98,279.15 L398.27,278.63 L398.55,278.1 L398.84,277.55 L399.13,276.99 L399.41,276.41 L399.7,275.81 L399.98,275.19 L400.27,274.55 L400.55,273.9 L400.84,273.22 L401.12,272.52 L401.41,271.8 L401.7,271.06 L401.98,270.3 L402.27,269.51 L402.55,268.69 L402.84,267.81 L403.12,266.89 L403.41,265.92 L403.7,264.91 L403.98,263.85 L404.27,262.75 L404.55,261.62 L404.84,260.45 L405.12,259.24 L405.41,258 L405.69,256.73 L405.98,255.43 L406.27,254.11 L406.55,252.76 L406.84,251.39 L407.12,249.99 L407.41,248.58 L407.69,247.16 L407.98,245.71 L408.27,244.26 L408.55,242.74 L408.84,241.1 L409.12,239.37 L409.41,237.55 L409.69,235.65 L409.98,233.7 L410.27,231.7 L410.55,229.66 L410.84,227.61 L411.12,225.55 L411.41,223.5 L411.69,221.47 L411.98,219.48 L412.26,217.53 L412.55,215.65 L412.84,213.84 L413.12,212.13 L413.41,210.51 L413.69,209.01 L413.98,207.69 L414.26,206.73 L414.55,205.79 L414.84,204.5 L415.12,201.96 L415.41,197.18" stroke="#3f1583" stroke-width="1.4" fill="none" stroke-linejoin="round"/>
<polygon points="282.3,303 284,305.04 282.3,307.08 280.6,305.04" fill="#3f1583"/>
<polygon points="288.01,302.55 289.71,304.59 288.01,306.63 286.31,304.59" fill="#3f1583"/>
<polygon points="293.73,302.11 295.43,304.15 293.73,306.19 292.03,304.15" fill="#3f1583"/>
<polygon points="299.44,301.67 301.14,303.71 299.44,305.75 297.74,303.71" fill="#3f1583"/>
<polygon points="305.15,301.23 306.85,303.27 305.15,305.31 303.45,303.27" fill="#3f1583"/>
<polygon points="310.86,300.78 312.56,302.82 310.86,304.86 309.16,302.82" fill="#3f1583"/>
<polygon points="316.58,300.32 318.28,302.36 316.58,304.4 314.88,302.36" fill="#3f1583"/>
<polygon points="322.29,299.83 323.99,301.87 322.29,303.91 320.59,301.87" fill="#3f1583"/>
<polygon points="328,299.32 329.7,301.36 328,303.4 326.3,301.36" fill="#3f1583"/>
<polygon points="333.71,298.81 335.41,300.85 333.71,302.89 332.01,300.85" fill="#3f1583"/>
<polygon points="339.43,298.29 341.13,300.33 339.43,302.37 337.73,300.33" fill="#3f1583"/>
<polygon points="345.14,297.74 346.84,299.78 345.14,301.82 343.44,299.78" fill="#3f1583"/>
<polygon points="350.85,297.15 352.55,299.19 350.85,301.23 349.15,299.19" fill="#3f1583"/>
<polygon points="356.57,296.48 358.27,298.52 356.57,300.56 354.87,298.52" fill="#3f1583"/>
<polygon points="362.28,295.72 363.98,297.76 362.28,299.8 360.58,297.76" fill="#3f1583"/>
<polygon points="367.99,294.85 369.69,296.89 367.99,298.93 366.29,296.89" fill="#3f1583"/>
<polygon points="373.7,293.75 375.4,295.79 373.7,297.83 372,295.79" fill="#3f1583"/>
<polygon points="379.42,292.3 381.12,294.34 379.42,296.38 377.72,294.34" fill="#3f1583"/>
<polygon points="385.13,289.73 386.83,291.77 385.13,293.81 383.43,291.77" fill="#3f1583"/>
<polygon points="390.84,286.3 392.54,288.34 390.84,290.38 389.14,288.34" fill="#3f1583"/>
<polygon points="396.55,279.46 398.25,281.5 396.55,283.54 394.85,281.5" fill="#3f1583"/>
<polygon points="402.27,267.47 403.97,269.51 402.27,271.55 400.57,269.51" fill="#3f1583"/>
<polygon points="407.98,243.67 409.68,245.71 407.98,247.75 406.28,245.71" fill="#3f1583"/>
<polygon points="413.69,206.97 415.39,209.01 413.69,211.05 411.99,209.01" fill="#3f1583"/>
</g>
<line x1="282.5" y1="203.6" x2="439.5" y2="203.6" stroke="#9a9a9a" stroke-width="1.5"/>
<line x1="296.5" y1="199.5" x2="296.5" y2="331.9" stroke="#333" stroke-width="1"/>
<line x1="282.5" y1="199.5" x2="439.5" y2="199.5" stroke="#333" stroke-width="1"/>
<line x1="282.5" y1="331.9" x2="439.5" y2="331.9" stroke="#555" stroke-width="1.4"/>
<line x1="282.5" y1="199" x2="282.5" y2="332.6" stroke="#333" stroke-width="1"/>
<line x1="439.5" y1="199" x2="439.5" y2="332.6" stroke="#333" stroke-width="1"/>
<line x1="296.5" y1="331.9" x2="296.5" y2="334.4" stroke="#333" stroke-width="1"/>
<line x1="325.5" y1="331.9" x2="325.5" y2="334.4" stroke="#333" stroke-width="1"/>
<line x1="353.5" y1="331.9" x2="353.5" y2="334.4" stroke="#333" stroke-width="1"/>
<line x1="382.5" y1="331.9" x2="382.5" y2="334.4" stroke="#333" stroke-width="1"/>
<line x1="410.5" y1="331.9" x2="410.5" y2="334.4" stroke="#333" stroke-width="1"/>
<line x1="439.5" y1="331.9" x2="439.5" y2="334.4" stroke="#333" stroke-width="1"/>
<line x1="310.5" y1="331.9" x2="310.5" y2="333.4" stroke="#333" stroke-width="1"/>
<line x1="339.5" y1="331.9" x2="339.5" y2="333.4" stroke="#333" stroke-width="1"/>
<line x1="367.5" y1="331.9" x2="367.5" y2="333.4" stroke="#333" stroke-width="1"/>
<line x1="396.5" y1="331.9" x2="396.5" y2="333.4" stroke="#333" stroke-width="1"/>
<line x1="425.5" y1="331.9" x2="425.5" y2="333.4" stroke="#333" stroke-width="1"/>
<line x1="282.5" y1="203.5" x2="279.7" y2="203.5" stroke="#333" stroke-width="1"/>
<line x1="282.5" y1="246.5" x2="279.7" y2="246.5" stroke="#333" stroke-width="1"/>
<line x1="282.5" y1="289.5" x2="279.7" y2="289.5" stroke="#333" stroke-width="1"/>
<line x1="282.5" y1="332.5" x2="279.7" y2="332.5" stroke="#333" stroke-width="1"/>
<line x1="282.5" y1="225.5" x2="280.9" y2="225.5" stroke="#333" stroke-width="1"/>
<line x1="282.5" y1="267.5" x2="280.9" y2="267.5" stroke="#333" stroke-width="1"/>
<line x1="282.5" y1="310.5" x2="280.9" y2="310.5" stroke="#333" stroke-width="1"/>
<text x="296.58" y="344.18" font-size="10" text-anchor="middle">0.0</text>
<text x="325.15" y="344.18" font-size="10" text-anchor="middle">0.2</text>
<text x="353.71" y="344.18" font-size="10" text-anchor="middle">0.4</text>
<text x="382.27" y="344.18" font-size="10" text-anchor="middle">0.6</text>
<text x="410.84" y="344.18" font-size="10" text-anchor="middle">0.8</text>
<text x="439.4" y="344.18" font-size="10" text-anchor="middle">1.0</text>
<text x="277.9" y="205.68" font-size="10" text-anchor="end">0</text>
<text x="277.9" y="248.48" font-size="10" text-anchor="end" textLength="15.4" lengthAdjust="spacingAndGlyphs">-10</text>
<text x="277.9" y="291.28" font-size="10" text-anchor="end" textLength="15.4" lengthAdjust="spacingAndGlyphs">-20</text>
<text x="277.9" y="334.08" font-size="10" text-anchor="end" textLength="15.4" lengthAdjust="spacingAndGlyphs">-30</text>
<text x="304.5" y="217.3" font-size="9.5" textLength="40.4" lengthAdjust="spacingAndGlyphs">Strain (%)</text>
<line x1="304" y1="226.2" x2="327.4" y2="226.2" stroke="#fdb57a" stroke-width="1.4"/>
<rect x="314" y="224.5" width="3.4" height="3.4" fill="#fdb57a"/>
<text x="330.2" y="229.11" font-size="9.8">0</text>
<line x1="304" y1="239" x2="327.4" y2="239" stroke="#f26868" stroke-width="1.4"/>
<circle cx="315.7" cy="239" r="1.7" fill="#f26868"/>
<text x="330.2" y="241.91" font-size="9.8">10</text>
<line x1="304" y1="252" x2="327.4" y2="252" stroke="#d24a7e" stroke-width="1.4"/>
<polygon points="315.7,250.22 317.4,253.28 314,253.28" fill="#d24a7e"/>
<text x="330.2" y="254.91" font-size="9.8">20</text>
<line x1="304" y1="264.7" x2="327.4" y2="264.7" stroke="#7b2a9b" stroke-width="1.4"/>
<polygon points="315.7,266.49 317.4,263.43 314,263.43" fill="#7b2a9b"/>
<text x="330.2" y="267.61" font-size="9.8">30</text>
<line x1="304" y1="277.3" x2="327.4" y2="277.3" stroke="#3f1583" stroke-width="1.4"/>
<polygon points="315.7,275.26 317.4,277.3 315.7,279.34 314,277.3" fill="#3f1583"/>
<text x="330.2" y="280.21" font-size="9.8">40</text>
<text x="328.2" y="362.9" font-size="12" textLength="60.8" lengthAdjust="spacingAndGlyphs">Voltage (V)</text>
<g transform="translate(256.8,335.8) rotate(-90)">
<text x="0" y="0" font-size="12" textLength="129.52" lengthAdjust="spacingAndGlyphs">Current density (mA cm</text>
<text x="129.52" y="-5.3" font-size="8" textLength="7.35" lengthAdjust="spacingAndGlyphs">-2</text>
<text x="136.87" y="0" font-size="12" textLength="4.13" lengthAdjust="spacingAndGlyphs">)</text>
</g>
<text x="234.5" y="202.9" font-size="19" fill="#050505" style="stroke:none">e</text>
<line x1="521.5" y1="273.06" x2="681.5" y2="273.06" stroke="#b8b8b8" stroke-width="0.9" stroke-dasharray="2.5,2"/>
<line x1="569.57" y1="199" x2="569.57" y2="331.3" stroke="#9a9a9a" stroke-width="1.0" stroke-dasharray="4.5,2.2"/>
<line x1="532.77" y1="215.87" x2="681.24" y2="252.23" stroke="#808080" stroke-width="0.85" stroke-dasharray="4.5,2.2"/>
<circle cx="521.93" cy="306.59" r="1.55" fill="#7a7a7a"/>
<circle cx="526.39" cy="310.47" r="1.55" fill="#7a7a7a"/>
<circle cx="534.47" cy="329.71" r="1.55" fill="#7a7a7a"/>
<circle cx="547.02" cy="299.88" r="1.55" fill="#7a7a7a"/>
<circle cx="563.83" cy="318.95" r="1.55" fill="#7a7a7a"/>
<circle cx="568.29" cy="283.47" r="1.55" fill="#7a7a7a"/>
<circle cx="576.8" cy="308" r="1.55" fill="#7a7a7a"/>
<circle cx="578.08" cy="320.36" r="1.55" fill="#7a7a7a"/>
<circle cx="542.34" cy="271.64" r="1.55" fill="#7a7a7a"/>
<circle cx="544.9" cy="219.05" r="1.55" fill="#7a7a7a"/>
<circle cx="565.53" cy="255.76" r="1.55" fill="#7a7a7a"/>
<circle cx="567.87" cy="275.53" r="1.55" fill="#7a7a7a"/>
<circle cx="572.34" cy="276.76" r="1.55" fill="#7a7a7a"/>
<circle cx="574.04" cy="266" r="1.55" fill="#7a7a7a"/>
<circle cx="585.1" cy="239.7" r="1.55" fill="#7a7a7a"/>
<circle cx="591.69" cy="266" r="1.55" fill="#7a7a7a"/>
<circle cx="610.62" cy="257.7" r="1.55" fill="#7a7a7a"/>
<circle cx="674.64" cy="250.46" r="1.55" fill="#7a7a7a"/>
<polygon points="584.03,211.33 585.33,214.79 589.03,214.95 586.13,217.26 587.12,220.82 584.03,218.78 580.95,220.82 581.94,217.26 579.04,214.95 582.74,214.79" fill="#e46686"/>
<line x1="521.5" y1="199" x2="681.5" y2="199" stroke="#b5b5b5" stroke-width="1.7"/>
<line x1="521.5" y1="331.3" x2="681.5" y2="331.3" stroke="#999" stroke-width="1.2"/>
<line x1="521.5" y1="198.15" x2="521.5" y2="331.9" stroke="#666" stroke-width="1"/>
<line x1="681.5" y1="198.15" x2="681.5" y2="331.9" stroke="#888" stroke-width="1"/>
<line x1="521.5" y1="331.3" x2="521.5" y2="333.8" stroke="#8c8c8c" stroke-width="1"/>
<line x1="542.5" y1="331.3" x2="542.5" y2="333.8" stroke="#8c8c8c" stroke-width="1"/>
<line x1="564.5" y1="331.3" x2="564.5" y2="333.8" stroke="#8c8c8c" stroke-width="1"/>
<line x1="585.5" y1="331.3" x2="585.5" y2="333.8" stroke="#8c8c8c" stroke-width="1"/>
<line x1="606.5" y1="331.3" x2="606.5" y2="333.8" stroke="#8c8c8c" stroke-width="1"/>
<line x1="627.5" y1="331.3" x2="627.5" y2="333.8" stroke="#8c8c8c" stroke-width="1"/>
<line x1="649.5" y1="331.3" x2="649.5" y2="333.8" stroke="#8c8c8c" stroke-width="1"/>
<line x1="670.5" y1="331.3" x2="670.5" y2="333.8" stroke="#8c8c8c" stroke-width="1"/>
<line x1="532.5" y1="331.3" x2="532.5" y2="332.8" stroke="#8c8c8c" stroke-width="1"/>
<line x1="553.5" y1="331.3" x2="553.5" y2="332.8" stroke="#8c8c8c" stroke-width="1"/>
<line x1="574.5" y1="331.3" x2="574.5" y2="332.8" stroke="#8c8c8c" stroke-width="1"/>
<line x1="595.5" y1="331.3" x2="595.5" y2="332.8" stroke="#8c8c8c" stroke-width="1"/>
<line x1="617.5" y1="331.3" x2="617.5" y2="332.8" stroke="#8c8c8c" stroke-width="1"/>
<line x1="638.5" y1="331.3" x2="638.5" y2="332.8" stroke="#8c8c8c" stroke-width="1"/>
<line x1="659.5" y1="331.3" x2="659.5" y2="332.8" stroke="#8c8c8c" stroke-width="1"/>
<line x1="681.5" y1="331.3" x2="681.5" y2="332.8" stroke="#8c8c8c" stroke-width="1"/>
<line x1="521.5" y1="331.5" x2="518.7" y2="331.5" stroke="#8c8c8c" stroke-width="1"/>
<line x1="521.5" y1="296.5" x2="518.7" y2="296.5" stroke="#8c8c8c" stroke-width="1"/>
<line x1="521.5" y1="260.5" x2="518.7" y2="260.5" stroke="#8c8c8c" stroke-width="1"/>
<line x1="521.5" y1="225.5" x2="518.7" y2="225.5" stroke="#8c8c8c" stroke-width="1"/>
<line x1="521.5" y1="313.5" x2="519.9" y2="313.5" stroke="#8c8c8c" stroke-width="1"/>
<line x1="521.5" y1="278.5" x2="519.9" y2="278.5" stroke="#8c8c8c" stroke-width="1"/>
<line x1="521.5" y1="243.5" x2="519.9" y2="243.5" stroke="#8c8c8c" stroke-width="1"/>
<line x1="521.5" y1="207.5" x2="519.9" y2="207.5" stroke="#8c8c8c" stroke-width="1"/>
<text x="521.5" y="343.88" font-size="10" text-anchor="middle">10</text>
<text x="542.77" y="343.88" font-size="10" text-anchor="middle">20</text>
<text x="564.04" y="343.88" font-size="10" text-anchor="middle">30</text>
<text x="585.31" y="343.88" font-size="10" text-anchor="middle">40</text>
<text x="606.58" y="343.88" font-size="10" text-anchor="middle">50</text>
<text x="627.85" y="343.88" font-size="10" text-anchor="middle">60</text>
<text x="649.12" y="343.88" font-size="10" text-anchor="middle">70</text>
<text x="670.39" y="343.88" font-size="10" text-anchor="middle">80</text>
<text x="517.2" y="333.48" font-size="10" text-anchor="end">10</text>
<text x="517.2" y="298.18" font-size="10" text-anchor="end">12</text>
<text x="517.2" y="262.88" font-size="10" text-anchor="end">14</text>
<text x="517.2" y="227.58" font-size="10" text-anchor="end">16</text>
<text x="635.45" y="216.83" font-size="13.5" fill="#e46686" style="stroke:none" text-anchor="middle" textLength="56.9" lengthAdjust="spacingAndGlyphs">this work</text>
<text x="635.25" y="230.02" font-size="11.5" fill="#e46686" style="stroke:none" text-anchor="middle" textLength="78.7" lengthAdjust="spacingAndGlyphs">(39.4%, 16.5%)</text>
<g transform="translate(502.4,284.4) rotate(-90)">
<text x="0" y="0" font-size="12" textLength="40.4" lengthAdjust="spacingAndGlyphs">PCE (%)</text>
</g>
<g transform="translate(522.7,364)">
<text x="0" y="0" font-size="12" textLength="120.99" lengthAdjust="spacingAndGlyphs">Stretching strain at PCE</text>
<text x="120.99" y="2.6" font-size="8" textLength="15.13" lengthAdjust="spacingAndGlyphs">80%</text>
<text x="136.12" y="0" font-size="12" textLength="20.78" lengthAdjust="spacingAndGlyphs"> (%)</text>
</g>
<text x="479.8" y="202.3" font-size="19" fill="#050505" style="stroke:none">f</text>
<g clip-path="url(#c6)">
<path d="M54.3,399.35 L57.91,398.69 L61.52,397.96 L65.13,397.18 L68.75,396.37 L72.36,395.56 L75.97,394.78 L79.58,394.04 L83.19,393.39 L86.8,392.83 L90.41,392.4 L94.02,392.13 L97.64,392.03 L99.19,392.04 L100.75,392.08 L102.3,392.14 L103.86,392.22 L105.41,392.32 L106.97,392.45 L108.52,392.6 L110.08,392.77 L111.63,392.96 L113.19,393.18 L114.74,393.41 L116.3,393.67 L117.21,393.89 L118.12,394.23 L119.03,394.7 L119.94,395.27 L120.85,395.95 L121.76,396.71 L122.67,397.56 L123.58,398.48 L124.49,399.46 L125.4,400.5 L126.31,401.58 L127.22,402.7 L127.86,403.58 L128.51,404.59 L129.15,405.73 L129.8,406.98 L130.45,408.35 L131.09,409.83 L131.74,411.4 L132.38,413.06 L133.03,414.81 L133.67,416.64 L134.32,418.54 L134.96,420.5 L135.46,422.15 L135.97,424.01 L136.47,426.05 L136.97,428.24 L137.47,430.54 L137.97,432.93 L138.47,435.38 L138.97,437.86 L139.47,440.34 L139.97,442.79 L140.47,445.19 L140.97,447.49" stroke="#4a8fd6" stroke-width="1.1" fill="none" stroke-linejoin="round"/>
<path d="M54.3,397.71 L63.08,397.58 L71.86,397.43 L80.63,397.27 L89.41,397.1 L98.19,396.93 L106.97,396.77 L115.75,396.62 L124.52,396.48 L133.3,396.37 L142.08,396.28 L150.86,396.22 L159.64,396.2 L161.19,396.2 L162.75,396.2 L164.3,396.2 L165.86,396.2 L167.41,396.2 L168.97,396.2 L170.52,396.2 L172.08,396.2 L173.63,396.2 L175.19,396.2 L176.74,396.2 L178.3,396.2 L179.21,396.28 L180.12,396.49 L181.03,396.8 L181.94,397.2 L182.85,397.65 L183.76,398.12 L184.67,398.6 L185.58,399.05 L186.49,399.45 L187.4,399.76 L188.31,399.97 L189.22,400.05 L189.86,400.05 L190.51,400.05 L191.15,400.05 L191.8,400.05 L192.45,400.05 L193.09,400.05 L193.74,400.05 L194.38,400.05 L195.03,400.05 L195.67,400.05 L196.32,400.05 L196.96,400.05 L197.46,400.05 L197.97,400.05 L198.47,400.05 L198.97,400.05 L199.47,400.05 L199.97,400.05 L200.47,400.05 L200.97,400.05 L201.47,400.05 L201.97,400.05 L202.47,400.05 L202.97,400.05 L203.38,400.05 L203.79,400.05 L204.2,400.05 L204.61,400.05 L205.02,400.05 L205.43,400.05 L205.84,400.05 L206.25,400.05 L206.65,400.05 L207.06,400.05 L207.47,400.05 L207.88,400.05 L208.23,400.05 L208.57,400.08 L208.92,400.11 L209.27,400.15 L209.61,400.2 L209.96,400.25 L210.3,400.3 L210.65,400.35 L210.99,400.39 L211.34,400.42 L211.69,400.45 L212.03,400.45 L212.33,400.45 L212.63,400.43 L212.93,400.41 L213.23,400.38 L213.53,400.34 L213.83,400.3 L214.13,400.26 L214.43,400.21 L214.73,400.17 L215.03,400.12 L215.33,400.08 L215.63,400.05" stroke="#d93c60" stroke-width="1.1" fill="none" stroke-linejoin="round"/>
<path d="M54.3,480.14 L57.91,479.55 L61.52,478.93 L65.13,478.29 L68.75,477.63 L72.36,476.97 L75.97,476.33 L79.58,475.7 L83.19,475.11 L86.8,474.57 L90.41,474.08 L94.02,473.66 L97.64,473.31 L99.19,473.18 L100.75,473.05 L102.3,472.92 L103.86,472.79 L105.41,472.66 L106.97,472.55 L108.52,472.44 L110.08,472.35 L111.63,472.27 L113.19,472.22 L114.74,472.18 L116.3,472.17 L117.21,472.2 L118.12,472.3 L119.03,472.45 L119.94,472.64 L120.85,472.87 L121.76,473.12 L122.67,473.39 L123.58,473.67 L124.49,473.95 L125.4,474.22 L126.31,474.48 L127.22,474.7" stroke="#4a8fd6" stroke-width="1.1" fill="none" stroke-linejoin="round"/>
<path d="M127.22,474.7 L134.96,491.31 L140.97,505.5" stroke="#4a8fd6" stroke-width="1.1" fill="none" stroke-linejoin="round"/>
<path d="M54.3,475.24 L63.08,474.9 L71.86,474.61 L80.63,474.36 L89.41,474.14 L98.19,473.91 L106.97,473.66 L115.75,473.38 L124.52,473.04 L133.3,472.62 L142.08,472.11 L150.86,471.49 L159.64,470.74 L161.19,470.48 L162.75,470.02 L164.3,469.4 L165.86,468.67 L167.41,467.87 L168.97,467.04 L170.52,466.22 L172.08,465.46 L173.63,464.79 L175.19,464.26 L176.74,463.91 L178.3,463.78 L179.21,463.83 L180.12,463.95 L181.03,464.13 L181.94,464.37 L182.85,464.65 L183.76,464.95 L184.67,465.27 L185.58,465.59 L186.49,465.9 L187.4,466.19 L188.31,466.44 L189.22,466.65 L189.86,466.78 L190.51,466.91 L191.15,467.05 L191.8,467.19 L192.45,467.32 L193.09,467.45 L193.74,467.57 L194.38,467.67 L195.03,467.75 L195.67,467.82 L196.32,467.86 L196.96,467.87 L197.46,467.87 L197.97,467.86 L198.47,467.85 L198.97,467.82 L199.47,467.8 L199.97,467.76 L200.47,467.73 L200.97,467.68 L201.47,467.63 L201.97,467.58 L202.47,467.53 L202.97,467.47 L203.38,467.38 L203.79,467.23 L204.2,467.04 L204.61,466.8 L205.02,466.53 L205.43,466.24 L205.84,465.94 L206.25,465.64 L206.65,465.34 L207.06,465.07 L207.47,464.82 L207.88,464.6 L208.23,464.45 L208.57,464.31 L208.92,464.19 L209.27,464.07 L209.61,463.96 L209.96,463.85 L210.3,463.73 L210.65,463.61 L210.99,463.48 L211.34,463.33 L211.69,463.16 L212.03,462.97 L212.33,462.76 L212.63,462.51 L212.93,462.22 L213.23,461.89 L213.53,461.54 L213.83,461.17 L214.13,460.78 L214.43,460.38 L214.73,459.99 L215.03,459.6 L215.33,459.23 L215.63,458.88" stroke="#e2557a" stroke-width="1.1" fill="none" stroke-linejoin="round"/>
<polygon points="54.3,397.25 56.3,400.85 52.3,400.85" fill="#4a8fd6"/>
<polygon points="97.64,389.93 99.64,393.53 95.64,393.53" fill="#4a8fd6"/>
<polygon points="116.3,391.57 118.3,395.17 114.3,395.17" fill="#4a8fd6"/>
<polygon points="127.22,400.6 129.22,404.2 125.22,404.2" fill="#4a8fd6"/>
<polygon points="134.96,418.4 136.96,422 132.96,422" fill="#4a8fd6"/>
<polygon points="140.97,445.39 142.97,448.99 138.97,448.99" fill="#4a8fd6"/>
<polygon points="54.3,395.3 56.6,399.44 52,399.44" fill="#d93c60"/>
<polygon points="159.64,393.79 161.94,397.93 157.34,397.93" fill="#d93c60"/>
<polygon points="178.3,393.79 180.6,397.93 176,397.93" fill="#d93c60"/>
<polygon points="189.22,397.63 191.52,401.77 186.92,401.77" fill="#d93c60"/>
<polygon points="196.96,397.63 199.26,401.77 194.66,401.77" fill="#d93c60"/>
<polygon points="202.97,397.63 205.27,401.77 200.67,401.77" fill="#d93c60"/>
<polygon points="207.88,397.63 210.18,401.77 205.58,401.77" fill="#d93c60"/>
<polygon points="212.03,398.04 214.33,402.18 209.73,402.18" fill="#d93c60"/>
<polygon points="215.63,397.63 217.93,401.77 213.33,401.77" fill="#d93c60"/>
<circle cx="54.3" cy="480.14" r="1.8" fill="#4a8fd6"/>
<circle cx="97.64" cy="473.31" r="1.8" fill="#4a8fd6"/>
<circle cx="116.3" cy="472.17" r="1.8" fill="#4a8fd6"/>
<circle cx="127.22" cy="474.7" r="1.8" fill="#4a8fd6"/>
<circle cx="134.96" cy="491.31" r="1.8" fill="#4a8fd6"/>
<circle cx="140.97" cy="505.5" r="1.8" fill="#4a8fd6"/>
<circle cx="54.3" cy="475.24" r="1.8" fill="#e2557a"/>
<circle cx="159.64" cy="470.74" r="1.8" fill="#e2557a"/>
<circle cx="178.3" cy="463.78" r="1.8" fill="#e2557a"/>
<circle cx="189.22" cy="466.65" r="1.8" fill="#e2557a"/>
<circle cx="196.96" cy="467.87" r="1.8" fill="#e2557a"/>
<circle cx="202.97" cy="467.47" r="1.8" fill="#e2557a"/>
<circle cx="207.88" cy="464.6" r="1.8" fill="#e2557a"/>
<circle cx="212.03" cy="462.97" r="1.8" fill="#e2557a"/>
<circle cx="215.63" cy="458.88" r="1.8" fill="#e2557a"/>
</g>
<line x1="54.5" y1="382.5" x2="218.5" y2="382.5" stroke="#999" stroke-width="1"/>
<line x1="54.5" y1="514.5" x2="218.5" y2="514.5" stroke="#555" stroke-width="1"/>
<line x1="54.5" y1="382.5" x2="54.5" y2="451.1" stroke="#777" stroke-width="1"/>
<line x1="54.5" y1="454.3" x2="54.5" y2="514.5" stroke="#777" stroke-width="1"/>
<line x1="218.5" y1="382.5" x2="218.5" y2="451.1" stroke="#999" stroke-width="1"/>
<line x1="218.5" y1="454.3" x2="218.5" y2="514.5" stroke="#999" stroke-width="1"/>
<line x1="51.9" y1="452.3" x2="57.1" y2="450.1" stroke="#222" stroke-width="0.9"/>
<line x1="51.9" y1="455.1" x2="57.1" y2="452.9" stroke="#222" stroke-width="0.9"/>
<line x1="215.9" y1="452.3" x2="221.1" y2="450.1" stroke="#222" stroke-width="0.9"/>
<line x1="215.9" y1="455.1" x2="221.1" y2="452.9" stroke="#222" stroke-width="0.9"/>
<line x1="54.5" y1="514.5" x2="54.5" y2="517" stroke="#555" stroke-width="1"/>
<line x1="116.5" y1="514.5" x2="116.5" y2="517" stroke="#555" stroke-width="1"/>
<line x1="178.5" y1="514.5" x2="178.5" y2="517" stroke="#555" stroke-width="1"/>
<line x1="72.5" y1="514.5" x2="72.5" y2="516" stroke="#555" stroke-width="1"/>
<line x1="83.5" y1="514.5" x2="83.5" y2="516" stroke="#555" stroke-width="1"/>
<line x1="91.5" y1="514.5" x2="91.5" y2="516" stroke="#555" stroke-width="1"/>
<line x1="97.5" y1="514.5" x2="97.5" y2="516" stroke="#555" stroke-width="1"/>
<line x1="102.5" y1="514.5" x2="102.5" y2="516" stroke="#555" stroke-width="1"/>
<line x1="106.5" y1="514.5" x2="106.5" y2="516" stroke="#555" stroke-width="1"/>
<line x1="110.5" y1="514.5" x2="110.5" y2="516" stroke="#555" stroke-width="1"/>
<line x1="113.5" y1="514.5" x2="113.5" y2="516" stroke="#555" stroke-width="1"/>
<line x1="134.5" y1="514.5" x2="134.5" y2="516" stroke="#555" stroke-width="1"/>
<line x1="145.5" y1="514.5" x2="145.5" y2="516" stroke="#555" stroke-width="1"/>
<line x1="153.5" y1="514.5" x2="153.5" y2="516" stroke="#555" stroke-width="1"/>
<line x1="159.5" y1="514.5" x2="159.5" y2="516" stroke="#555" stroke-width="1"/>
<line x1="164.5" y1="514.5" x2="164.5" y2="516" stroke="#555" stroke-width="1"/>
<line x1="168.5" y1="514.5" x2="168.5" y2="516" stroke="#555" stroke-width="1"/>
<line x1="172.5" y1="514.5" x2="172.5" y2="516" stroke="#555" stroke-width="1"/>
<line x1="175.5" y1="514.5" x2="175.5" y2="516" stroke="#555" stroke-width="1"/>
<line x1="196.5" y1="514.5" x2="196.5" y2="516" stroke="#555" stroke-width="1"/>
<line x1="207.5" y1="514.5" x2="207.5" y2="516" stroke="#555" stroke-width="1"/>
<line x1="215.5" y1="514.5" x2="215.5" y2="516" stroke="#555" stroke-width="1"/>
<line x1="54.5" y1="402.5" x2="51.7" y2="402.5" stroke="#555" stroke-width="1"/>
<line x1="54.5" y1="443.5" x2="51.7" y2="443.5" stroke="#555" stroke-width="1"/>
<line x1="54.5" y1="382.5" x2="52.9" y2="382.5" stroke="#555" stroke-width="1"/>
<line x1="54.5" y1="422.5" x2="52.9" y2="422.5" stroke="#555" stroke-width="1"/>
<line x1="54.5" y1="514.5" x2="51.7" y2="514.5" stroke="#555" stroke-width="1"/>
<line x1="54.5" y1="473.5" x2="51.7" y2="473.5" stroke="#555" stroke-width="1"/>
<line x1="54.5" y1="494.5" x2="52.9" y2="494.5" stroke="#555" stroke-width="1"/>
<text x="54.3" y="526.38" font-size="10" text-anchor="middle">0.1</text>
<text x="116.3" y="526.38" font-size="10" text-anchor="middle">1</text>
<text x="178.3" y="526.38" font-size="10" text-anchor="middle">10</text>
<text x="49.6" y="404.58" font-size="10" text-anchor="end">1.4</text>
<text x="49.6" y="445.48" font-size="10" text-anchor="end">1.3</text>
<text x="49.6" y="475.78" font-size="10" text-anchor="end">1.1</text>
<text x="49.6" y="516.68" font-size="10" text-anchor="end">1.0</text>
<line x1="55.8" y1="427.6" x2="78.6" y2="427.6" stroke="#4a8fd6" stroke-width="1.1"/>
<circle cx="67.2" cy="427.6" r="1.9" fill="#4a8fd6"/>
<text x="81.2" y="431.25" font-size="10.2" textLength="53.1" lengthAdjust="spacingAndGlyphs">PzA5:L8BO D</text>
<line x1="55.8" y1="440" x2="78.6" y2="440" stroke="#a8cbee" stroke-width="2.2"/>
<polygon points="67.2,438 69.1,441.43 65.3,441.43" fill="#4a8fd6"/>
<text x="81.2" y="443.65" font-size="10.2" textLength="53.1" lengthAdjust="spacingAndGlyphs">PzA5:L8BO A</text>
<line x1="55.8" y1="452.4" x2="78.6" y2="452.4" stroke="#e88aa0" stroke-width="1.6"/>
<circle cx="67.2" cy="452.4" r="1.9" fill="#d93c60"/>
<text x="81.2" y="456.05" font-size="10.2" textLength="52.1" lengthAdjust="spacingAndGlyphs">UVC+ASH D</text>
<line x1="55.8" y1="464.8" x2="78.6" y2="464.8" stroke="#e88aa0" stroke-width="1.6"/>
<polygon points="67.2,462.81 69.1,466.23 65.3,466.23" fill="#d93c60"/>
<text x="81.2" y="468.45" font-size="10.2" textLength="51.4" lengthAdjust="spacingAndGlyphs">UVC+ASH A</text>
<text x="110.9" y="547.4" font-size="11.5" textLength="51.1" lengthAdjust="spacingAndGlyphs">Strain (%)</text>
<g transform="translate(32.3,495.2) rotate(-90)">
<text x="0" y="0" font-size="12" textLength="96" lengthAdjust="spacingAndGlyphs">0-0/0-1 peak ratio</text>
</g>
<text x="0" y="390.5" font-size="19" fill="#050505" style="stroke:none">g</text>
<g clip-path="url(#c7)">
<path d="M281.9,511.5 L282.54,510.78 L283.18,510.04 L283.83,509.3 L284.47,508.55 L285.11,507.8 L285.75,507.05 L286.39,506.3 L287.04,505.55 L287.68,504.81 L288.32,504.08 L288.96,503.36 L289.6,502.66 L290.25,501.97 L290.89,501.3 L291.53,500.65 L292.17,500.03 L292.81,499.42 L293.46,498.82 L294.1,498.22 L294.74,497.63 L295.38,497.05 L296.02,496.47 L296.67,495.91 L297.31,495.35 L297.95,494.8 L298.59,494.26 L299.23,493.74 L299.88,493.23 L300.52,492.73 L301.16,492.24 L301.8,491.77 L302.44,491.31 L303.09,490.87 L303.73,490.45 L304.37,490.04 L305.01,489.65 L305.65,489.27 L306.3,488.9 L306.94,488.54 L307.58,488.2 L308.22,487.86 L308.86,487.53 L309.51,487.21 L310.15,486.89 L310.79,486.58 L311.43,486.28 L312.07,485.98 L312.72,485.69 L313.36,485.4 L314,485.11 L314.64,484.83 L315.28,484.54 L315.93,484.26 L316.57,483.98 L317.21,483.7 L317.85,483.42 L318.49,483.15 L319.14,482.88 L319.78,482.61 L320.42,482.35 L321.06,482.09 L321.7,481.83 L322.35,481.57 L322.99,481.32 L323.63,481.07 L324.27,480.83 L324.91,480.59 L325.56,480.35 L326.2,480.11 L326.84,479.88 L327.48,479.65 L328.12,479.42 L328.77,479.2 L329.41,478.98 L330.05,478.77 L330.69,478.55 L331.33,478.35 L331.98,478.14 L332.62,477.94 L333.26,477.74 L333.9,477.55 L334.54,477.35 L335.19,477.16 L335.83,476.96 L336.47,476.77 L337.11,476.58 L337.75,476.39 L338.4,476.19 L339.04,476 L339.68,475.81 L340.32,475.61 L340.96,475.41 L341.61,475.21 L342.25,475.02 L342.89,474.82 L343.53,474.62 L344.17,474.42 L344.82,474.23 L345.46,474.03 L346.1,473.83 L346.74,473.64 L347.38,473.44 L348.03,473.25 L348.67,473.05 L349.31,472.86 L349.95,472.67 L350.59,472.48 L351.24,472.29 L351.88,472.1 L352.52,471.91 L353.16,471.72 L353.8,471.54 L354.45,471.35 L355.09,471.16 L355.73,470.98 L356.37,470.79 L357.01,470.61 L357.66,470.43 L358.3,470.24 L358.94,470.06 L359.58,469.88 L360.22,469.7 L360.87,469.53 L361.51,469.35 L362.15,469.18 L362.79,469 L363.43,468.83 L364.08,468.66 L364.72,468.5 L365.36,468.32 L366,468.15 L366.64,467.97 L367.29,467.78 L367.93,467.6 L368.57,467.42 L369.21,467.23 L369.85,467.05 L370.5,466.88 L371.14,466.71 L371.78,466.54 L372.42,466.38 L373.06,466.24 L373.71,466.1 L374.35,465.97 L374.99,465.85 L375.63,465.75 L376.27,465.66 L376.92,465.58 L377.56,465.51 L378.2,465.44 L378.84,465.37 L379.48,465.3 L380.13,465.23 L380.77,465.17 L381.41,465.11 L382.05,465.06 L382.69,465.01 L383.34,464.97 L383.98,464.94 L384.62,464.91 L385.26,464.89 L385.9,464.88 L386.55,464.89 L387.19,464.94 L387.83,465.03 L388.47,465.17 L389.11,465.34 L389.76,465.55 L390.4,465.79 L391.04,466.06 L391.68,466.35 L392.32,466.67 L392.97,467 L393.61,467.34 L394.25,467.69 L394.89,468.04 L395.53,468.4 L396.18,468.77 L396.82,469.21 L397.46,469.72 L398.1,470.3 L398.74,470.93 L399.39,471.61 L400.03,472.31 L400.67,473.04 L401.31,473.78 L401.95,474.53 L402.6,475.26 L403.24,475.98 L403.88,476.67 L404.52,477.32 L405.16,477.92 L405.81,478.47 L406.45,479.02 L407.09,479.57 L407.73,480.13 L408.37,480.67 L409.02,481.21 L409.66,481.74 L410.3,482.26 L410.94,482.75 L411.58,483.22 L412.23,483.67 L412.87,484.08 L413.51,484.46 L414.15,484.8 L414.79,485.1 L415.44,485.36 L416.08,485.6 L416.72,485.84 L417.36,486.08 L418,486.3 L418.65,486.52 L419.29,486.72 L419.93,486.91 L420.57,487.09 L421.21,487.25 L421.86,487.4 L422.5,487.52 L423.14,487.63 L423.78,487.72 L424.42,487.79 L425.07,487.84 L425.71,487.89 L426.35,487.93 L426.99,487.97 L427.63,488 L428.28,488.04 L428.92,488.07 L429.56,488.1 L430.2,488.13 L430.84,488.15 L431.49,488.18 L432.13,488.2 L432.77,488.22 L433.41,488.24 L434.05,488.26 L434.7,488.28 L435.34,488.3 L435.98,488.32 L436.62,488.34 L437.26,488.35 L437.91,488.37 L438.55,488.39 L439.19,488.41 L439.83,488.42 L440.47,488.44 L441.12,488.46 L441.76,488.48 L442.4,488.5 L443.04,488.52 L443.68,488.55" stroke="#b9d5ef" stroke-width="1.0" fill="none" stroke-linejoin="round"/>
<path d="M281.9,511.5 L282.54,510.99 L283.18,510.49 L283.83,509.99 L284.47,509.49 L285.11,508.99 L285.75,508.5 L286.39,508 L287.04,507.5 L287.68,507 L288.32,506.5 L288.96,505.99 L289.6,505.49 L290.25,504.98 L290.89,504.46 L291.53,503.94 L292.17,503.42 L292.81,502.89 L293.46,502.35 L294.1,501.82 L294.74,501.28 L295.38,500.75 L296.02,500.21 L296.67,499.67 L297.31,499.13 L297.95,498.58 L298.59,498.03 L299.23,497.47 L299.88,496.9 L300.52,496.33 L301.16,495.74 L301.8,495.15 L302.44,494.54 L303.09,493.92 L303.73,493.28 L304.37,492.63 L305.01,491.96 L305.65,491.27 L306.3,490.57 L306.94,489.85 L307.58,489.11 L308.22,488.35 L308.86,487.59 L309.51,486.81 L310.15,486.02 L310.79,485.22 L311.43,484.41 L312.07,483.6 L312.72,482.78 L313.36,481.95 L314,481.12 L314.64,480.29 L315.28,479.45 L315.93,478.62 L316.57,477.78 L317.21,476.93 L317.85,476.06 L318.49,475.18 L319.14,474.28 L319.78,473.38 L320.42,472.46 L321.06,471.54 L321.7,470.62 L322.35,469.69 L322.99,468.76 L323.63,467.84 L324.27,466.92 L324.91,466 L325.56,465.1 L326.2,464.2 L326.84,463.32 L327.48,462.45 L328.12,461.6 L328.77,460.76 L329.41,459.92 L330.05,459.07 L330.69,458.21 L331.33,457.36 L331.98,456.5 L332.62,455.65 L333.26,454.81 L333.9,453.97 L334.54,453.15 L335.19,452.34 L335.83,451.55 L336.47,450.78 L337.11,450.04 L337.75,449.32 L338.4,448.63 L339.04,447.97 L339.68,447.34 L340.32,446.75 L340.96,446.18 L341.61,445.61 L342.25,445.04 L342.89,444.48 L343.53,443.93 L344.17,443.39 L344.82,442.85 L345.46,442.34 L346.1,441.83 L346.74,441.35 L347.38,440.89 L348.03,440.45 L348.67,440.04 L349.31,439.66 L349.95,439.31 L350.59,438.98 L351.24,438.7 L351.88,438.45 L352.52,438.24 L353.16,438.05 L353.8,437.87 L354.45,437.68 L355.09,437.51 L355.73,437.34 L356.37,437.18 L357.01,437.03 L357.66,436.89 L358.3,436.77 L358.94,436.66 L359.58,436.57 L360.22,436.49 L360.87,436.44 L361.51,436.4 L362.15,436.39 L362.79,436.4 L363.43,436.42 L364.08,436.46 L364.72,436.52 L365.36,436.58 L366,436.66 L366.64,436.76 L367.29,436.86 L367.93,436.98 L368.57,437.11 L369.21,437.25 L369.85,437.4 L370.5,437.55 L371.14,437.72 L371.78,437.89 L372.42,438.07 L373.06,438.25 L373.71,438.44 L374.35,438.64 L374.99,438.84 L375.63,439.04 L376.27,439.25 L376.92,439.46 L377.56,439.72 L378.2,440.02 L378.84,440.36 L379.48,440.73 L380.13,441.14 L380.77,441.58 L381.41,442.05 L382.05,442.54 L382.69,443.04 L383.34,443.57 L383.98,444.1 L384.62,444.64 L385.26,445.19 L385.9,445.73 L386.55,446.28 L387.19,446.82 L387.83,447.35 L388.47,447.86 L389.11,448.38 L389.76,448.91 L390.4,449.45 L391.04,450.01 L391.68,450.58 L392.32,451.16 L392.97,451.75 L393.61,452.34 L394.25,452.93 L394.89,453.52 L395.53,454.11 L396.18,454.7 L396.82,455.29 L397.46,455.87 L398.1,456.44 L398.74,457 L399.39,457.54 L400.03,458.07 L400.67,458.59 L401.31,459.1 L401.95,459.62 L402.6,460.14 L403.24,460.67 L403.88,461.2 L404.52,461.72 L405.16,462.24 L405.81,462.76 L406.45,463.26 L407.09,463.75 L407.73,464.23 L408.37,464.69 L409.02,465.13 L409.66,465.55 L410.3,465.94 L410.94,466.31 L411.58,466.65 L412.23,466.96 L412.87,467.24 L413.51,467.51 L414.15,467.77 L414.79,468.03 L415.44,468.29 L416.08,468.54 L416.72,468.78 L417.36,469.01 L418,469.23 L418.65,469.45 L419.29,469.65 L419.93,469.84 L420.57,470.01 L421.21,470.18 L421.86,470.33 L422.5,470.46 L423.14,470.58 L423.78,470.68 L424.42,470.76 L425.07,470.83 L425.71,470.89 L426.35,470.95 L426.99,471.01 L427.63,471.06 L428.28,471.11 L428.92,471.15 L429.56,471.2 L430.2,471.24 L430.84,471.28 L431.49,471.32 L432.13,471.35 L432.77,471.38 L433.41,471.42 L434.05,471.45 L434.7,471.48 L435.34,471.51 L435.98,471.53 L436.62,471.56 L437.26,471.59 L437.91,471.62 L438.55,471.64 L439.19,471.67 L439.83,471.7 L440.47,471.73 L441.12,471.76 L441.76,471.79 L442.4,471.82 L443.04,471.86 L443.68,471.89" stroke="#5f9edc" stroke-width="1.0" fill="none" stroke-linejoin="round"/>
<path d="M281.9,511.5 L282.54,510.01 L283.18,508.52 L283.83,507.01 L284.47,505.5 L285.11,503.98 L285.75,502.46 L286.39,500.93 L287.04,499.41 L287.68,497.88 L288.32,496.35 L288.96,494.82 L289.6,493.3 L290.25,491.79 L290.89,490.28 L291.53,488.77 L292.17,487.28 L292.81,485.8 L293.46,484.33 L294.1,482.87 L294.74,481.43 L295.38,480.01 L296.02,478.6 L296.67,477.21 L297.31,475.85 L297.95,474.5 L298.59,473.17 L299.23,471.84 L299.88,470.52 L300.52,469.2 L301.16,467.89 L301.8,466.58 L302.44,465.29 L303.09,464 L303.73,462.72 L304.37,461.45 L305.01,460.19 L305.65,458.95 L306.3,457.71 L306.94,456.49 L307.58,455.28 L308.22,454.09 L308.86,452.92 L309.51,451.76 L310.15,450.61 L310.79,449.49 L311.43,448.38 L312.07,447.3 L312.72,446.23 L313.36,445.18 L314,444.16 L314.64,443.16 L315.28,442.18 L315.93,441.22 L316.57,440.28 L317.21,439.35 L317.85,438.44 L318.49,437.55 L319.14,436.67 L319.78,435.81 L320.42,434.96 L321.06,434.12 L321.7,433.29 L322.35,432.46 L322.99,431.65 L323.63,430.84 L324.27,430.02 L324.91,429.19 L325.56,428.35 L326.2,427.51 L326.84,426.68 L327.48,425.86 L328.12,425.06 L328.77,424.3 L329.41,423.57 L330.05,422.89 L330.69,422.27 L331.33,421.71 L331.98,421.22 L332.62,420.77 L333.26,420.31 L333.9,419.86 L334.54,419.42 L335.19,418.98 L335.83,418.54 L336.47,418.12 L337.11,417.71 L337.75,417.32 L338.4,416.94 L339.04,416.59 L339.68,416.25 L340.32,415.94 L340.96,415.66 L341.61,415.4 L342.25,415.17 L342.89,414.98 L343.53,414.82 L344.17,414.69 L344.82,414.61 L345.46,414.57 L346.1,414.57 L346.74,414.64 L347.38,414.78 L348.03,414.99 L348.67,415.25 L349.31,415.58 L349.95,415.95 L350.59,416.37 L351.24,416.83 L351.88,417.32 L352.52,417.85 L353.16,418.41 L353.8,419 L354.45,419.6 L355.09,420.22 L355.73,420.85 L356.37,421.58 L357.01,422.5 L357.66,423.57 L358.3,424.79 L358.94,426.12 L359.58,427.54 L360.22,429.03 L360.87,430.57 L361.51,432.14 L362.15,433.71 L362.79,435.26 L363.43,436.77 L364.08,438.24 L364.72,439.77 L365.36,441.38 L366,443.04 L366.64,444.72 L367.29,446.42 L367.93,448.1 L368.57,449.75 L369.21,451.35 L369.85,452.88 L370.5,454.31 L371.14,455.63 L371.78,456.88 L372.42,458.1 L373.06,459.31 L373.71,460.48 L374.35,461.62 L374.99,462.72 L375.63,463.77 L376.27,464.78 L376.92,465.74 L377.56,466.63 L378.2,467.46 L378.84,468.23 L379.48,468.92 L380.13,469.59 L380.77,470.25 L381.41,470.88 L382.05,471.49 L382.69,472.08 L383.34,472.64 L383.98,473.17 L384.62,473.67 L385.26,474.14 L385.9,474.58 L386.55,474.99 L387.19,475.36 L387.83,475.69 L388.47,475.98 L389.11,476.25 L389.76,476.5 L390.4,476.74 L391.04,476.97 L391.68,477.2 L392.32,477.41 L392.97,477.61 L393.61,477.8 L394.25,477.98 L394.89,478.16 L395.53,478.32 L396.18,478.48 L396.82,478.63 L397.46,478.77 L398.1,478.9 L398.74,479.03 L399.39,479.14 L400.03,479.26 L400.67,479.36 L401.31,479.47 L401.95,479.57 L402.6,479.66 L403.24,479.76 L403.88,479.85 L404.52,479.94 L405.16,480.03 L405.81,480.11 L406.45,480.2 L407.09,480.28 L407.73,480.35 L408.37,480.43 L409.02,480.5 L409.66,480.57 L410.3,480.63 L410.94,480.7 L411.58,480.76 L412.23,480.82 L412.87,480.87 L413.51,480.93 L414.15,480.98 L414.79,481.03 L415.44,481.08 L416.08,481.12 L416.72,481.16 L417.36,481.2 L418,481.24 L418.65,481.27 L419.29,481.31 L419.93,481.34 L420.57,481.38 L421.21,481.41 L421.86,481.44 L422.5,481.47 L423.14,481.5 L423.78,481.53 L424.42,481.56 L425.07,481.59 L425.71,481.61 L426.35,481.64 L426.99,481.66 L427.63,481.69 L428.28,481.71 L428.92,481.74 L429.56,481.76 L430.2,481.78 L430.84,481.81 L431.49,481.83 L432.13,481.85 L432.77,481.87 L433.41,481.89 L434.05,481.91 L434.7,481.94 L435.34,481.96 L435.98,481.98 L436.62,482 L437.26,482.02 L437.91,482.04 L438.55,482.07 L439.19,482.09 L439.83,482.11 L440.47,482.13 L441.12,482.16 L441.76,482.18 L442.4,482.21 L443.04,482.23 L443.68,482.26" stroke="#f294a8" stroke-width="1.0" fill="none" stroke-linejoin="round"/>
<path d="M281.9,511.5 L282.54,509.47 L283.18,507.42 L283.83,505.35 L284.47,503.27 L285.11,501.18 L285.75,499.09 L286.39,497 L287.04,494.92 L287.68,492.85 L288.32,490.8 L288.96,488.77 L289.6,486.76 L290.25,484.79 L290.89,482.85 L291.53,480.96 L292.17,479.11 L292.81,477.3 L293.46,475.51 L294.1,473.72 L294.74,471.95 L295.38,470.19 L296.02,468.45 L296.67,466.72 L297.31,465.01 L297.95,463.33 L298.59,461.66 L299.23,460.03 L299.88,458.42 L300.52,456.84 L301.16,455.3 L301.8,453.79 L302.44,452.32 L303.09,450.89 L303.73,449.49 L304.37,448.15 L305.01,446.84 L305.65,445.56 L306.3,444.3 L306.94,443.06 L307.58,441.85 L308.22,440.65 L308.86,439.48 L309.51,438.33 L310.15,437.2 L310.79,436.1 L311.43,435.02 L312.07,433.96 L312.72,432.92 L313.36,431.91 L314,430.92 L314.64,429.96 L315.28,429.02 L315.93,428.1 L316.57,427.21 L317.21,426.34 L317.85,425.47 L318.49,424.62 L319.14,423.77 L319.78,422.93 L320.42,422.1 L321.06,421.29 L321.7,420.49 L322.35,419.71 L322.99,418.95 L323.63,418.21 L324.27,417.5 L324.91,416.81 L325.56,416.14 L326.2,415.51 L326.84,414.91 L327.48,414.34 L328.12,413.81 L328.77,413.31 L329.41,412.85 L330.05,412.39 L330.69,411.92 L331.33,411.45 L331.98,410.99 L332.62,410.53 L333.26,410.07 L333.9,409.63 L334.54,409.21 L335.19,408.8 L335.83,408.42 L336.47,408.06 L337.11,407.72 L337.75,407.42 L338.4,407.15 L339.04,406.92 L339.68,406.73 L340.32,406.58 L340.96,406.48 L341.61,406.43 L342.25,406.43 L342.89,406.47 L343.53,406.55 L344.17,406.67 L344.82,406.83 L345.46,407.01 L346.1,407.24 L346.74,407.49 L347.38,407.77 L348.03,408.07 L348.67,408.4 L349.31,408.74 L349.95,409.11 L350.59,409.5 L351.24,409.9 L351.88,410.31 L352.52,410.73 L353.16,411.16 L353.8,411.6 L354.45,412.1 L355.09,412.7 L355.73,413.41 L356.37,414.2 L357.01,415.07 L357.66,416 L358.3,416.99 L358.94,418.02 L359.58,419.09 L360.22,420.17 L360.87,421.28 L361.51,422.38 L362.15,423.47 L362.79,424.55 L363.43,425.65 L364.08,426.81 L364.72,428.02 L365.36,429.28 L366,430.57 L366.64,431.88 L367.29,433.21 L367.93,434.54 L368.57,435.87 L369.21,437.19 L369.85,438.48 L370.5,439.74 L371.14,440.96 L371.78,442.12 L372.42,443.23 L373.06,444.34 L373.71,445.44 L374.35,446.54 L374.99,447.63 L375.63,448.71 L376.27,449.78 L376.92,450.83 L377.56,451.86 L378.2,452.87 L378.84,453.85 L379.48,454.8 L380.13,455.71 L380.77,456.59 L381.41,457.43 L382.05,458.22 L382.69,458.97 L383.34,459.68 L383.98,460.35 L384.62,461.01 L385.26,461.65 L385.9,462.26 L386.55,462.86 L387.19,463.43 L387.83,463.99 L388.47,464.54 L389.11,465.06 L389.76,465.58 L390.4,466.07 L391.04,466.56 L391.68,467.03 L392.32,467.48 L392.97,467.93 L393.61,468.37 L394.25,468.79 L394.89,469.21 L395.53,469.61 L396.18,470 L396.82,470.38 L397.46,470.75 L398.1,471.11 L398.74,471.46 L399.39,471.8 L400.03,472.12 L400.67,472.43 L401.31,472.73 L401.95,473.02 L402.6,473.3 L403.24,473.58 L403.88,473.87 L404.52,474.15 L405.16,474.42 L405.81,474.7 L406.45,474.97 L407.09,475.24 L407.73,475.5 L408.37,475.76 L409.02,476.01 L409.66,476.25 L410.3,476.48 L410.94,476.71 L411.58,476.92 L412.23,477.13 L412.87,477.32 L413.51,477.5 L414.15,477.67 L414.79,477.82 L415.44,477.96 L416.08,478.09 L416.72,478.2 L417.36,478.3 L418,478.4 L418.65,478.49 L419.29,478.58 L419.93,478.66 L420.57,478.75 L421.21,478.83 L421.86,478.9 L422.5,478.98 L423.14,479.05 L423.78,479.12 L424.42,479.18 L425.07,479.25 L425.71,479.31 L426.35,479.37 L426.99,479.43 L427.63,479.49 L428.28,479.54 L428.92,479.59 L429.56,479.65 L430.2,479.7 L430.84,479.75 L431.49,479.8 L432.13,479.85 L432.77,479.9 L433.41,479.94 L434.05,479.99 L434.7,480.04 L435.34,480.09 L435.98,480.13 L436.62,480.18 L437.26,480.23 L437.91,480.28 L438.55,480.33 L439.19,480.38 L439.83,480.43 L440.47,480.48 L441.12,480.53 L441.76,480.59 L442.4,480.64 L443.04,480.7 L443.68,480.76" stroke="#3f86d0" stroke-width="1.0" fill="none" stroke-linejoin="round"/>
<path d="M281.9,511.5 L282.54,509.33 L283.18,507.14 L283.83,504.93 L284.47,502.7 L285.11,500.47 L285.75,498.23 L286.39,496 L287.04,493.78 L287.68,491.56 L288.32,489.37 L288.96,487.21 L289.6,485.07 L290.25,482.97 L290.89,480.91 L291.53,478.9 L292.17,476.94 L292.81,475.03 L293.46,473.14 L294.1,471.27 L294.74,469.41 L295.38,467.57 L296.02,465.75 L296.67,463.95 L297.31,462.17 L297.95,460.42 L298.59,458.69 L299.23,456.98 L299.88,455.31 L300.52,453.66 L301.16,452.05 L301.8,450.47 L302.44,448.92 L303.09,447.41 L303.73,445.93 L304.37,444.49 L305.01,443.1 L305.65,441.73 L306.3,440.39 L306.94,439.08 L307.58,437.79 L308.22,436.53 L308.86,435.29 L309.51,434.07 L310.15,432.87 L310.79,431.69 L311.43,430.53 L312.07,429.39 L312.72,428.26 L313.36,427.15 L314,426.05 L314.64,424.96 L315.28,423.88 L315.93,422.81 L316.57,421.75 L317.21,420.69 L317.85,419.63 L318.49,418.56 L319.14,417.5 L319.78,416.44 L320.42,415.38 L321.06,414.35 L321.7,413.33 L322.35,412.34 L322.99,411.37 L323.63,410.44 L324.27,409.54 L324.91,408.69 L325.56,407.88 L326.2,407.12 L326.84,406.42 L327.48,405.74 L328.12,405.04 L328.77,404.33 L329.41,403.62 L330.05,402.92 L330.69,402.23 L331.33,401.55 L331.98,400.9 L332.62,400.28 L333.26,399.7 L333.9,399.16 L334.54,398.67 L335.19,398.24 L335.83,397.87 L336.47,397.57 L337.11,397.35 L337.75,397.22 L338.4,397.17 L339.04,397.2 L339.68,397.29 L340.32,397.44 L340.96,397.65 L341.61,397.9 L342.25,398.2 L342.89,398.54 L343.53,398.93 L344.17,399.35 L344.82,399.81 L345.46,400.29 L346.1,400.81 L346.74,401.34 L347.38,401.9 L348.03,402.47 L348.67,403.06 L349.31,403.66 L349.95,404.27 L350.59,404.89 L351.24,405.62 L351.88,406.45 L352.52,407.39 L353.16,408.41 L353.8,409.51 L354.45,410.69 L355.09,411.93 L355.73,413.22 L356.37,414.56 L357.01,415.92 L357.66,417.32 L358.3,418.73 L358.94,420.14 L359.58,421.57 L360.22,423.11 L360.87,424.75 L361.51,426.49 L362.15,428.29 L362.79,430.14 L363.43,432.02 L364.08,433.91 L364.72,435.79 L365.36,437.64 L366,439.45 L366.64,441.2 L367.29,442.93 L367.93,444.7 L368.57,446.49 L369.21,448.28 L369.85,450.06 L370.5,451.8 L371.14,453.48 L371.78,455.1 L372.42,456.62 L373.06,458.04 L373.71,459.33 L374.35,460.53 L374.99,461.69 L375.63,462.82 L376.27,463.89 L376.92,464.93 L377.56,465.92 L378.2,466.86 L378.84,467.74 L379.48,468.58 L380.13,469.36 L380.77,470.09 L381.41,470.76 L382.05,471.41 L382.69,472.05 L383.34,472.66 L383.98,473.26 L384.62,473.83 L385.26,474.37 L385.9,474.89 L386.55,475.38 L387.19,475.84 L387.83,476.26 L388.47,476.65 L389.11,477 L389.76,477.32 L390.4,477.59 L391.04,477.85 L391.68,478.1 L392.32,478.33 L392.97,478.55 L393.61,478.76 L394.25,478.96 L394.89,479.15 L395.53,479.33 L396.18,479.5 L396.82,479.66 L397.46,479.81 L398.1,479.96 L398.74,480.1 L399.39,480.23 L400.03,480.36 L400.67,480.48 L401.31,480.6 L401.95,480.72 L402.6,480.84 L403.24,480.95 L403.88,481.06 L404.52,481.16 L405.16,481.26 L405.81,481.36 L406.45,481.45 L407.09,481.53 L407.73,481.62 L408.37,481.69 L409.02,481.76 L409.66,481.82 L410.3,481.88 L410.94,481.92 L411.58,481.97 L412.23,482.02 L412.87,482.06 L413.51,482.1 L414.15,482.14 L414.79,482.18 L415.44,482.22 L416.08,482.26 L416.72,482.29 L417.36,482.33 L418,482.36 L418.65,482.4 L419.29,482.43 L419.93,482.46 L420.57,482.49 L421.21,482.52 L421.86,482.55 L422.5,482.58 L423.14,482.6 L423.78,482.63 L424.42,482.66 L425.07,482.68 L425.71,482.71 L426.35,482.73 L426.99,482.76 L427.63,482.78 L428.28,482.8 L428.92,482.82 L429.56,482.85 L430.2,482.87 L430.84,482.89 L431.49,482.91 L432.13,482.94 L432.77,482.96 L433.41,482.98 L434.05,483 L434.7,483.02 L435.34,483.05 L435.98,483.07 L436.62,483.09 L437.26,483.11 L437.91,483.14 L438.55,483.16 L439.19,483.18 L439.83,483.21 L440.47,483.23 L441.12,483.26 L441.76,483.28 L442.4,483.31 L443.04,483.34 L443.68,483.37" stroke="#e2445f" stroke-width="1.0" fill="none" stroke-linejoin="round"/>
<path d="M281.9,511.5 L282.54,509.29 L283.18,507.05 L283.83,504.79 L284.47,502.51 L285.11,500.23 L285.75,497.94 L286.39,495.66 L287.04,493.39 L287.68,491.13 L288.32,488.89 L288.96,486.68 L289.6,484.5 L290.25,482.35 L290.89,480.25 L291.53,478.21 L292.17,476.21 L292.81,474.28 L293.46,472.36 L294.1,470.46 L294.74,468.58 L295.38,466.72 L296.02,464.87 L296.67,463.05 L297.31,461.26 L297.95,459.48 L298.59,457.74 L299.23,456.02 L299.88,454.33 L300.52,452.66 L301.16,451.03 L301.8,449.44 L302.44,447.87 L303.09,446.34 L303.73,444.85 L304.37,443.39 L305.01,441.98 L305.65,440.59 L306.3,439.23 L306.94,437.9 L307.58,436.59 L308.22,435.31 L308.86,434.05 L309.51,432.81 L310.15,431.6 L310.79,430.4 L311.43,429.22 L312.07,428.06 L312.72,426.91 L313.36,425.78 L314,424.66 L314.64,423.55 L315.28,422.45 L315.93,421.36 L316.57,420.28 L317.21,419.2 L317.85,418.15 L318.49,417.12 L319.14,416.1 L319.78,415.1 L320.42,414.12 L321.06,413.15 L321.7,412.19 L322.35,411.24 L322.99,410.31 L323.63,409.38 L324.27,408.38 L324.91,407.26 L325.56,406.11 L326.2,404.97 L326.84,403.93 L327.48,403.04 L328.12,402.39 L328.77,402.03 L329.41,402 L330.05,402.13 L330.69,402.37 L331.33,402.69 L331.98,403.06 L332.62,403.45 L333.26,403.83 L333.9,404.21 L334.54,404.62 L335.19,405.05 L335.83,405.5 L336.47,405.99 L337.11,406.5 L337.75,407.04 L338.4,407.62 L339.04,408.22 L339.68,408.85 L340.32,409.52 L340.96,410.22 L341.61,410.96 L342.25,411.73 L342.89,412.54 L343.53,413.38 L344.17,414.28 L344.82,415.35 L345.46,416.57 L346.1,417.94 L346.74,419.42 L347.38,421.01 L348.03,422.68 L348.67,424.4 L349.31,426.16 L349.95,427.95 L350.59,429.73 L351.24,431.48 L351.88,433.2 L352.52,434.85 L353.16,436.44 L353.8,438.02 L354.45,439.61 L355.09,441.22 L355.73,442.82 L356.37,444.43 L357.01,446.04 L357.66,447.65 L358.3,449.25 L358.94,450.84 L359.58,452.42 L360.22,453.99 L360.87,455.54 L361.51,457.08 L362.15,458.59 L362.79,460.11 L363.43,461.65 L364.08,463.21 L364.72,464.78 L365.36,466.34 L366,467.9 L366.64,469.42 L367.29,470.91 L367.93,472.36 L368.57,473.75 L369.21,475.08 L369.85,476.33 L370.5,477.5 L371.14,478.57 L371.78,479.59 L372.42,480.59 L373.06,481.58 L373.71,482.55 L374.35,483.49 L374.99,484.39 L375.63,485.25 L376.27,486.07 L376.92,486.84 L377.56,487.54 L378.2,488.19 L378.84,488.76 L379.48,489.26 L380.13,489.67 L380.77,490.03 L381.41,490.37 L382.05,490.7 L382.69,491 L383.34,491.28 L383.98,491.54 L384.62,491.78 L385.26,492 L385.9,492.19 L386.55,492.36 L387.19,492.51 L387.83,492.63 L388.47,492.73 L389.11,492.83 L389.76,492.92 L390.4,493 L391.04,493.08 L391.68,493.15 L392.32,493.21 L392.97,493.27 L393.61,493.33 L394.25,493.39 L394.89,493.44 L395.53,493.49 L396.18,493.55 L396.82,493.6 L397.46,493.65 L398.1,493.71 L398.74,493.77 L399.39,493.83 L400.03,493.89 L400.67,493.95 L401.31,494 L401.95,494.06 L402.6,494.12 L403.24,494.17 L403.88,494.23 L404.52,494.28 L405.16,494.34 L405.81,494.39 L406.45,494.45 L407.09,494.5 L407.73,494.55 L408.37,494.61 L409.02,494.66 L409.66,494.71 L410.3,494.76 L410.94,494.81 L411.58,494.86 L412.23,494.92 L412.87,494.97 L413.51,495.02 L414.15,495.06 L414.79,495.11 L415.44,495.16 L416.08,495.21 L416.72,495.26 L417.36,495.31 L418,495.36 L418.65,495.4 L419.29,495.45 L419.93,495.5 L420.57,495.54 L421.21,495.59 L421.86,495.64 L422.5,495.68 L423.14,495.73 L423.78,495.77 L424.42,495.82 L425.07,495.86 L425.71,495.9 L426.35,495.95 L426.99,495.99 L427.63,496.03 L428.28,496.07 L428.92,496.11 L429.56,496.16 L430.2,496.2 L430.84,496.24 L431.49,496.28 L432.13,496.32 L432.77,496.36 L433.41,496.4 L434.05,496.44 L434.7,496.48 L435.34,496.52 L435.98,496.56 L436.62,496.6 L437.26,496.64 L437.91,496.68 L438.55,496.72 L439.19,496.76 L439.83,496.8 L440.47,496.84 L441.12,496.88 L441.76,496.93 L442.4,496.97 L443.04,497.01 L443.68,497.05" stroke="#a41d4d" stroke-width="1.0" fill="none" stroke-linejoin="round"/>
</g>
<rect x="357.4" y="383.8" width="81.3" height="57.6" stroke="#dcdcdc" stroke-width="0.8" fill="none"/>
<line x1="357.8" y1="389.2" x2="376" y2="389.2" stroke="#3f86d0" stroke-width="1.3"/>
<text x="377.8" y="391.92" font-size="7.6" textLength="53.3" lengthAdjust="spacingAndGlyphs">PzA5:L8BO ε=0.1</text>
<line x1="357.8" y1="398.6" x2="376" y2="398.6" stroke="#5f9edc" stroke-width="1.3"/>
<text x="377.8" y="401.32" font-size="7.6" textLength="54.8" lengthAdjust="spacingAndGlyphs">PzA5:L8BO ε=1%</text>
<line x1="357.8" y1="408.2" x2="376" y2="408.2" stroke="#c8def2" stroke-width="2.2"/>
<text x="377.8" y="410.92" font-size="7.6" textLength="59.9" lengthAdjust="spacingAndGlyphs">PzA5:L8BO ε=2.5%</text>
<line x1="357.8" y1="417.8" x2="376" y2="417.8" stroke="#a41d4d" stroke-width="1.3"/>
<text x="377.8" y="420.52" font-size="7.6" textLength="51.9" lengthAdjust="spacingAndGlyphs">UVC+ASH ε=0.1</text>
<line x1="357.8" y1="427.3" x2="376" y2="427.3" stroke="#e2445f" stroke-width="1.3"/>
<text x="377.8" y="430.02" font-size="7.6" textLength="56.5" lengthAdjust="spacingAndGlyphs">UVC+ASH ε=10%</text>
<line x1="357.8" y1="436.9" x2="376" y2="436.9" stroke="#f294a8" stroke-width="1.3"/>
<text x="377.8" y="439.62" font-size="7.6" textLength="56.5" lengthAdjust="spacingAndGlyphs">UVC+ASH ε=40%</text>
<line x1="281.9" y1="382.4" x2="442.5" y2="382.4" stroke="#9a9a9a" stroke-width="1.4"/>
<line x1="281.9" y1="511.5" x2="442.5" y2="511.5" stroke="#777" stroke-width="1"/>
<line x1="281.9" y1="381.7" x2="281.9" y2="512" stroke="#9a9a9a" stroke-width="1.5"/>
<line x1="442.5" y1="381.7" x2="442.5" y2="512" stroke="#888" stroke-width="1"/>
<line x1="281.5" y1="511.5" x2="281.5" y2="514" stroke="#777" stroke-width="1"/>
<line x1="346.5" y1="511.5" x2="346.5" y2="514" stroke="#777" stroke-width="1"/>
<line x1="410.5" y1="511.5" x2="410.5" y2="514" stroke="#777" stroke-width="1"/>
<line x1="314.5" y1="511.5" x2="314.5" y2="513" stroke="#777" stroke-width="1"/>
<line x1="378.5" y1="511.5" x2="378.5" y2="513" stroke="#777" stroke-width="1"/>
<line x1="442.5" y1="511.5" x2="442.5" y2="513" stroke="#777" stroke-width="1"/>
<line x1="281.9" y1="511.5" x2="279.1" y2="511.5" stroke="#777" stroke-width="1"/>
<line x1="281.9" y1="474.5" x2="279.1" y2="474.5" stroke="#777" stroke-width="1"/>
<line x1="281.9" y1="437.5" x2="279.1" y2="437.5" stroke="#777" stroke-width="1"/>
<line x1="281.9" y1="400.5" x2="279.1" y2="400.5" stroke="#777" stroke-width="1"/>
<line x1="281.9" y1="493.5" x2="280.3" y2="493.5" stroke="#777" stroke-width="1"/>
<line x1="281.9" y1="456.5" x2="280.3" y2="456.5" stroke="#777" stroke-width="1"/>
<line x1="281.9" y1="419.5" x2="280.3" y2="419.5" stroke="#777" stroke-width="1"/>
<text x="281.9" y="523.58" font-size="10" text-anchor="middle">0</text>
<text x="346.1" y="523.58" font-size="10" text-anchor="middle">2</text>
<text x="410.3" y="523.58" font-size="10" text-anchor="middle">4</text>
<text x="277.6" y="513.58" font-size="10" text-anchor="end">0</text>
<text x="277.6" y="476.58" font-size="10" text-anchor="end">10</text>
<text x="277.6" y="439.58" font-size="10" text-anchor="end">20</text>
<text x="277.6" y="402.58" font-size="10" text-anchor="end">30</text>
<text x="338.2" y="545.3" font-size="11.5" textLength="47.5" lengthAdjust="spacingAndGlyphs">Time (µs)</text>
<g transform="translate(263.3,513.1) rotate(-90)">
<text x="0" y="0" font-size="12" textLength="122.45" lengthAdjust="spacingAndGlyphs">Current density (mA cm</text>
<text x="122.45" y="-5.3" font-size="8" textLength="6.95" lengthAdjust="spacingAndGlyphs">-2</text>
<text x="129.4" y="0" font-size="12" textLength="3.9" lengthAdjust="spacingAndGlyphs">)</text>
</g>
<text x="234.4" y="389.3" font-size="19" fill="#050505" style="stroke:none">h</text>
<path d="M523.3,388.71 L642.9,428.22 L678.9,450.46" stroke="#e2607a" stroke-width="1.1" fill="none" stroke-linejoin="round"/>
<path d="M523.3,442.16 L583.1,487.73 L606.9,507.73" stroke="#68a8e2" stroke-width="1.1" fill="none" stroke-linejoin="round"/>
<circle cx="523.3" cy="388.71" r="1.7" fill="#e2607a"/>
<circle cx="642.9" cy="428.22" r="1.7" fill="#e2607a"/>
<circle cx="678.9" cy="450.46" r="1.7" fill="#e2607a"/>
<rect x="521.8" y="440.66" width="3" height="3" fill="#68a8e2"/>
<rect x="581.6" y="486.23" width="3" height="3" fill="#68a8e2"/>
<rect x="605.4" y="506.23" width="3" height="3" fill="#68a8e2"/>
<line x1="521" y1="382.5" x2="681.5" y2="382.5" stroke="#999" stroke-width="1"/>
<line x1="521" y1="511.5" x2="681.5" y2="511.5" stroke="#666" stroke-width="1"/>
<line x1="521" y1="382" x2="521" y2="512" stroke="#bbb" stroke-width="1.5"/>
<line x1="681.5" y1="382" x2="681.5" y2="512" stroke="#777" stroke-width="1"/>
<line x1="523.5" y1="511.5" x2="523.5" y2="514" stroke="#888" stroke-width="1"/>
<line x1="583.5" y1="511.5" x2="583.5" y2="514" stroke="#888" stroke-width="1"/>
<line x1="642.5" y1="511.5" x2="642.5" y2="514" stroke="#888" stroke-width="1"/>
<line x1="541.5" y1="511.5" x2="541.5" y2="513" stroke="#888" stroke-width="1"/>
<line x1="551.5" y1="511.5" x2="551.5" y2="513" stroke="#888" stroke-width="1"/>
<line x1="559.5" y1="511.5" x2="559.5" y2="513" stroke="#888" stroke-width="1"/>
<line x1="565.5" y1="511.5" x2="565.5" y2="513" stroke="#888" stroke-width="1"/>
<line x1="569.5" y1="511.5" x2="569.5" y2="513" stroke="#888" stroke-width="1"/>
<line x1="573.5" y1="511.5" x2="573.5" y2="513" stroke="#888" stroke-width="1"/>
<line x1="577.5" y1="511.5" x2="577.5" y2="513" stroke="#888" stroke-width="1"/>
<line x1="580.5" y1="511.5" x2="580.5" y2="513" stroke="#888" stroke-width="1"/>
<line x1="601.5" y1="511.5" x2="601.5" y2="513" stroke="#888" stroke-width="1"/>
<line x1="611.5" y1="511.5" x2="611.5" y2="513" stroke="#888" stroke-width="1"/>
<line x1="619.5" y1="511.5" x2="619.5" y2="513" stroke="#888" stroke-width="1"/>
<line x1="624.5" y1="511.5" x2="624.5" y2="513" stroke="#888" stroke-width="1"/>
<line x1="629.5" y1="511.5" x2="629.5" y2="513" stroke="#888" stroke-width="1"/>
<line x1="633.5" y1="511.5" x2="633.5" y2="513" stroke="#888" stroke-width="1"/>
<line x1="637.5" y1="511.5" x2="637.5" y2="513" stroke="#888" stroke-width="1"/>
<line x1="640.5" y1="511.5" x2="640.5" y2="513" stroke="#888" stroke-width="1"/>
<line x1="660.5" y1="511.5" x2="660.5" y2="513" stroke="#888" stroke-width="1"/>
<line x1="671.5" y1="511.5" x2="671.5" y2="513" stroke="#888" stroke-width="1"/>
<line x1="678.5" y1="511.5" x2="678.5" y2="513" stroke="#888" stroke-width="1"/>
<line x1="521" y1="498.5" x2="518.2" y2="498.5" stroke="#888" stroke-width="1"/>
<line x1="521" y1="482.5" x2="518.2" y2="482.5" stroke="#888" stroke-width="1"/>
<line x1="521" y1="465.5" x2="518.2" y2="465.5" stroke="#888" stroke-width="1"/>
<line x1="521" y1="448.5" x2="518.2" y2="448.5" stroke="#888" stroke-width="1"/>
<line x1="521" y1="432.5" x2="518.2" y2="432.5" stroke="#888" stroke-width="1"/>
<line x1="521" y1="415.5" x2="518.2" y2="415.5" stroke="#888" stroke-width="1"/>
<line x1="521" y1="399.5" x2="518.2" y2="399.5" stroke="#888" stroke-width="1"/>
<line x1="521" y1="382.5" x2="518.2" y2="382.5" stroke="#888" stroke-width="1"/>
<line x1="521" y1="506.5" x2="519.4" y2="506.5" stroke="#888" stroke-width="1"/>
<line x1="521" y1="490.5" x2="519.4" y2="490.5" stroke="#888" stroke-width="1"/>
<line x1="521" y1="473.5" x2="519.4" y2="473.5" stroke="#888" stroke-width="1"/>
<line x1="521" y1="457.5" x2="519.4" y2="457.5" stroke="#888" stroke-width="1"/>
<line x1="521" y1="440.5" x2="519.4" y2="440.5" stroke="#888" stroke-width="1"/>
<line x1="521" y1="423.5" x2="519.4" y2="423.5" stroke="#888" stroke-width="1"/>
<line x1="521" y1="407.5" x2="519.4" y2="407.5" stroke="#888" stroke-width="1"/>
<line x1="521" y1="390.5" x2="519.4" y2="390.5" stroke="#888" stroke-width="1"/>
<text x="523.3" y="522.98" font-size="10" text-anchor="middle">0.1</text>
<text x="583.1" y="522.98" font-size="10" text-anchor="middle">1</text>
<text x="642.9" y="522.98" font-size="10" text-anchor="middle">10</text>
<text x="517" y="500.78" font-size="10" text-anchor="end">6</text>
<text x="517" y="484.18" font-size="10" text-anchor="end">8</text>
<text x="517" y="467.58" font-size="10" text-anchor="end">10</text>
<text x="517" y="450.98" font-size="10" text-anchor="end">12</text>
<text x="517" y="434.38" font-size="10" text-anchor="end">14</text>
<text x="517" y="417.78" font-size="10" text-anchor="end">16</text>
<text x="517" y="401.18" font-size="10" text-anchor="end">18</text>
<text x="517" y="384.58" font-size="10" text-anchor="end">20</text>
<line x1="609.7" y1="479.7" x2="631.5" y2="479.7" stroke="#68a8e2" stroke-width="1.1"/>
<rect x="619" y="478.1" width="3.2" height="3.2" fill="#68a8e2"/>
<text x="634.9" y="483.24" font-size="9.9" textLength="42.7" lengthAdjust="spacingAndGlyphs">PzA5:L8BO</text>
<line x1="609.7" y1="491.8" x2="631.5" y2="491.8" stroke="#e2607a" stroke-width="1.1"/>
<circle cx="620.6" cy="491.8" r="1.6" fill="#e2607a"/>
<text x="634.9" y="495.34" font-size="9.9" textLength="40.3" lengthAdjust="spacingAndGlyphs">UVC+ASH</text>
<text x="576.4" y="543.8" font-size="11.5" textLength="49.7" lengthAdjust="spacingAndGlyphs">Strain (%)</text>
<g transform="translate(501.2,515.5) rotate(-90)">
<text x="0" y="0" font-size="12" textLength="68.34" lengthAdjust="spacingAndGlyphs">Mobility (×10</text>
<text x="68.34" y="-5.3" font-size="8" textLength="7.11" lengthAdjust="spacingAndGlyphs">-5</text>
<text x="75.45" y="0" font-size="12" textLength="19.32" lengthAdjust="spacingAndGlyphs"> cm</text>
<text x="94.77" y="-5.3" font-size="8" textLength="4.45" lengthAdjust="spacingAndGlyphs">2</text>
<text x="99.22" y="0" font-size="12" textLength="11.33" lengthAdjust="spacingAndGlyphs"> V</text>
<text x="110.55" y="-5.3" font-size="8" textLength="7.11" lengthAdjust="spacingAndGlyphs">-1</text>
<text x="117.66" y="0" font-size="12" textLength="9.33" lengthAdjust="spacingAndGlyphs"> s</text>
<text x="126.99" y="-5.3" font-size="8" textLength="7.11" lengthAdjust="spacingAndGlyphs">-1</text>
<text x="134.1" y="0" font-size="12" textLength="4" lengthAdjust="spacingAndGlyphs">)</text>
</g>
<text x="480" y="389.3" font-size="19" fill="#050505" style="stroke:none">i</text>
</svg>
</body></html>
